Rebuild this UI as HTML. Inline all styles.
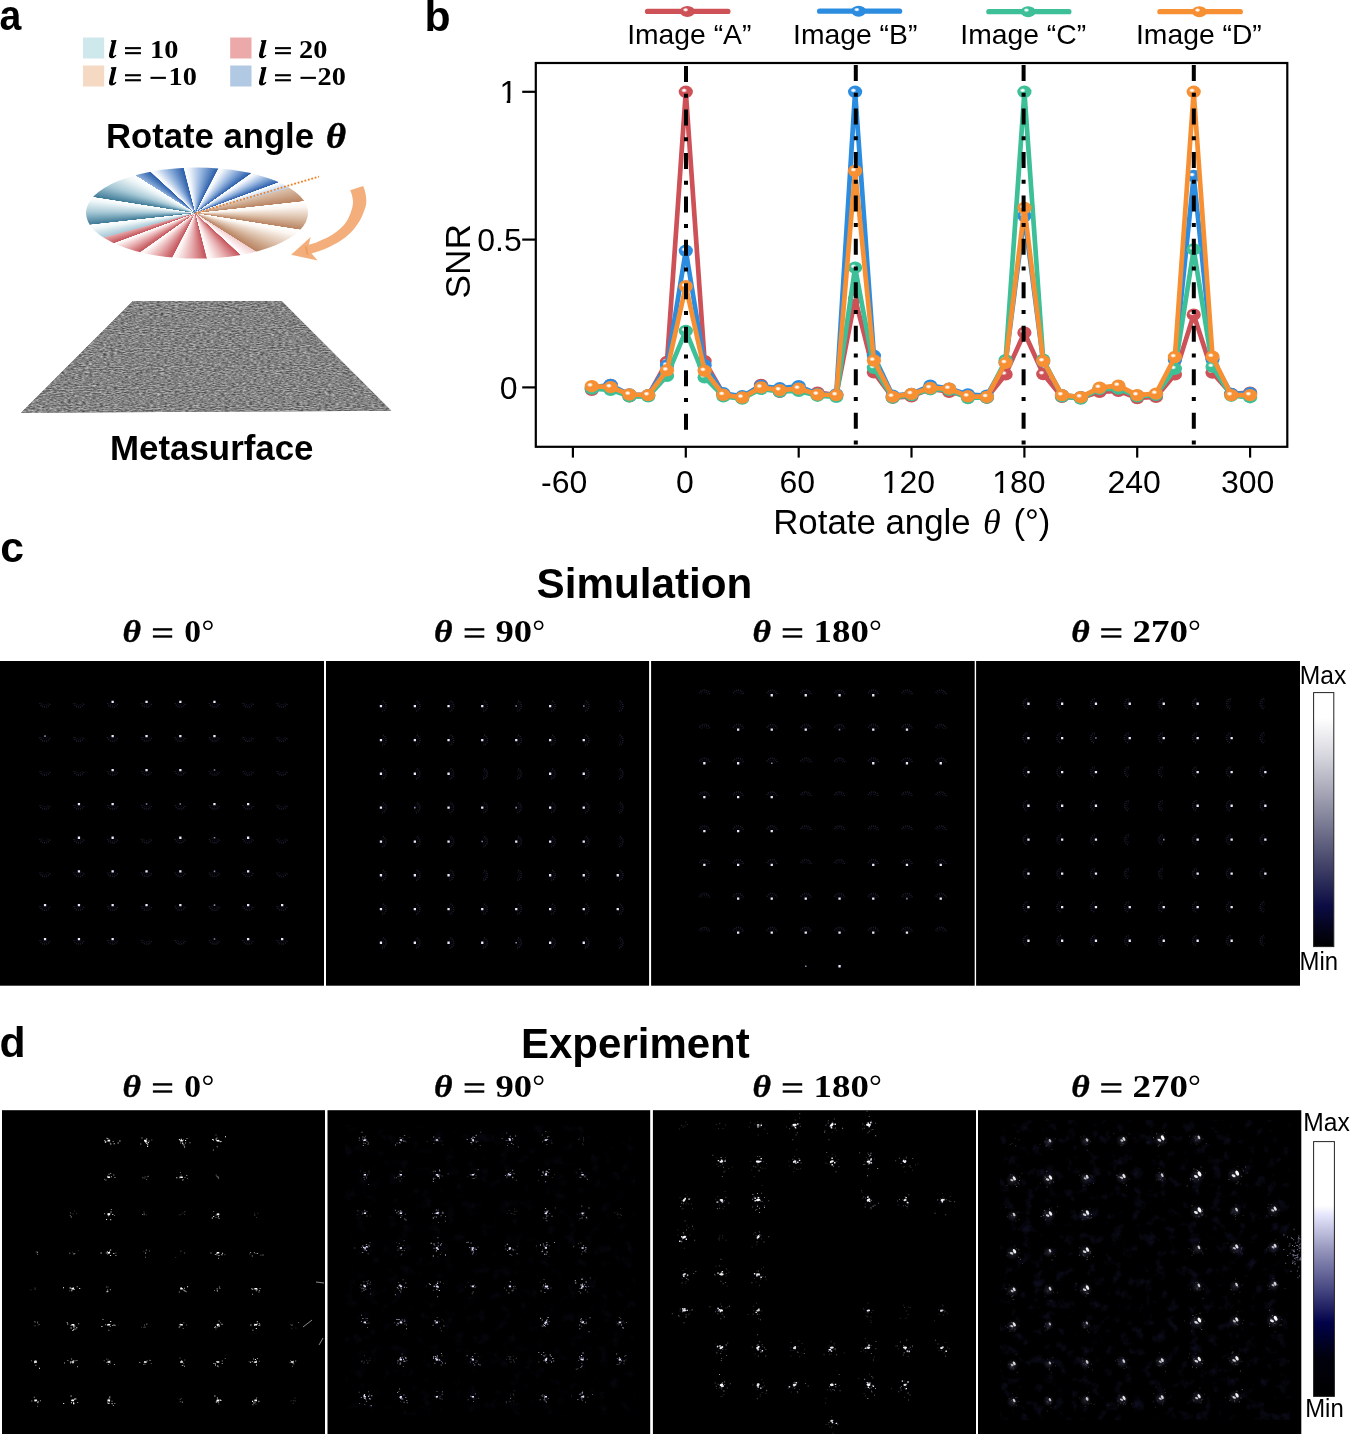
<!DOCTYPE html>
<html><head><meta charset="utf-8"><title>Figure</title>
<style>
html,body{margin:0;padding:0;background:#fff;}
body{width:1350px;height:1434px;position:relative;overflow:hidden;font-family:"Liberation Sans",sans-serif;}
svg{position:absolute;left:0;top:0;will-change:transform;}
text{font-family:"Liberation Sans",sans-serif;fill:#000;}
.b{font-weight:bold;}
.se{font-family:"Liberation Serif",serif;}
.sbi{font-family:"Liberation Serif",serif;font-weight:bold;font-style:italic;}
.sb{font-family:"Liberation Serif",serif;font-weight:bold;}
#disk{position:absolute;left:86.2px;top:102.1px;width:222.2px;height:222.2px;border-radius:50%;
 transform:scaleY(0.4104);transform-origin:50% 50%;background-color:#cdc3c9;
 background:conic-gradient(from 327deg at 49.2% 50%, #8fb0dc 0.20deg, #2c5fab 8.80deg, #ffffff 9.20deg, #eef3fb 11.70deg, #8fb0dc 18.90deg, #2c5fab 26.80deg, #ffffff 27.20deg, #eef3fb 29.70deg, #8fb0dc 36.90deg, #2c5fab 44.80deg, #ffffff 45.20deg, #eef3fb 47.70deg, #8fb0dc 54.90deg, #2c5fab 62.80deg, #ffffff 63.20deg, #eef3fb 65.70deg, #8fb0dc 72.90deg, #2c5fab 80.80deg, #ffffff 81.20deg, #b9cfec 89.80deg, #dcc0aa 90.20deg, #b98462 107.80deg, #ffffff 108.20deg, #fbf5f0 115.20deg, #dcc0aa 129.60deg, #b98462 143.80deg, #ffffff 144.20deg, #fbf5f0 151.20deg, #dcc0aa 165.60deg, #b98462 179.80deg, #f3cfd1 180.20deg, #ffffff 188.80deg, #c4555b 189.20deg, #e6a9ab 197.10deg, #fbeeee 204.30deg, #ffffff 206.80deg, #c4555b 207.20deg, #e6a9ab 215.10deg, #fbeeee 222.30deg, #ffffff 224.80deg, #c4555b 225.20deg, #e6a9ab 233.10deg, #fbeeee 240.30deg, #ffffff 242.80deg, #c4555b 243.20deg, #e6a9ab 251.10deg, #fbeeee 258.30deg, #ffffff 260.80deg, #c4555b 261.20deg, #e6a9ab 269.80deg, #a7c9d6 270.20deg, #eef6f8 282.60deg, #ffffff 287.80deg, #3f7b98 288.20deg, #a7c9d6 304.20deg, #eef6f8 318.60deg, #ffffff 323.80deg, #3f7b98 324.20deg, #a7c9d6 340.20deg, #eef6f8 354.60deg, #ffffff 359.80deg);}
</style></head><body>
<div id="disk"></div>
<svg width="1350" height="1434" viewBox="0 0 1350 1434">
<text class="b" x="-0.4" y="30.4" font-size="42.7" textLength="21.8" lengthAdjust="spacingAndGlyphs">a</text>
<text class="b" x="424.6" y="30.6" font-size="42.7">b</text>
<rect x="83" y="37.5" width="21.2" height="21" fill="#cfe8ec"/>
<rect x="83" y="65.5" width="21.2" height="21" fill="#f5d9c3"/>
<rect x="230.2" y="37.5" width="21.3" height="21" fill="#eba9a9"/>
<rect x="230.2" y="65.5" width="21.3" height="21" fill="#b1c9e3"/>
<defs><path id="ell" d="M111.1,40.2 L116.5,40 L113.1,54.6 Q112.8,56.5 113.9,56 L115.6,54.7 L116.5,55.6 Q114.5,58.3 111.6,58.3 Q108.5,58.3 109,54.6 L111.9,41.9 L110.8,41.3 Z"/></defs>
<use href="#ell" x="0.0" y="0.0"/><rect x="125.0" y="47.1" width="15.9" height="2.1" fill="#000"/><rect x="125.0" y="52.1" width="15.9" height="2.1" fill="#000"/><text class="sb" x="150.0" y="58.0" font-size="25.2" textLength="28.3" lengthAdjust="spacingAndGlyphs">10</text>
<use href="#ell" x="0.0" y="27.1"/><rect x="125.0" y="74.2" width="15.9" height="2.1" fill="#000"/><rect x="125.0" y="79.2" width="15.9" height="2.1" fill="#000"/><rect x="150.5" y="76.8" width="15.4" height="2.1" fill="#000"/><text class="sb" x="168.6" y="85.1" font-size="25.2" textLength="28.3" lengthAdjust="spacingAndGlyphs">10</text>
<use href="#ell" x="150.0" y="0.0"/><rect x="275.0" y="47.1" width="15.9" height="2.1" fill="#000"/><rect x="275.0" y="52.1" width="15.9" height="2.1" fill="#000"/><text class="sb" x="299.0" y="58.0" font-size="25.2" textLength="28.3" lengthAdjust="spacingAndGlyphs">20</text>
<use href="#ell" x="150.0" y="27.1"/><rect x="275.0" y="74.2" width="15.9" height="2.1" fill="#000"/><rect x="275.0" y="79.2" width="15.9" height="2.1" fill="#000"/><rect x="300.5" y="76.8" width="15.4" height="2.1" fill="#000"/><text class="sb" x="317.6" y="85.1" font-size="25.2" textLength="28.3" lengthAdjust="spacingAndGlyphs">20</text>
<text class="b" x="106" y="148.1" font-size="34.5" textLength="208" lengthAdjust="spacingAndGlyphs">Rotate angle</text>
<text class="sbi" x="326" y="148.1" font-size="35" textLength="20" lengthAdjust="spacingAndGlyphs" stroke="#000" stroke-width="0.5">θ</text>
<text class="b" x="110" y="459.5" font-size="35" textLength="203.5" lengthAdjust="spacingAndGlyphs">Metasurface</text>
<line x1="195.6" y1="213.3" x2="318.9" y2="176.6" stroke="#f07f20" stroke-width="1.8" stroke-dasharray="1.8 1.75"/>
<path d="M363.2,186.1 C367.5,197 366.8,205 364.4,210 C362.5,216 360,221 356.7,225.2 C353.5,230 349.5,234 345.2,237.5 C340.5,241 335.5,244 329.8,246.7 C324,249.5 318,251.8 311.5,253.4 L317.6,260.5 L291.1,254.7 L310.7,237.1 L308.8,244.8 C313.5,243.8 318,241.9 322.2,239.8 C326.5,238 330.3,236 333.7,233.7 C337.5,231.2 340.8,228.4 343.7,225.2 C346.8,221.5 349,217.5 350.6,212.9 C352.3,208 353.3,204 352.9,200.7 C352.6,197 351.7,193.5 350.2,190.3 Z" fill="#f3ae7b"/>
<path d="M305.6,246.2 L307.6,254.6" stroke="#ec9550" stroke-width="1.6" fill="none" opacity="0.8"/>
<filter id="noise" x="0" y="0" width="100%" height="100%" color-interpolation-filters="sRGB"><feTurbulence type="fractalNoise" baseFrequency="0.28 0.95" numOctaves="2" seed="5"/><feColorMatrix type="matrix" values="0.68 0 0 0 0.175  0.68 0 0 0 0.175  0.68 0 0 0 0.175  0 0 0 0 1"/><feComposite operator="in" in2="SourceGraphic"/></filter>
<polygon points="132.8,301 281.6,301 391.3,410.8 21,412.8" fill="#858585"/>
<polygon points="132.8,301 281.6,301 391.3,410.8 21,412.8" fill="#858585" filter="url(#noise)"/>
<defs><radialGradient id="hl"><stop offset="0" stop-color="#fff" stop-opacity="1"/><stop offset="0.4" stop-color="#fff" stop-opacity="0.9"/><stop offset="1" stop-color="#fff" stop-opacity="0"/></radialGradient></defs>
<polyline points="591.8,389.8 610.6,385.0 629.4,396.3 648.2,395.7 667.0,362.0 685.8,91.8 704.6,361.1 723.4,393.9 742.2,397.5 761.0,385.0 779.8,391.8 798.7,389.2 817.5,392.7 836.3,395.1 855.1,298.7 873.9,372.3 892.7,397.7 911.5,396.3 930.3,388.9 949.1,391.8 967.9,396.3 986.8,397.7 1005.6,374.4 1024.4,332.7 1043.2,374.1 1062.0,396.9 1080.8,398.0 1099.6,391.8 1118.4,390.9 1137.2,398.0 1156.0,396.9 1174.9,374.4 1193.7,314.7 1212.5,372.6 1231.3,393.9 1250.1,392.7" fill="none" stroke="#cd5156" stroke-width="4.7" stroke-linejoin="round" stroke-linecap="round"/><ellipse cx="591.8" cy="389.8" rx="7.1" ry="6.2" fill="#cd5156"/><ellipse cx="590.0" cy="388.4" rx="3.1" ry="2.3" fill="url(#hl)"/><ellipse cx="610.6" cy="385.0" rx="7.1" ry="6.2" fill="#cd5156"/><ellipse cx="608.9" cy="383.6" rx="3.1" ry="2.3" fill="url(#hl)"/><ellipse cx="629.4" cy="396.3" rx="7.1" ry="6.2" fill="#cd5156"/><ellipse cx="627.7" cy="394.9" rx="3.1" ry="2.3" fill="url(#hl)"/><ellipse cx="648.2" cy="395.7" rx="7.1" ry="6.2" fill="#cd5156"/><ellipse cx="646.5" cy="394.3" rx="3.1" ry="2.3" fill="url(#hl)"/><ellipse cx="667.0" cy="362.0" rx="7.1" ry="6.2" fill="#cd5156"/><ellipse cx="665.3" cy="360.6" rx="3.1" ry="2.3" fill="url(#hl)"/><ellipse cx="685.8" cy="91.8" rx="7.1" ry="6.2" fill="#cd5156"/><ellipse cx="684.1" cy="90.4" rx="3.1" ry="2.3" fill="url(#hl)"/><ellipse cx="704.6" cy="361.1" rx="7.1" ry="6.2" fill="#cd5156"/><ellipse cx="702.9" cy="359.7" rx="3.1" ry="2.3" fill="url(#hl)"/><ellipse cx="723.4" cy="393.9" rx="7.1" ry="6.2" fill="#cd5156"/><ellipse cx="721.7" cy="392.5" rx="3.1" ry="2.3" fill="url(#hl)"/><ellipse cx="742.2" cy="397.5" rx="7.1" ry="6.2" fill="#cd5156"/><ellipse cx="740.5" cy="396.1" rx="3.1" ry="2.3" fill="url(#hl)"/><ellipse cx="761.0" cy="385.0" rx="7.1" ry="6.2" fill="#cd5156"/><ellipse cx="759.3" cy="383.6" rx="3.1" ry="2.3" fill="url(#hl)"/><ellipse cx="779.8" cy="391.8" rx="7.1" ry="6.2" fill="#cd5156"/><ellipse cx="778.1" cy="390.4" rx="3.1" ry="2.3" fill="url(#hl)"/><ellipse cx="798.7" cy="389.2" rx="7.1" ry="6.2" fill="#cd5156"/><ellipse cx="797.0" cy="387.8" rx="3.1" ry="2.3" fill="url(#hl)"/><ellipse cx="817.5" cy="392.7" rx="7.1" ry="6.2" fill="#cd5156"/><ellipse cx="815.8" cy="391.3" rx="3.1" ry="2.3" fill="url(#hl)"/><ellipse cx="836.3" cy="395.1" rx="7.1" ry="6.2" fill="#cd5156"/><ellipse cx="834.6" cy="393.7" rx="3.1" ry="2.3" fill="url(#hl)"/><ellipse cx="855.1" cy="298.7" rx="7.1" ry="6.2" fill="#cd5156"/><ellipse cx="853.4" cy="297.3" rx="3.1" ry="2.3" fill="url(#hl)"/><ellipse cx="873.9" cy="372.3" rx="7.1" ry="6.2" fill="#cd5156"/><ellipse cx="872.2" cy="370.9" rx="3.1" ry="2.3" fill="url(#hl)"/><ellipse cx="892.7" cy="397.7" rx="7.1" ry="6.2" fill="#cd5156"/><ellipse cx="891.0" cy="396.3" rx="3.1" ry="2.3" fill="url(#hl)"/><ellipse cx="911.5" cy="396.3" rx="7.1" ry="6.2" fill="#cd5156"/><ellipse cx="909.8" cy="394.9" rx="3.1" ry="2.3" fill="url(#hl)"/><ellipse cx="930.3" cy="388.9" rx="7.1" ry="6.2" fill="#cd5156"/><ellipse cx="928.6" cy="387.5" rx="3.1" ry="2.3" fill="url(#hl)"/><ellipse cx="949.1" cy="391.8" rx="7.1" ry="6.2" fill="#cd5156"/><ellipse cx="947.4" cy="390.4" rx="3.1" ry="2.3" fill="url(#hl)"/><ellipse cx="967.9" cy="396.3" rx="7.1" ry="6.2" fill="#cd5156"/><ellipse cx="966.2" cy="394.9" rx="3.1" ry="2.3" fill="url(#hl)"/><ellipse cx="986.8" cy="397.7" rx="7.1" ry="6.2" fill="#cd5156"/><ellipse cx="985.1" cy="396.3" rx="3.1" ry="2.3" fill="url(#hl)"/><ellipse cx="1005.6" cy="374.4" rx="7.1" ry="6.2" fill="#cd5156"/><ellipse cx="1003.9" cy="373.0" rx="3.1" ry="2.3" fill="url(#hl)"/><ellipse cx="1024.4" cy="332.7" rx="7.1" ry="6.2" fill="#cd5156"/><ellipse cx="1022.7" cy="331.3" rx="3.1" ry="2.3" fill="url(#hl)"/><ellipse cx="1043.2" cy="374.1" rx="7.1" ry="6.2" fill="#cd5156"/><ellipse cx="1041.5" cy="372.7" rx="3.1" ry="2.3" fill="url(#hl)"/><ellipse cx="1062.0" cy="396.9" rx="7.1" ry="6.2" fill="#cd5156"/><ellipse cx="1060.3" cy="395.5" rx="3.1" ry="2.3" fill="url(#hl)"/><ellipse cx="1080.8" cy="398.0" rx="7.1" ry="6.2" fill="#cd5156"/><ellipse cx="1079.1" cy="396.6" rx="3.1" ry="2.3" fill="url(#hl)"/><ellipse cx="1099.6" cy="391.8" rx="7.1" ry="6.2" fill="#cd5156"/><ellipse cx="1097.9" cy="390.4" rx="3.1" ry="2.3" fill="url(#hl)"/><ellipse cx="1118.4" cy="390.9" rx="7.1" ry="6.2" fill="#cd5156"/><ellipse cx="1116.7" cy="389.5" rx="3.1" ry="2.3" fill="url(#hl)"/><ellipse cx="1137.2" cy="398.0" rx="7.1" ry="6.2" fill="#cd5156"/><ellipse cx="1135.5" cy="396.6" rx="3.1" ry="2.3" fill="url(#hl)"/><ellipse cx="1156.0" cy="396.9" rx="7.1" ry="6.2" fill="#cd5156"/><ellipse cx="1154.3" cy="395.5" rx="3.1" ry="2.3" fill="url(#hl)"/><ellipse cx="1174.9" cy="374.4" rx="7.1" ry="6.2" fill="#cd5156"/><ellipse cx="1173.2" cy="373.0" rx="3.1" ry="2.3" fill="url(#hl)"/><ellipse cx="1193.7" cy="314.7" rx="7.1" ry="6.2" fill="#cd5156"/><ellipse cx="1192.0" cy="313.3" rx="3.1" ry="2.3" fill="url(#hl)"/><ellipse cx="1212.5" cy="372.6" rx="7.1" ry="6.2" fill="#cd5156"/><ellipse cx="1210.8" cy="371.2" rx="3.1" ry="2.3" fill="url(#hl)"/><ellipse cx="1231.3" cy="393.9" rx="7.1" ry="6.2" fill="#cd5156"/><ellipse cx="1229.6" cy="392.5" rx="3.1" ry="2.3" fill="url(#hl)"/><ellipse cx="1250.1" cy="392.7" rx="7.1" ry="6.2" fill="#cd5156"/><ellipse cx="1248.4" cy="391.3" rx="3.1" ry="2.3" fill="url(#hl)"/>
<polyline points="591.8,387.4 610.6,385.0 629.4,394.5 648.2,395.1 667.0,365.5 685.8,250.8 704.6,365.2 723.4,393.3 742.2,396.3 761.0,385.9 779.8,388.3 798.7,386.2 817.5,393.9 836.3,394.5 855.1,91.8 873.9,355.8 892.7,395.7 911.5,393.9 930.3,385.6 949.1,388.6 967.9,394.5 986.8,395.7 1005.6,362.3 1024.4,216.0 1043.2,361.4 1062.0,395.1 1080.8,397.2 1099.6,388.6 1118.4,387.4 1137.2,395.7 1156.0,394.5 1174.9,359.9 1193.7,176.0 1212.5,359.3 1231.3,393.9 1250.1,393.3" fill="none" stroke="#2c8de0" stroke-width="4.7" stroke-linejoin="round" stroke-linecap="round"/><ellipse cx="591.8" cy="387.4" rx="7.1" ry="6.2" fill="#2c8de0"/><ellipse cx="590.0" cy="386.0" rx="3.1" ry="2.3" fill="url(#hl)"/><ellipse cx="610.6" cy="385.0" rx="7.1" ry="6.2" fill="#2c8de0"/><ellipse cx="608.9" cy="383.6" rx="3.1" ry="2.3" fill="url(#hl)"/><ellipse cx="629.4" cy="394.5" rx="7.1" ry="6.2" fill="#2c8de0"/><ellipse cx="627.7" cy="393.1" rx="3.1" ry="2.3" fill="url(#hl)"/><ellipse cx="648.2" cy="395.1" rx="7.1" ry="6.2" fill="#2c8de0"/><ellipse cx="646.5" cy="393.7" rx="3.1" ry="2.3" fill="url(#hl)"/><ellipse cx="667.0" cy="365.5" rx="7.1" ry="6.2" fill="#2c8de0"/><ellipse cx="665.3" cy="364.1" rx="3.1" ry="2.3" fill="url(#hl)"/><ellipse cx="685.8" cy="250.8" rx="7.1" ry="6.2" fill="#2c8de0"/><ellipse cx="684.1" cy="249.4" rx="3.1" ry="2.3" fill="url(#hl)"/><ellipse cx="704.6" cy="365.2" rx="7.1" ry="6.2" fill="#2c8de0"/><ellipse cx="702.9" cy="363.8" rx="3.1" ry="2.3" fill="url(#hl)"/><ellipse cx="723.4" cy="393.3" rx="7.1" ry="6.2" fill="#2c8de0"/><ellipse cx="721.7" cy="391.9" rx="3.1" ry="2.3" fill="url(#hl)"/><ellipse cx="742.2" cy="396.3" rx="7.1" ry="6.2" fill="#2c8de0"/><ellipse cx="740.5" cy="394.9" rx="3.1" ry="2.3" fill="url(#hl)"/><ellipse cx="761.0" cy="385.9" rx="7.1" ry="6.2" fill="#2c8de0"/><ellipse cx="759.3" cy="384.5" rx="3.1" ry="2.3" fill="url(#hl)"/><ellipse cx="779.8" cy="388.3" rx="7.1" ry="6.2" fill="#2c8de0"/><ellipse cx="778.1" cy="386.9" rx="3.1" ry="2.3" fill="url(#hl)"/><ellipse cx="798.7" cy="386.2" rx="7.1" ry="6.2" fill="#2c8de0"/><ellipse cx="797.0" cy="384.8" rx="3.1" ry="2.3" fill="url(#hl)"/><ellipse cx="817.5" cy="393.9" rx="7.1" ry="6.2" fill="#2c8de0"/><ellipse cx="815.8" cy="392.5" rx="3.1" ry="2.3" fill="url(#hl)"/><ellipse cx="836.3" cy="394.5" rx="7.1" ry="6.2" fill="#2c8de0"/><ellipse cx="834.6" cy="393.1" rx="3.1" ry="2.3" fill="url(#hl)"/><ellipse cx="855.1" cy="91.8" rx="7.1" ry="6.2" fill="#2c8de0"/><ellipse cx="853.4" cy="90.4" rx="3.1" ry="2.3" fill="url(#hl)"/><ellipse cx="873.9" cy="355.8" rx="7.1" ry="6.2" fill="#2c8de0"/><ellipse cx="872.2" cy="354.4" rx="3.1" ry="2.3" fill="url(#hl)"/><ellipse cx="892.7" cy="395.7" rx="7.1" ry="6.2" fill="#2c8de0"/><ellipse cx="891.0" cy="394.3" rx="3.1" ry="2.3" fill="url(#hl)"/><ellipse cx="911.5" cy="393.9" rx="7.1" ry="6.2" fill="#2c8de0"/><ellipse cx="909.8" cy="392.5" rx="3.1" ry="2.3" fill="url(#hl)"/><ellipse cx="930.3" cy="385.6" rx="7.1" ry="6.2" fill="#2c8de0"/><ellipse cx="928.6" cy="384.2" rx="3.1" ry="2.3" fill="url(#hl)"/><ellipse cx="949.1" cy="388.6" rx="7.1" ry="6.2" fill="#2c8de0"/><ellipse cx="947.4" cy="387.2" rx="3.1" ry="2.3" fill="url(#hl)"/><ellipse cx="967.9" cy="394.5" rx="7.1" ry="6.2" fill="#2c8de0"/><ellipse cx="966.2" cy="393.1" rx="3.1" ry="2.3" fill="url(#hl)"/><ellipse cx="986.8" cy="395.7" rx="7.1" ry="6.2" fill="#2c8de0"/><ellipse cx="985.1" cy="394.3" rx="3.1" ry="2.3" fill="url(#hl)"/><ellipse cx="1005.6" cy="362.3" rx="7.1" ry="6.2" fill="#2c8de0"/><ellipse cx="1003.9" cy="360.9" rx="3.1" ry="2.3" fill="url(#hl)"/><ellipse cx="1024.4" cy="216.0" rx="7.1" ry="6.2" fill="#2c8de0"/><ellipse cx="1022.7" cy="214.6" rx="3.1" ry="2.3" fill="url(#hl)"/><ellipse cx="1043.2" cy="361.4" rx="7.1" ry="6.2" fill="#2c8de0"/><ellipse cx="1041.5" cy="360.0" rx="3.1" ry="2.3" fill="url(#hl)"/><ellipse cx="1062.0" cy="395.1" rx="7.1" ry="6.2" fill="#2c8de0"/><ellipse cx="1060.3" cy="393.7" rx="3.1" ry="2.3" fill="url(#hl)"/><ellipse cx="1080.8" cy="397.2" rx="7.1" ry="6.2" fill="#2c8de0"/><ellipse cx="1079.1" cy="395.8" rx="3.1" ry="2.3" fill="url(#hl)"/><ellipse cx="1099.6" cy="388.6" rx="7.1" ry="6.2" fill="#2c8de0"/><ellipse cx="1097.9" cy="387.2" rx="3.1" ry="2.3" fill="url(#hl)"/><ellipse cx="1118.4" cy="387.4" rx="7.1" ry="6.2" fill="#2c8de0"/><ellipse cx="1116.7" cy="386.0" rx="3.1" ry="2.3" fill="url(#hl)"/><ellipse cx="1137.2" cy="395.7" rx="7.1" ry="6.2" fill="#2c8de0"/><ellipse cx="1135.5" cy="394.3" rx="3.1" ry="2.3" fill="url(#hl)"/><ellipse cx="1156.0" cy="394.5" rx="7.1" ry="6.2" fill="#2c8de0"/><ellipse cx="1154.3" cy="393.1" rx="3.1" ry="2.3" fill="url(#hl)"/><ellipse cx="1174.9" cy="359.9" rx="7.1" ry="6.2" fill="#2c8de0"/><ellipse cx="1173.2" cy="358.5" rx="3.1" ry="2.3" fill="url(#hl)"/><ellipse cx="1193.7" cy="176.0" rx="7.1" ry="6.2" fill="#2c8de0"/><ellipse cx="1192.0" cy="174.6" rx="3.1" ry="2.3" fill="url(#hl)"/><ellipse cx="1212.5" cy="359.3" rx="7.1" ry="6.2" fill="#2c8de0"/><ellipse cx="1210.8" cy="357.9" rx="3.1" ry="2.3" fill="url(#hl)"/><ellipse cx="1231.3" cy="393.9" rx="7.1" ry="6.2" fill="#2c8de0"/><ellipse cx="1229.6" cy="392.5" rx="3.1" ry="2.3" fill="url(#hl)"/><ellipse cx="1250.1" cy="393.3" rx="7.1" ry="6.2" fill="#2c8de0"/><ellipse cx="1248.4" cy="391.9" rx="3.1" ry="2.3" fill="url(#hl)"/>
<polyline points="591.8,388.6 610.6,389.8 629.4,396.3 648.2,396.3 667.0,375.9 685.8,330.9 704.6,377.3 723.4,396.3 742.2,398.6 761.0,388.9 779.8,391.5 798.7,390.9 817.5,395.7 836.3,396.9 855.1,267.7 873.9,367.9 892.7,397.5 911.5,395.1 930.3,389.2 949.1,389.8 967.9,398.0 986.8,397.5 1005.6,360.2 1024.4,91.8 1043.2,359.6 1062.0,396.3 1080.8,398.6 1099.6,388.9 1118.4,388.6 1137.2,396.3 1156.0,394.8 1174.9,368.8 1193.7,249.4 1212.5,366.7 1231.3,395.7 1250.1,397.2" fill="none" stroke="#3dbf98" stroke-width="4.7" stroke-linejoin="round" stroke-linecap="round"/><ellipse cx="591.8" cy="388.6" rx="7.1" ry="6.2" fill="#3dbf98"/><ellipse cx="590.0" cy="387.2" rx="3.1" ry="2.3" fill="url(#hl)"/><ellipse cx="610.6" cy="389.8" rx="7.1" ry="6.2" fill="#3dbf98"/><ellipse cx="608.9" cy="388.4" rx="3.1" ry="2.3" fill="url(#hl)"/><ellipse cx="629.4" cy="396.3" rx="7.1" ry="6.2" fill="#3dbf98"/><ellipse cx="627.7" cy="394.9" rx="3.1" ry="2.3" fill="url(#hl)"/><ellipse cx="648.2" cy="396.3" rx="7.1" ry="6.2" fill="#3dbf98"/><ellipse cx="646.5" cy="394.9" rx="3.1" ry="2.3" fill="url(#hl)"/><ellipse cx="667.0" cy="375.9" rx="7.1" ry="6.2" fill="#3dbf98"/><ellipse cx="665.3" cy="374.5" rx="3.1" ry="2.3" fill="url(#hl)"/><ellipse cx="685.8" cy="330.9" rx="7.1" ry="6.2" fill="#3dbf98"/><ellipse cx="684.1" cy="329.5" rx="3.1" ry="2.3" fill="url(#hl)"/><ellipse cx="704.6" cy="377.3" rx="7.1" ry="6.2" fill="#3dbf98"/><ellipse cx="702.9" cy="375.9" rx="3.1" ry="2.3" fill="url(#hl)"/><ellipse cx="723.4" cy="396.3" rx="7.1" ry="6.2" fill="#3dbf98"/><ellipse cx="721.7" cy="394.9" rx="3.1" ry="2.3" fill="url(#hl)"/><ellipse cx="742.2" cy="398.6" rx="7.1" ry="6.2" fill="#3dbf98"/><ellipse cx="740.5" cy="397.2" rx="3.1" ry="2.3" fill="url(#hl)"/><ellipse cx="761.0" cy="388.9" rx="7.1" ry="6.2" fill="#3dbf98"/><ellipse cx="759.3" cy="387.5" rx="3.1" ry="2.3" fill="url(#hl)"/><ellipse cx="779.8" cy="391.5" rx="7.1" ry="6.2" fill="#3dbf98"/><ellipse cx="778.1" cy="390.1" rx="3.1" ry="2.3" fill="url(#hl)"/><ellipse cx="798.7" cy="390.9" rx="7.1" ry="6.2" fill="#3dbf98"/><ellipse cx="797.0" cy="389.5" rx="3.1" ry="2.3" fill="url(#hl)"/><ellipse cx="817.5" cy="395.7" rx="7.1" ry="6.2" fill="#3dbf98"/><ellipse cx="815.8" cy="394.3" rx="3.1" ry="2.3" fill="url(#hl)"/><ellipse cx="836.3" cy="396.9" rx="7.1" ry="6.2" fill="#3dbf98"/><ellipse cx="834.6" cy="395.5" rx="3.1" ry="2.3" fill="url(#hl)"/><ellipse cx="855.1" cy="267.7" rx="7.1" ry="6.2" fill="#3dbf98"/><ellipse cx="853.4" cy="266.3" rx="3.1" ry="2.3" fill="url(#hl)"/><ellipse cx="873.9" cy="367.9" rx="7.1" ry="6.2" fill="#3dbf98"/><ellipse cx="872.2" cy="366.5" rx="3.1" ry="2.3" fill="url(#hl)"/><ellipse cx="892.7" cy="397.5" rx="7.1" ry="6.2" fill="#3dbf98"/><ellipse cx="891.0" cy="396.1" rx="3.1" ry="2.3" fill="url(#hl)"/><ellipse cx="911.5" cy="395.1" rx="7.1" ry="6.2" fill="#3dbf98"/><ellipse cx="909.8" cy="393.7" rx="3.1" ry="2.3" fill="url(#hl)"/><ellipse cx="930.3" cy="389.2" rx="7.1" ry="6.2" fill="#3dbf98"/><ellipse cx="928.6" cy="387.8" rx="3.1" ry="2.3" fill="url(#hl)"/><ellipse cx="949.1" cy="389.8" rx="7.1" ry="6.2" fill="#3dbf98"/><ellipse cx="947.4" cy="388.4" rx="3.1" ry="2.3" fill="url(#hl)"/><ellipse cx="967.9" cy="398.0" rx="7.1" ry="6.2" fill="#3dbf98"/><ellipse cx="966.2" cy="396.6" rx="3.1" ry="2.3" fill="url(#hl)"/><ellipse cx="986.8" cy="397.5" rx="7.1" ry="6.2" fill="#3dbf98"/><ellipse cx="985.1" cy="396.1" rx="3.1" ry="2.3" fill="url(#hl)"/><ellipse cx="1005.6" cy="360.2" rx="7.1" ry="6.2" fill="#3dbf98"/><ellipse cx="1003.9" cy="358.8" rx="3.1" ry="2.3" fill="url(#hl)"/><ellipse cx="1024.4" cy="91.8" rx="7.1" ry="6.2" fill="#3dbf98"/><ellipse cx="1022.7" cy="90.4" rx="3.1" ry="2.3" fill="url(#hl)"/><ellipse cx="1043.2" cy="359.6" rx="7.1" ry="6.2" fill="#3dbf98"/><ellipse cx="1041.5" cy="358.2" rx="3.1" ry="2.3" fill="url(#hl)"/><ellipse cx="1062.0" cy="396.3" rx="7.1" ry="6.2" fill="#3dbf98"/><ellipse cx="1060.3" cy="394.9" rx="3.1" ry="2.3" fill="url(#hl)"/><ellipse cx="1080.8" cy="398.6" rx="7.1" ry="6.2" fill="#3dbf98"/><ellipse cx="1079.1" cy="397.2" rx="3.1" ry="2.3" fill="url(#hl)"/><ellipse cx="1099.6" cy="388.9" rx="7.1" ry="6.2" fill="#3dbf98"/><ellipse cx="1097.9" cy="387.5" rx="3.1" ry="2.3" fill="url(#hl)"/><ellipse cx="1118.4" cy="388.6" rx="7.1" ry="6.2" fill="#3dbf98"/><ellipse cx="1116.7" cy="387.2" rx="3.1" ry="2.3" fill="url(#hl)"/><ellipse cx="1137.2" cy="396.3" rx="7.1" ry="6.2" fill="#3dbf98"/><ellipse cx="1135.5" cy="394.9" rx="3.1" ry="2.3" fill="url(#hl)"/><ellipse cx="1156.0" cy="394.8" rx="7.1" ry="6.2" fill="#3dbf98"/><ellipse cx="1154.3" cy="393.4" rx="3.1" ry="2.3" fill="url(#hl)"/><ellipse cx="1174.9" cy="368.8" rx="7.1" ry="6.2" fill="#3dbf98"/><ellipse cx="1173.2" cy="367.4" rx="3.1" ry="2.3" fill="url(#hl)"/><ellipse cx="1193.7" cy="249.4" rx="7.1" ry="6.2" fill="#3dbf98"/><ellipse cx="1192.0" cy="248.0" rx="3.1" ry="2.3" fill="url(#hl)"/><ellipse cx="1212.5" cy="366.7" rx="7.1" ry="6.2" fill="#3dbf98"/><ellipse cx="1210.8" cy="365.3" rx="3.1" ry="2.3" fill="url(#hl)"/><ellipse cx="1231.3" cy="395.7" rx="7.1" ry="6.2" fill="#3dbf98"/><ellipse cx="1229.6" cy="394.3" rx="3.1" ry="2.3" fill="url(#hl)"/><ellipse cx="1250.1" cy="397.2" rx="7.1" ry="6.2" fill="#3dbf98"/><ellipse cx="1248.4" cy="395.8" rx="3.1" ry="2.3" fill="url(#hl)"/>
<polyline points="591.8,386.2 610.6,387.1 629.4,394.5 648.2,395.1 667.0,370.3 685.8,286.3 704.6,370.8 723.4,394.8 742.2,397.5 761.0,387.4 779.8,390.1 798.7,388.6 817.5,394.5 836.3,395.1 855.1,171.0 873.9,360.5 892.7,396.6 911.5,393.9 930.3,388.0 949.1,388.6 967.9,396.3 986.8,396.9 1005.6,362.9 1024.4,208.0 1043.2,361.1 1062.0,395.1 1080.8,397.2 1099.6,387.7 1118.4,385.6 1137.2,395.1 1156.0,393.6 1174.9,357.0 1193.7,91.8 1212.5,356.7 1231.3,395.1 1250.1,395.1" fill="none" stroke="#f78f33" stroke-width="4.7" stroke-linejoin="round" stroke-linecap="round"/><ellipse cx="591.8" cy="386.2" rx="7.1" ry="6.2" fill="#f78f33"/><ellipse cx="590.0" cy="384.8" rx="3.1" ry="2.3" fill="url(#hl)"/><ellipse cx="610.6" cy="387.1" rx="7.1" ry="6.2" fill="#f78f33"/><ellipse cx="608.9" cy="385.7" rx="3.1" ry="2.3" fill="url(#hl)"/><ellipse cx="629.4" cy="394.5" rx="7.1" ry="6.2" fill="#f78f33"/><ellipse cx="627.7" cy="393.1" rx="3.1" ry="2.3" fill="url(#hl)"/><ellipse cx="648.2" cy="395.1" rx="7.1" ry="6.2" fill="#f78f33"/><ellipse cx="646.5" cy="393.7" rx="3.1" ry="2.3" fill="url(#hl)"/><ellipse cx="667.0" cy="370.3" rx="7.1" ry="6.2" fill="#f78f33"/><ellipse cx="665.3" cy="368.9" rx="3.1" ry="2.3" fill="url(#hl)"/><ellipse cx="685.8" cy="286.3" rx="7.1" ry="6.2" fill="#f78f33"/><ellipse cx="684.1" cy="284.9" rx="3.1" ry="2.3" fill="url(#hl)"/><ellipse cx="704.6" cy="370.8" rx="7.1" ry="6.2" fill="#f78f33"/><ellipse cx="702.9" cy="369.4" rx="3.1" ry="2.3" fill="url(#hl)"/><ellipse cx="723.4" cy="394.8" rx="7.1" ry="6.2" fill="#f78f33"/><ellipse cx="721.7" cy="393.4" rx="3.1" ry="2.3" fill="url(#hl)"/><ellipse cx="742.2" cy="397.5" rx="7.1" ry="6.2" fill="#f78f33"/><ellipse cx="740.5" cy="396.1" rx="3.1" ry="2.3" fill="url(#hl)"/><ellipse cx="761.0" cy="387.4" rx="7.1" ry="6.2" fill="#f78f33"/><ellipse cx="759.3" cy="386.0" rx="3.1" ry="2.3" fill="url(#hl)"/><ellipse cx="779.8" cy="390.1" rx="7.1" ry="6.2" fill="#f78f33"/><ellipse cx="778.1" cy="388.7" rx="3.1" ry="2.3" fill="url(#hl)"/><ellipse cx="798.7" cy="388.6" rx="7.1" ry="6.2" fill="#f78f33"/><ellipse cx="797.0" cy="387.2" rx="3.1" ry="2.3" fill="url(#hl)"/><ellipse cx="817.5" cy="394.5" rx="7.1" ry="6.2" fill="#f78f33"/><ellipse cx="815.8" cy="393.1" rx="3.1" ry="2.3" fill="url(#hl)"/><ellipse cx="836.3" cy="395.1" rx="7.1" ry="6.2" fill="#f78f33"/><ellipse cx="834.6" cy="393.7" rx="3.1" ry="2.3" fill="url(#hl)"/><ellipse cx="855.1" cy="171.0" rx="7.1" ry="6.2" fill="#f78f33"/><ellipse cx="853.4" cy="169.6" rx="3.1" ry="2.3" fill="url(#hl)"/><ellipse cx="873.9" cy="360.5" rx="7.1" ry="6.2" fill="#f78f33"/><ellipse cx="872.2" cy="359.1" rx="3.1" ry="2.3" fill="url(#hl)"/><ellipse cx="892.7" cy="396.6" rx="7.1" ry="6.2" fill="#f78f33"/><ellipse cx="891.0" cy="395.2" rx="3.1" ry="2.3" fill="url(#hl)"/><ellipse cx="911.5" cy="393.9" rx="7.1" ry="6.2" fill="#f78f33"/><ellipse cx="909.8" cy="392.5" rx="3.1" ry="2.3" fill="url(#hl)"/><ellipse cx="930.3" cy="388.0" rx="7.1" ry="6.2" fill="#f78f33"/><ellipse cx="928.6" cy="386.6" rx="3.1" ry="2.3" fill="url(#hl)"/><ellipse cx="949.1" cy="388.6" rx="7.1" ry="6.2" fill="#f78f33"/><ellipse cx="947.4" cy="387.2" rx="3.1" ry="2.3" fill="url(#hl)"/><ellipse cx="967.9" cy="396.3" rx="7.1" ry="6.2" fill="#f78f33"/><ellipse cx="966.2" cy="394.9" rx="3.1" ry="2.3" fill="url(#hl)"/><ellipse cx="986.8" cy="396.9" rx="7.1" ry="6.2" fill="#f78f33"/><ellipse cx="985.1" cy="395.5" rx="3.1" ry="2.3" fill="url(#hl)"/><ellipse cx="1005.6" cy="362.9" rx="7.1" ry="6.2" fill="#f78f33"/><ellipse cx="1003.9" cy="361.5" rx="3.1" ry="2.3" fill="url(#hl)"/><ellipse cx="1024.4" cy="208.0" rx="7.1" ry="6.2" fill="#f78f33"/><ellipse cx="1022.7" cy="206.6" rx="3.1" ry="2.3" fill="url(#hl)"/><ellipse cx="1043.2" cy="361.1" rx="7.1" ry="6.2" fill="#f78f33"/><ellipse cx="1041.5" cy="359.7" rx="3.1" ry="2.3" fill="url(#hl)"/><ellipse cx="1062.0" cy="395.1" rx="7.1" ry="6.2" fill="#f78f33"/><ellipse cx="1060.3" cy="393.7" rx="3.1" ry="2.3" fill="url(#hl)"/><ellipse cx="1080.8" cy="397.2" rx="7.1" ry="6.2" fill="#f78f33"/><ellipse cx="1079.1" cy="395.8" rx="3.1" ry="2.3" fill="url(#hl)"/><ellipse cx="1099.6" cy="387.7" rx="7.1" ry="6.2" fill="#f78f33"/><ellipse cx="1097.9" cy="386.3" rx="3.1" ry="2.3" fill="url(#hl)"/><ellipse cx="1118.4" cy="385.6" rx="7.1" ry="6.2" fill="#f78f33"/><ellipse cx="1116.7" cy="384.2" rx="3.1" ry="2.3" fill="url(#hl)"/><ellipse cx="1137.2" cy="395.1" rx="7.1" ry="6.2" fill="#f78f33"/><ellipse cx="1135.5" cy="393.7" rx="3.1" ry="2.3" fill="url(#hl)"/><ellipse cx="1156.0" cy="393.6" rx="7.1" ry="6.2" fill="#f78f33"/><ellipse cx="1154.3" cy="392.2" rx="3.1" ry="2.3" fill="url(#hl)"/><ellipse cx="1174.9" cy="357.0" rx="7.1" ry="6.2" fill="#f78f33"/><ellipse cx="1173.2" cy="355.6" rx="3.1" ry="2.3" fill="url(#hl)"/><ellipse cx="1193.7" cy="91.8" rx="7.1" ry="6.2" fill="#f78f33"/><ellipse cx="1192.0" cy="90.4" rx="3.1" ry="2.3" fill="url(#hl)"/><ellipse cx="1212.5" cy="356.7" rx="7.1" ry="6.2" fill="#f78f33"/><ellipse cx="1210.8" cy="355.3" rx="3.1" ry="2.3" fill="url(#hl)"/><ellipse cx="1231.3" cy="395.1" rx="7.1" ry="6.2" fill="#f78f33"/><ellipse cx="1229.6" cy="393.7" rx="3.1" ry="2.3" fill="url(#hl)"/><ellipse cx="1250.1" cy="395.1" rx="7.1" ry="6.2" fill="#f78f33"/><ellipse cx="1248.4" cy="393.7" rx="3.1" ry="2.3" fill="url(#hl)"/>
<line x1="686.0" y1="66.0" x2="686.0" y2="432.0" stroke="#000" stroke-width="4" stroke-dasharray="16 11.73 4 11.73"/>
<line x1="855.8" y1="65.0" x2="855.8" y2="445.0" stroke="#000" stroke-width="4" stroke-dasharray="16 11.73 4 11.73"/>
<line x1="1023.6" y1="65.0" x2="1023.6" y2="445.0" stroke="#000" stroke-width="4" stroke-dasharray="16 11.73 4 11.73"/>
<line x1="1193.8" y1="65.0" x2="1193.8" y2="445.0" stroke="#000" stroke-width="4" stroke-dasharray="16 11.73 4 11.73"/>
<rect x="535.8" y="63" width="751.5" height="383.8" fill="none" stroke="#000" stroke-width="2.2"/>
<line x1="522.2" y1="91.8" x2="535.8" y2="91.8" stroke="#000" stroke-width="2.2"/>
<line x1="522.2" y1="239.6" x2="535.8" y2="239.6" stroke="#000" stroke-width="2.2"/>
<line x1="522.2" y1="387.4" x2="535.8" y2="387.4" stroke="#000" stroke-width="2.2"/>
<line x1="572.9" y1="446.8" x2="572.9" y2="457.6" stroke="#000" stroke-width="2.2"/>
<line x1="685.8" y1="446.8" x2="685.8" y2="457.6" stroke="#000" stroke-width="2.2"/>
<line x1="798.7" y1="446.8" x2="798.7" y2="457.6" stroke="#000" stroke-width="2.2"/>
<line x1="911.5" y1="446.8" x2="911.5" y2="457.6" stroke="#000" stroke-width="2.2"/>
<line x1="1024.4" y1="446.8" x2="1024.4" y2="457.6" stroke="#000" stroke-width="2.2"/>
<line x1="1137.2" y1="446.8" x2="1137.2" y2="457.6" stroke="#000" stroke-width="2.2"/>
<line x1="1250.1" y1="446.8" x2="1250.1" y2="457.6" stroke="#000" stroke-width="2.2"/>
<text x="499.5" y="103.3" font-size="32">1</text>
<text x="477.3" y="250.5" font-size="32">0.5</text>
<text x="499.7" y="398.6" font-size="32">0</text>
<text x="564.2" y="493.4" font-size="32" text-anchor="middle">-60</text>
<text x="684.8" y="493.4" font-size="32" text-anchor="middle">0</text>
<text x="797.2" y="493.4" font-size="32" text-anchor="middle">60</text>
<text x="908.3" y="493.4" font-size="32" text-anchor="middle">120</text>
<text x="1018.9" y="493.4" font-size="32" text-anchor="middle">180</text>
<text x="1134.2" y="493.4" font-size="32" text-anchor="middle">240</text>
<text x="1247.6" y="493.4" font-size="32" text-anchor="middle">300</text>
<rect x="500.30" y="99.7" width="6.45" height="4.5" fill="#fff"/><rect x="510.25" y="99.7" width="6.75" height="4.5" fill="#fff"/>
<rect x="882.30" y="489.7" width="6.45" height="4.5" fill="#fff"/><rect x="892.25" y="489.7" width="6.05" height="4.5" fill="#fff"/>
<rect x="993.30" y="489.7" width="6.45" height="4.5" fill="#fff"/><rect x="1003.25" y="489.7" width="6.75" height="4.5" fill="#fff"/>
<text x="773.2" y="534.4" font-size="35" textLength="197.5" lengthAdjust="spacingAndGlyphs">Rotate angle</text>
<text class="se" x="983" y="534.4" font-size="36" font-style="italic">θ</text>
<text x="1013.4" y="534.4" font-size="35" textLength="37" lengthAdjust="spacingAndGlyphs">(°)</text>
<text transform="translate(470.3,298.5) rotate(-90)" font-size="35.3">SNR</text>
<line x1="647.5" y1="11.4" x2="727.9" y2="11.4" stroke="#cd5156" stroke-width="5.2" stroke-linecap="round"/>
<ellipse cx="687.4" cy="11.4" rx="7.4" ry="5.5" fill="#cd5156"/><ellipse cx="685.6" cy="9.8" rx="3" ry="2.1" fill="url(#hl)"/>
<text x="689.3" y="43.6" font-size="28.3" text-anchor="middle">Image “A”</text>
<line x1="819.6" y1="11.2" x2="899.6" y2="11.2" stroke="#2c8de0" stroke-width="5.2" stroke-linecap="round"/>
<ellipse cx="858.6" cy="11.2" rx="7.4" ry="5.5" fill="#2c8de0"/><ellipse cx="856.8" cy="9.6" rx="3" ry="2.1" fill="url(#hl)"/>
<text x="855.2" y="43.6" font-size="28.3" text-anchor="middle">Image “B”</text>
<line x1="988.8" y1="11.7" x2="1068.9" y2="11.7" stroke="#3dbf98" stroke-width="5.2" stroke-linecap="round"/>
<ellipse cx="1028.2" cy="11.7" rx="7.4" ry="5.5" fill="#3dbf98"/><ellipse cx="1026.4" cy="10.1" rx="3" ry="2.1" fill="url(#hl)"/>
<text x="1023.2" y="43.6" font-size="28.3" text-anchor="middle">Image “C”</text>
<line x1="1159.9" y1="11.7" x2="1240.3" y2="11.7" stroke="#f78f33" stroke-width="5.2" stroke-linecap="round"/>
<ellipse cx="1199.4" cy="11.7" rx="7.4" ry="5.5" fill="#f78f33"/><ellipse cx="1197.6" cy="10.1" rx="3" ry="2.1" fill="url(#hl)"/>
<text x="1198.9" y="43.6" font-size="28.3" text-anchor="middle">Image “D”</text>
<text class="b" x="0.3" y="562" font-size="42.7">c</text>
<text class="b" x="536.6" y="598" font-size="42.2">Simulation</text>
<text class="sbi" x="122.6" y="642.2" font-size="31" textLength="18.5" lengthAdjust="spacingAndGlyphs" stroke="#000" stroke-width="0.35">θ</text><rect x="152.9" y="628.2" width="19.3" height="2.4" fill="#000"/><rect x="152.9" y="635.3" width="19.3" height="2.4" fill="#000"/><text class="sb" x="184.3" y="642.2" font-size="32" textLength="16.8" lengthAdjust="spacingAndGlyphs">0</text><text class="se" x="201.4" y="642.2" font-size="32">°</text>
<text class="sbi" x="434.1" y="642.2" font-size="31" textLength="18.5" lengthAdjust="spacingAndGlyphs" stroke="#000" stroke-width="0.35">θ</text><rect x="464.6" y="628.2" width="19.7" height="2.4" fill="#000"/><rect x="464.6" y="635.3" width="19.7" height="2.4" fill="#000"/><text class="sb" x="495.5" y="642.2" font-size="32" textLength="36.6" lengthAdjust="spacingAndGlyphs">90</text><text class="se" x="532.2" y="642.2" font-size="32">°</text>
<text class="sbi" x="752.4" y="642.2" font-size="31" textLength="18.5" lengthAdjust="spacingAndGlyphs" stroke="#000" stroke-width="0.35">θ</text><rect x="782.7" y="628.2" width="19.5" height="2.4" fill="#000"/><rect x="782.7" y="635.3" width="19.5" height="2.4" fill="#000"/><text class="sb" x="813.6" y="642.2" font-size="32" textLength="55.2" lengthAdjust="spacingAndGlyphs">180</text><text class="se" x="869.0" y="642.2" font-size="32">°</text>
<text class="sbi" x="1071.2" y="642.2" font-size="31" textLength="18.5" lengthAdjust="spacingAndGlyphs" stroke="#000" stroke-width="0.35">θ</text><rect x="1101.2" y="628.2" width="20.2" height="2.4" fill="#000"/><rect x="1101.2" y="635.3" width="20.2" height="2.4" fill="#000"/><text class="sb" x="1132.6" y="642.2" font-size="32" textLength="55.4" lengthAdjust="spacingAndGlyphs">270</text><text class="se" x="1188.0" y="642.2" font-size="32">°</text>
<rect x="0.0" y="661" width="324.0" height="324.7" fill="#000"/>
<rect x="326.0" y="661" width="323.1" height="324.7" fill="#000"/>
<rect x="651.1" y="661" width="323.6" height="324.7" fill="#000"/>
<rect x="976.1" y="661" width="323.9" height="324.7" fill="#000"/>
<defs><g id="hal"><path d="M-5.2,1.2 A5.4,5.4 0 0 0 5.2,1.2" fill="none" stroke="#2c2c46" stroke-width="1.6" stroke-dasharray="0.9 1.1"/><path d="M-3,0.8 A3.1,3.1 0 0 0 3,0.8" fill="none" stroke="#1c1c30" stroke-width="1.3" stroke-dasharray="0.8 1"/></g></defs>
<g opacity="0.8"><use href="#hal" transform="translate(45.0,701.9) rotate(0)"/><use href="#hal" transform="translate(79.0,701.9) rotate(0)"/><use href="#hal" transform="translate(112.7,701.9) rotate(0)"/><use href="#hal" transform="translate(146.6,701.9) rotate(0)"/><use href="#hal" transform="translate(180.3,701.9) rotate(0)"/><use href="#hal" transform="translate(214.5,701.9) rotate(0)"/><use href="#hal" transform="translate(248.2,701.9) rotate(0)"/><use href="#hal" transform="translate(282.1,701.9) rotate(0)"/><use href="#hal" transform="translate(45.0,736.1) rotate(0)"/><use href="#hal" transform="translate(79.0,736.1) rotate(0)"/><use href="#hal" transform="translate(112.7,736.1) rotate(0)"/><use href="#hal" transform="translate(146.6,736.1) rotate(0)"/><use href="#hal" transform="translate(180.3,736.1) rotate(0)"/><use href="#hal" transform="translate(214.5,736.1) rotate(0)"/><use href="#hal" transform="translate(248.2,736.1) rotate(0)"/><use href="#hal" transform="translate(282.1,736.1) rotate(0)"/><use href="#hal" transform="translate(45.0,770.0) rotate(0)"/><use href="#hal" transform="translate(79.0,770.0) rotate(0)"/><use href="#hal" transform="translate(112.7,770.0) rotate(0)"/><use href="#hal" transform="translate(146.6,770.0) rotate(0)"/><use href="#hal" transform="translate(180.3,770.0) rotate(0)"/><use href="#hal" transform="translate(214.5,770.0) rotate(0)"/><use href="#hal" transform="translate(248.2,770.0) rotate(0)"/><use href="#hal" transform="translate(282.1,770.0) rotate(0)"/><use href="#hal" transform="translate(45.0,804.0) rotate(0)"/><use href="#hal" transform="translate(79.0,804.0) rotate(0)"/><use href="#hal" transform="translate(112.7,804.0) rotate(0)"/><use href="#hal" transform="translate(146.6,804.0) rotate(0)"/><use href="#hal" transform="translate(180.3,804.0) rotate(0)"/><use href="#hal" transform="translate(214.5,804.0) rotate(0)"/><use href="#hal" transform="translate(248.2,804.0) rotate(0)"/><use href="#hal" transform="translate(282.1,804.0) rotate(0)"/><use href="#hal" transform="translate(45.0,837.7) rotate(0)"/><use href="#hal" transform="translate(79.0,837.7) rotate(0)"/><use href="#hal" transform="translate(112.7,837.7) rotate(0)"/><use href="#hal" transform="translate(146.6,837.7) rotate(0)"/><use href="#hal" transform="translate(180.3,837.7) rotate(0)"/><use href="#hal" transform="translate(214.5,837.7) rotate(0)"/><use href="#hal" transform="translate(248.2,837.7) rotate(0)"/><use href="#hal" transform="translate(282.1,837.7) rotate(0)"/><use href="#hal" transform="translate(45.0,871.4) rotate(0)"/><use href="#hal" transform="translate(79.0,871.4) rotate(0)"/><use href="#hal" transform="translate(112.7,871.4) rotate(0)"/><use href="#hal" transform="translate(146.6,871.4) rotate(0)"/><use href="#hal" transform="translate(180.3,871.4) rotate(0)"/><use href="#hal" transform="translate(214.5,871.4) rotate(0)"/><use href="#hal" transform="translate(248.2,871.4) rotate(0)"/><use href="#hal" transform="translate(282.1,871.4) rotate(0)"/><use href="#hal" transform="translate(45.0,905.1) rotate(0)"/><use href="#hal" transform="translate(79.0,905.1) rotate(0)"/><use href="#hal" transform="translate(112.7,905.1) rotate(0)"/><use href="#hal" transform="translate(146.6,905.1) rotate(0)"/><use href="#hal" transform="translate(180.3,905.1) rotate(0)"/><use href="#hal" transform="translate(214.5,905.1) rotate(0)"/><use href="#hal" transform="translate(248.2,905.1) rotate(0)"/><use href="#hal" transform="translate(282.1,905.1) rotate(0)"/><use href="#hal" transform="translate(45.0,939.0) rotate(0)"/><use href="#hal" transform="translate(79.0,939.0) rotate(0)"/><use href="#hal" transform="translate(112.7,939.0) rotate(0)"/><use href="#hal" transform="translate(146.6,939.0) rotate(0)"/><use href="#hal" transform="translate(180.3,939.0) rotate(0)"/><use href="#hal" transform="translate(214.5,939.0) rotate(0)"/><use href="#hal" transform="translate(248.2,939.0) rotate(0)"/><use href="#hal" transform="translate(282.1,939.0) rotate(0)"/></g>
<path d="M111.5,700.8h2.3v2.3h-2.3zM145.4,700.8h2.3v2.3h-2.3zM179.2,700.8h2.3v2.3h-2.3zM213.3,700.8h2.3v2.3h-2.3zM111.5,735.0h2.3v2.3h-2.3zM145.4,735.0h2.3v2.3h-2.3zM179.2,735.0h2.3v2.3h-2.3zM213.3,735.0h2.3v2.3h-2.3zM111.5,768.9h2.3v2.3h-2.3zM145.4,768.9h2.3v2.3h-2.3zM179.2,768.9h2.3v2.3h-2.3zM77.8,802.9h2.3v2.3h-2.3zM111.5,802.9h2.3v2.3h-2.3zM213.3,802.9h2.3v2.3h-2.3zM247.0,802.9h2.3v2.3h-2.3zM77.8,836.6h2.3v2.3h-2.3zM111.5,836.6h2.3v2.3h-2.3zM179.2,836.6h2.3v2.3h-2.3zM247.0,836.6h2.3v2.3h-2.3zM77.8,870.2h2.3v2.3h-2.3zM111.5,870.2h2.3v2.3h-2.3zM145.4,870.2h2.3v2.3h-2.3zM179.2,870.2h2.3v2.3h-2.3zM247.0,870.2h2.3v2.3h-2.3zM43.9,904.0h2.3v2.3h-2.3zM77.8,904.0h2.3v2.3h-2.3zM111.5,904.0h2.3v2.3h-2.3zM145.4,904.0h2.3v2.3h-2.3zM179.2,904.0h2.3v2.3h-2.3zM247.0,904.0h2.3v2.3h-2.3zM281.0,904.0h2.3v2.3h-2.3zM43.9,937.9h2.3v2.3h-2.3zM77.8,937.9h2.3v2.3h-2.3zM111.5,937.9h2.3v2.3h-2.3zM247.0,937.9h2.3v2.3h-2.3zM281.0,937.9h2.3v2.3h-2.3z" fill="#e8e8ff"/>
<path d="M44.2,735.3h1.6v1.6h-1.6zM213.7,769.2h1.6v1.6h-1.6zM145.8,803.2h1.6v1.6h-1.6zM179.5,803.2h1.6v1.6h-1.6zM213.7,836.9h1.6v1.6h-1.6zM213.7,870.6h1.6v1.6h-1.6zM213.7,904.3h1.6v1.6h-1.6zM213.7,938.2h1.6v1.6h-1.6z" fill="#8484ac"/>
<g opacity="0.8"><use href="#hal" transform="translate(380.9,706.0) rotate(-90)"/><use href="#hal" transform="translate(414.8,706.0) rotate(-90)"/><use href="#hal" transform="translate(448.5,706.0) rotate(-90)"/><use href="#hal" transform="translate(482.2,706.0) rotate(-90)"/><use href="#hal" transform="translate(516.2,706.0) rotate(-90)"/><use href="#hal" transform="translate(550.1,706.0) rotate(-90)"/><use href="#hal" transform="translate(583.8,706.0) rotate(-90)"/><use href="#hal" transform="translate(617.8,706.0) rotate(-90)"/><use href="#hal" transform="translate(380.9,740.0) rotate(-90)"/><use href="#hal" transform="translate(414.8,740.0) rotate(-90)"/><use href="#hal" transform="translate(448.5,740.0) rotate(-90)"/><use href="#hal" transform="translate(482.2,740.0) rotate(-90)"/><use href="#hal" transform="translate(516.2,740.0) rotate(-90)"/><use href="#hal" transform="translate(550.1,740.0) rotate(-90)"/><use href="#hal" transform="translate(583.8,740.0) rotate(-90)"/><use href="#hal" transform="translate(617.8,740.0) rotate(-90)"/><use href="#hal" transform="translate(380.9,773.7) rotate(-90)"/><use href="#hal" transform="translate(414.8,773.7) rotate(-90)"/><use href="#hal" transform="translate(448.5,773.7) rotate(-90)"/><use href="#hal" transform="translate(482.2,773.7) rotate(-90)"/><use href="#hal" transform="translate(516.2,773.7) rotate(-90)"/><use href="#hal" transform="translate(550.1,773.7) rotate(-90)"/><use href="#hal" transform="translate(583.8,773.7) rotate(-90)"/><use href="#hal" transform="translate(617.8,773.7) rotate(-90)"/><use href="#hal" transform="translate(380.9,807.6) rotate(-90)"/><use href="#hal" transform="translate(414.8,807.6) rotate(-90)"/><use href="#hal" transform="translate(448.5,807.6) rotate(-90)"/><use href="#hal" transform="translate(482.2,807.6) rotate(-90)"/><use href="#hal" transform="translate(516.2,807.6) rotate(-90)"/><use href="#hal" transform="translate(550.1,807.6) rotate(-90)"/><use href="#hal" transform="translate(583.8,807.6) rotate(-90)"/><use href="#hal" transform="translate(617.8,807.6) rotate(-90)"/><use href="#hal" transform="translate(380.9,841.5) rotate(-90)"/><use href="#hal" transform="translate(414.8,841.5) rotate(-90)"/><use href="#hal" transform="translate(448.5,841.5) rotate(-90)"/><use href="#hal" transform="translate(482.2,841.5) rotate(-90)"/><use href="#hal" transform="translate(516.2,841.5) rotate(-90)"/><use href="#hal" transform="translate(550.1,841.5) rotate(-90)"/><use href="#hal" transform="translate(583.8,841.5) rotate(-90)"/><use href="#hal" transform="translate(617.8,841.5) rotate(-90)"/><use href="#hal" transform="translate(380.9,875.2) rotate(-90)"/><use href="#hal" transform="translate(414.8,875.2) rotate(-90)"/><use href="#hal" transform="translate(448.5,875.2) rotate(-90)"/><use href="#hal" transform="translate(482.2,875.2) rotate(-90)"/><use href="#hal" transform="translate(516.2,875.2) rotate(-90)"/><use href="#hal" transform="translate(550.1,875.2) rotate(-90)"/><use href="#hal" transform="translate(583.8,875.2) rotate(-90)"/><use href="#hal" transform="translate(617.8,875.2) rotate(-90)"/><use href="#hal" transform="translate(380.9,909.0) rotate(-90)"/><use href="#hal" transform="translate(414.8,909.0) rotate(-90)"/><use href="#hal" transform="translate(448.5,909.0) rotate(-90)"/><use href="#hal" transform="translate(482.2,909.0) rotate(-90)"/><use href="#hal" transform="translate(516.2,909.0) rotate(-90)"/><use href="#hal" transform="translate(550.1,909.0) rotate(-90)"/><use href="#hal" transform="translate(583.8,909.0) rotate(-90)"/><use href="#hal" transform="translate(617.8,909.0) rotate(-90)"/><use href="#hal" transform="translate(380.9,942.7) rotate(-90)"/><use href="#hal" transform="translate(414.8,942.7) rotate(-90)"/><use href="#hal" transform="translate(448.5,942.7) rotate(-90)"/><use href="#hal" transform="translate(482.2,942.7) rotate(-90)"/><use href="#hal" transform="translate(516.2,942.7) rotate(-90)"/><use href="#hal" transform="translate(550.1,942.7) rotate(-90)"/><use href="#hal" transform="translate(583.8,942.7) rotate(-90)"/><use href="#hal" transform="translate(617.8,942.7) rotate(-90)"/></g>
<path d="M379.8,704.9h2.3v2.3h-2.3zM413.7,704.9h2.3v2.3h-2.3zM447.4,704.9h2.3v2.3h-2.3zM481.1,704.9h2.3v2.3h-2.3zM549.0,704.9h2.3v2.3h-2.3zM379.8,738.9h2.3v2.3h-2.3zM413.7,738.9h2.3v2.3h-2.3zM447.4,738.9h2.3v2.3h-2.3zM481.1,738.9h2.3v2.3h-2.3zM515.1,738.9h2.3v2.3h-2.3zM549.0,738.9h2.3v2.3h-2.3zM582.6,738.9h2.3v2.3h-2.3zM379.8,772.6h2.3v2.3h-2.3zM413.7,772.6h2.3v2.3h-2.3zM447.4,772.6h2.3v2.3h-2.3zM549.0,772.6h2.3v2.3h-2.3zM582.6,772.6h2.3v2.3h-2.3zM379.8,806.5h2.3v2.3h-2.3zM447.4,806.5h2.3v2.3h-2.3zM481.1,806.5h2.3v2.3h-2.3zM549.0,806.5h2.3v2.3h-2.3zM582.6,806.5h2.3v2.3h-2.3zM379.8,840.4h2.3v2.3h-2.3zM413.7,840.4h2.3v2.3h-2.3zM447.4,840.4h2.3v2.3h-2.3zM515.1,840.4h2.3v2.3h-2.3zM549.0,840.4h2.3v2.3h-2.3zM582.6,840.4h2.3v2.3h-2.3zM379.8,874.1h2.3v2.3h-2.3zM413.7,874.1h2.3v2.3h-2.3zM447.4,874.1h2.3v2.3h-2.3zM549.0,874.1h2.3v2.3h-2.3zM582.6,874.1h2.3v2.3h-2.3zM616.6,874.1h2.3v2.3h-2.3zM379.8,907.9h2.3v2.3h-2.3zM413.7,907.9h2.3v2.3h-2.3zM447.4,907.9h2.3v2.3h-2.3zM481.1,907.9h2.3v2.3h-2.3zM515.1,907.9h2.3v2.3h-2.3zM549.0,907.9h2.3v2.3h-2.3zM582.6,907.9h2.3v2.3h-2.3zM616.6,907.9h2.3v2.3h-2.3zM379.8,941.6h2.3v2.3h-2.3zM413.7,941.6h2.3v2.3h-2.3zM447.4,941.6h2.3v2.3h-2.3zM481.1,941.6h2.3v2.3h-2.3zM549.0,941.6h2.3v2.3h-2.3zM582.6,941.6h2.3v2.3h-2.3z" fill="#e8e8ff"/>
<path d="M515.4,705.2h1.6v1.6h-1.6zM583.0,705.2h1.6v1.6h-1.6zM414.0,806.8h1.6v1.6h-1.6zM515.4,806.8h1.6v1.6h-1.6zM481.4,840.7h1.6v1.6h-1.6zM515.4,941.9h1.6v1.6h-1.6z" fill="#8484ac"/>
<g opacity="0.8"><use href="#hal" transform="translate(704.4,695.2) rotate(180)"/><use href="#hal" transform="translate(738.1,695.2) rotate(180)"/><use href="#hal" transform="translate(771.8,695.2) rotate(180)"/><use href="#hal" transform="translate(805.8,695.2) rotate(180)"/><use href="#hal" transform="translate(839.5,695.2) rotate(180)"/><use href="#hal" transform="translate(873.2,695.2) rotate(180)"/><use href="#hal" transform="translate(906.9,695.2) rotate(180)"/><use href="#hal" transform="translate(940.8,695.2) rotate(180)"/><use href="#hal" transform="translate(704.4,729.6) rotate(180)"/><use href="#hal" transform="translate(738.1,729.6) rotate(180)"/><use href="#hal" transform="translate(771.8,729.6) rotate(180)"/><use href="#hal" transform="translate(805.8,729.6) rotate(180)"/><use href="#hal" transform="translate(839.5,729.6) rotate(180)"/><use href="#hal" transform="translate(873.2,729.6) rotate(180)"/><use href="#hal" transform="translate(906.9,729.6) rotate(180)"/><use href="#hal" transform="translate(940.8,729.6) rotate(180)"/><use href="#hal" transform="translate(704.4,763.3) rotate(180)"/><use href="#hal" transform="translate(738.1,763.3) rotate(180)"/><use href="#hal" transform="translate(771.8,763.3) rotate(180)"/><use href="#hal" transform="translate(805.8,763.3) rotate(180)"/><use href="#hal" transform="translate(839.5,763.3) rotate(180)"/><use href="#hal" transform="translate(873.2,763.3) rotate(180)"/><use href="#hal" transform="translate(906.9,763.3) rotate(180)"/><use href="#hal" transform="translate(940.8,763.3) rotate(180)"/><use href="#hal" transform="translate(704.4,797.0) rotate(180)"/><use href="#hal" transform="translate(738.1,797.0) rotate(180)"/><use href="#hal" transform="translate(771.8,797.0) rotate(180)"/><use href="#hal" transform="translate(805.8,797.0) rotate(180)"/><use href="#hal" transform="translate(839.5,797.0) rotate(180)"/><use href="#hal" transform="translate(873.2,797.0) rotate(180)"/><use href="#hal" transform="translate(906.9,797.0) rotate(180)"/><use href="#hal" transform="translate(940.8,797.0) rotate(180)"/><use href="#hal" transform="translate(704.4,831.0) rotate(180)"/><use href="#hal" transform="translate(738.1,831.0) rotate(180)"/><use href="#hal" transform="translate(771.8,831.0) rotate(180)"/><use href="#hal" transform="translate(805.8,831.0) rotate(180)"/><use href="#hal" transform="translate(839.5,831.0) rotate(180)"/><use href="#hal" transform="translate(873.2,831.0) rotate(180)"/><use href="#hal" transform="translate(906.9,831.0) rotate(180)"/><use href="#hal" transform="translate(940.8,831.0) rotate(180)"/><use href="#hal" transform="translate(704.4,864.9) rotate(180)"/><use href="#hal" transform="translate(738.1,864.9) rotate(180)"/><use href="#hal" transform="translate(771.8,864.9) rotate(180)"/><use href="#hal" transform="translate(805.8,864.9) rotate(180)"/><use href="#hal" transform="translate(839.5,864.9) rotate(180)"/><use href="#hal" transform="translate(873.2,864.9) rotate(180)"/><use href="#hal" transform="translate(906.9,864.9) rotate(180)"/><use href="#hal" transform="translate(940.8,864.9) rotate(180)"/><use href="#hal" transform="translate(704.4,898.6) rotate(180)"/><use href="#hal" transform="translate(738.1,898.6) rotate(180)"/><use href="#hal" transform="translate(771.8,898.6) rotate(180)"/><use href="#hal" transform="translate(805.8,898.6) rotate(180)"/><use href="#hal" transform="translate(839.5,898.6) rotate(180)"/><use href="#hal" transform="translate(873.2,898.6) rotate(180)"/><use href="#hal" transform="translate(906.9,898.6) rotate(180)"/><use href="#hal" transform="translate(940.8,898.6) rotate(180)"/><use href="#hal" transform="translate(704.4,932.5) rotate(180)"/><use href="#hal" transform="translate(738.1,932.5) rotate(180)"/><use href="#hal" transform="translate(771.8,932.5) rotate(180)"/><use href="#hal" transform="translate(805.8,932.5) rotate(180)"/><use href="#hal" transform="translate(839.5,932.5) rotate(180)"/><use href="#hal" transform="translate(873.2,932.5) rotate(180)"/><use href="#hal" transform="translate(906.9,932.5) rotate(180)"/><use href="#hal" transform="translate(940.8,932.5) rotate(180)"/></g>
<path d="M770.6,694.1h2.3v2.3h-2.3zM804.6,694.1h2.3v2.3h-2.3zM838.4,694.1h2.3v2.3h-2.3zM872.1,694.1h2.3v2.3h-2.3zM737.0,728.5h2.3v2.3h-2.3zM770.6,728.5h2.3v2.3h-2.3zM804.6,728.5h2.3v2.3h-2.3zM872.1,728.5h2.3v2.3h-2.3zM905.8,728.5h2.3v2.3h-2.3zM703.2,762.1h2.3v2.3h-2.3zM737.0,762.1h2.3v2.3h-2.3zM872.1,762.1h2.3v2.3h-2.3zM905.8,762.1h2.3v2.3h-2.3zM939.6,762.1h2.3v2.3h-2.3zM703.2,795.9h2.3v2.3h-2.3zM737.0,795.9h2.3v2.3h-2.3zM770.6,795.9h2.3v2.3h-2.3zM703.2,829.9h2.3v2.3h-2.3zM737.0,829.9h2.3v2.3h-2.3zM770.6,829.9h2.3v2.3h-2.3zM703.2,863.8h2.3v2.3h-2.3zM737.0,863.8h2.3v2.3h-2.3zM770.6,863.8h2.3v2.3h-2.3zM872.1,863.8h2.3v2.3h-2.3zM905.8,863.8h2.3v2.3h-2.3zM939.6,863.8h2.3v2.3h-2.3zM737.0,897.5h2.3v2.3h-2.3zM770.6,897.5h2.3v2.3h-2.3zM804.6,897.5h2.3v2.3h-2.3zM838.4,897.5h2.3v2.3h-2.3zM872.1,897.5h2.3v2.3h-2.3zM939.6,897.5h2.3v2.3h-2.3zM737.0,931.4h2.3v2.3h-2.3zM770.6,931.4h2.3v2.3h-2.3zM804.6,931.4h2.3v2.3h-2.3zM838.4,931.4h2.3v2.3h-2.3zM872.1,931.4h2.3v2.3h-2.3zM905.8,931.4h2.3v2.3h-2.3zM838.4,965.1h2.3v2.3h-2.3z" fill="#e8e8ff"/>
<path d="M838.7,728.8h1.6v1.6h-1.6zM771.0,762.5h1.6v1.6h-1.6zM906.1,897.8h1.6v1.6h-1.6zM805.0,965.4h1.6v1.6h-1.6z" fill="#8484ac"/>
<g opacity="0.8"><use href="#hal" transform="translate(1028.5,703.8) rotate(90)"/><use href="#hal" transform="translate(1062.2,703.8) rotate(90)"/><use href="#hal" transform="translate(1095.9,703.8) rotate(90)"/><use href="#hal" transform="translate(1129.8,703.8) rotate(90)"/><use href="#hal" transform="translate(1163.8,703.8) rotate(90)"/><use href="#hal" transform="translate(1197.7,703.8) rotate(90)"/><use href="#hal" transform="translate(1231.7,703.8) rotate(90)"/><use href="#hal" transform="translate(1265.4,703.8) rotate(90)"/><use href="#hal" transform="translate(1028.5,738.0) rotate(90)"/><use href="#hal" transform="translate(1062.2,738.0) rotate(90)"/><use href="#hal" transform="translate(1095.9,738.0) rotate(90)"/><use href="#hal" transform="translate(1129.8,738.0) rotate(90)"/><use href="#hal" transform="translate(1163.8,738.0) rotate(90)"/><use href="#hal" transform="translate(1197.7,738.0) rotate(90)"/><use href="#hal" transform="translate(1231.7,738.0) rotate(90)"/><use href="#hal" transform="translate(1265.4,738.0) rotate(90)"/><use href="#hal" transform="translate(1028.5,772.0) rotate(90)"/><use href="#hal" transform="translate(1062.2,772.0) rotate(90)"/><use href="#hal" transform="translate(1095.9,772.0) rotate(90)"/><use href="#hal" transform="translate(1129.8,772.0) rotate(90)"/><use href="#hal" transform="translate(1163.8,772.0) rotate(90)"/><use href="#hal" transform="translate(1197.7,772.0) rotate(90)"/><use href="#hal" transform="translate(1231.7,772.0) rotate(90)"/><use href="#hal" transform="translate(1265.4,772.0) rotate(90)"/><use href="#hal" transform="translate(1028.5,805.7) rotate(90)"/><use href="#hal" transform="translate(1062.2,805.7) rotate(90)"/><use href="#hal" transform="translate(1095.9,805.7) rotate(90)"/><use href="#hal" transform="translate(1129.8,805.7) rotate(90)"/><use href="#hal" transform="translate(1163.8,805.7) rotate(90)"/><use href="#hal" transform="translate(1197.7,805.7) rotate(90)"/><use href="#hal" transform="translate(1231.7,805.7) rotate(90)"/><use href="#hal" transform="translate(1265.4,805.7) rotate(90)"/><use href="#hal" transform="translate(1028.5,839.6) rotate(90)"/><use href="#hal" transform="translate(1062.2,839.6) rotate(90)"/><use href="#hal" transform="translate(1095.9,839.6) rotate(90)"/><use href="#hal" transform="translate(1129.8,839.6) rotate(90)"/><use href="#hal" transform="translate(1163.8,839.6) rotate(90)"/><use href="#hal" transform="translate(1197.7,839.6) rotate(90)"/><use href="#hal" transform="translate(1231.7,839.6) rotate(90)"/><use href="#hal" transform="translate(1265.4,839.6) rotate(90)"/><use href="#hal" transform="translate(1028.5,873.6) rotate(90)"/><use href="#hal" transform="translate(1062.2,873.6) rotate(90)"/><use href="#hal" transform="translate(1095.9,873.6) rotate(90)"/><use href="#hal" transform="translate(1129.8,873.6) rotate(90)"/><use href="#hal" transform="translate(1163.8,873.6) rotate(90)"/><use href="#hal" transform="translate(1197.7,873.6) rotate(90)"/><use href="#hal" transform="translate(1231.7,873.6) rotate(90)"/><use href="#hal" transform="translate(1265.4,873.6) rotate(90)"/><use href="#hal" transform="translate(1028.5,907.0) rotate(90)"/><use href="#hal" transform="translate(1062.2,907.0) rotate(90)"/><use href="#hal" transform="translate(1095.9,907.0) rotate(90)"/><use href="#hal" transform="translate(1129.8,907.0) rotate(90)"/><use href="#hal" transform="translate(1163.8,907.0) rotate(90)"/><use href="#hal" transform="translate(1197.7,907.0) rotate(90)"/><use href="#hal" transform="translate(1231.7,907.0) rotate(90)"/><use href="#hal" transform="translate(1265.4,907.0) rotate(90)"/><use href="#hal" transform="translate(1028.5,940.7) rotate(90)"/><use href="#hal" transform="translate(1062.2,940.7) rotate(90)"/><use href="#hal" transform="translate(1095.9,940.7) rotate(90)"/><use href="#hal" transform="translate(1129.8,940.7) rotate(90)"/><use href="#hal" transform="translate(1163.8,940.7) rotate(90)"/><use href="#hal" transform="translate(1197.7,940.7) rotate(90)"/><use href="#hal" transform="translate(1231.7,940.7) rotate(90)"/><use href="#hal" transform="translate(1265.4,940.7) rotate(90)"/></g>
<path d="M1027.3,702.6h2.3v2.3h-2.3zM1061.0,702.6h2.3v2.3h-2.3zM1094.8,702.6h2.3v2.3h-2.3zM1128.6,702.6h2.3v2.3h-2.3zM1162.6,702.6h2.3v2.3h-2.3zM1196.5,702.6h2.3v2.3h-2.3zM1027.3,736.9h2.3v2.3h-2.3zM1061.0,736.9h2.3v2.3h-2.3zM1128.6,736.9h2.3v2.3h-2.3zM1162.6,736.9h2.3v2.3h-2.3zM1196.5,736.9h2.3v2.3h-2.3zM1230.5,736.9h2.3v2.3h-2.3zM1027.3,770.9h2.3v2.3h-2.3zM1061.0,770.9h2.3v2.3h-2.3zM1094.8,770.9h2.3v2.3h-2.3zM1196.5,770.9h2.3v2.3h-2.3zM1230.5,770.9h2.3v2.3h-2.3zM1264.2,770.9h2.3v2.3h-2.3zM1027.3,804.6h2.3v2.3h-2.3zM1061.0,804.6h2.3v2.3h-2.3zM1094.8,804.6h2.3v2.3h-2.3zM1196.5,804.6h2.3v2.3h-2.3zM1230.5,804.6h2.3v2.3h-2.3zM1264.2,804.6h2.3v2.3h-2.3zM1027.3,838.5h2.3v2.3h-2.3zM1061.0,838.5h2.3v2.3h-2.3zM1094.8,838.5h2.3v2.3h-2.3zM1196.5,838.5h2.3v2.3h-2.3zM1230.5,838.5h2.3v2.3h-2.3zM1264.2,838.5h2.3v2.3h-2.3zM1027.3,872.5h2.3v2.3h-2.3zM1061.0,872.5h2.3v2.3h-2.3zM1094.8,872.5h2.3v2.3h-2.3zM1196.5,872.5h2.3v2.3h-2.3zM1230.5,872.5h2.3v2.3h-2.3zM1264.2,872.5h2.3v2.3h-2.3zM1027.3,905.9h2.3v2.3h-2.3zM1061.0,905.9h2.3v2.3h-2.3zM1094.8,905.9h2.3v2.3h-2.3zM1128.6,905.9h2.3v2.3h-2.3zM1162.6,905.9h2.3v2.3h-2.3zM1196.5,905.9h2.3v2.3h-2.3zM1230.5,905.9h2.3v2.3h-2.3zM1027.3,939.6h2.3v2.3h-2.3zM1061.0,939.6h2.3v2.3h-2.3zM1094.8,939.6h2.3v2.3h-2.3zM1128.6,939.6h2.3v2.3h-2.3zM1162.6,939.6h2.3v2.3h-2.3zM1196.5,939.6h2.3v2.3h-2.3zM1230.5,939.6h2.3v2.3h-2.3z" fill="#e8e8ff"/>
<path d="M1095.1,737.2h1.6v1.6h-1.6zM1163.0,838.8h1.6v1.6h-1.6z" fill="#8484ac"/>
<linearGradient id="cbc" x1="0" y1="0" x2="0" y2="1"><stop offset="0" stop-color="#fff"/><stop offset="0.1" stop-color="#fff"/><stop offset="0.25" stop-color="#d6d6de"/><stop offset="0.41" stop-color="#a0a0b2"/><stop offset="0.64" stop-color="#505072"/><stop offset="0.84" stop-color="#0c0c44"/><stop offset="0.93" stop-color="#04041c"/><stop offset="1" stop-color="#000"/></linearGradient>
<rect x="1313.6" y="692.6" width="20.2" height="254" fill="url(#cbc)" stroke="#222" stroke-width="1"/>
<text x="1299.8" y="684" font-size="25" textLength="46.5" lengthAdjust="spacingAndGlyphs">Max</text>
<text x="1299.6" y="970" font-size="25" textLength="38.5" lengthAdjust="spacingAndGlyphs">Min</text>
<text class="b" x="-0.5" y="1056.8" font-size="42.7">d</text>
<text class="b" x="521" y="1058" font-size="42">Experiment</text>
<text class="sbi" x="122.6" y="1097.2" font-size="31" textLength="18.5" lengthAdjust="spacingAndGlyphs" stroke="#000" stroke-width="0.35">θ</text><rect x="152.9" y="1083.2" width="19.3" height="2.4" fill="#000"/><rect x="152.9" y="1090.3" width="19.3" height="2.4" fill="#000"/><text class="sb" x="184.3" y="1097.2" font-size="32" textLength="16.8" lengthAdjust="spacingAndGlyphs">0</text><text class="se" x="201.4" y="1097.2" font-size="32">°</text>
<text class="sbi" x="434.1" y="1097.2" font-size="31" textLength="18.5" lengthAdjust="spacingAndGlyphs" stroke="#000" stroke-width="0.35">θ</text><rect x="464.6" y="1083.2" width="19.7" height="2.4" fill="#000"/><rect x="464.6" y="1090.3" width="19.7" height="2.4" fill="#000"/><text class="sb" x="495.5" y="1097.2" font-size="32" textLength="36.6" lengthAdjust="spacingAndGlyphs">90</text><text class="se" x="532.2" y="1097.2" font-size="32">°</text>
<text class="sbi" x="752.4" y="1097.2" font-size="31" textLength="18.5" lengthAdjust="spacingAndGlyphs" stroke="#000" stroke-width="0.35">θ</text><rect x="782.7" y="1083.2" width="19.5" height="2.4" fill="#000"/><rect x="782.7" y="1090.3" width="19.5" height="2.4" fill="#000"/><text class="sb" x="813.6" y="1097.2" font-size="32" textLength="55.2" lengthAdjust="spacingAndGlyphs">180</text><text class="se" x="869.0" y="1097.2" font-size="32">°</text>
<text class="sbi" x="1071.2" y="1097.2" font-size="31" textLength="18.5" lengthAdjust="spacingAndGlyphs" stroke="#000" stroke-width="0.35">θ</text><rect x="1101.2" y="1083.2" width="20.2" height="2.4" fill="#000"/><rect x="1101.2" y="1090.3" width="20.2" height="2.4" fill="#000"/><text class="sb" x="1132.6" y="1097.2" font-size="32" textLength="55.4" lengthAdjust="spacingAndGlyphs">270</text><text class="se" x="1188.0" y="1097.2" font-size="32">°</text>
<rect x="2.0" y="1110.2" width="323.0" height="325" fill="#000"/>
<rect x="327.5" y="1110.2" width="322.7" height="325" fill="#000"/>
<rect x="652.9" y="1110.2" width="323.1" height="325" fill="#000"/>
<rect x="978.0" y="1110.2" width="323.3" height="325" fill="#000"/>
<filter id="haze" x="0" y="0" width="100%" height="100%" color-interpolation-filters="sRGB"><feTurbulence type="fractalNoise" baseFrequency="0.09" numOctaves="3" seed="8"/><feColorMatrix type="matrix" values="0 0 0 0 0.22  0 0 0 0 0.22  0 0 0 0 0.5  3.2 0 0 0 -1.75"/><feComposite operator="in" in2="SourceGraphic"/></filter>
<rect x="1000" y="1120" width="290" height="300" fill="#000" filter="url(#haze)" opacity="0.22"/>
<rect x="345" y="1125" width="290" height="290" fill="#000" filter="url(#haze)" opacity="0.1"/>
<defs><radialGradient id="gl"><stop offset="0" stop-color="#9a9ad8" stop-opacity="0.5"/><stop offset="1" stop-color="#9a9ad8" stop-opacity="0"/></radialGradient></defs>

<path d="M145.3,1177.5h1.0v1.0h-1.0zM144.6,1176.1h1.0v1.0h-1.0zM218.1,1176.9h1.0v1.0h-1.0zM218.1,1178.2h1.0v1.0h-1.0zM72.5,1213.3h1.0v1.0h-1.0zM74.1,1210.6h1.0v1.0h-1.0zM76.1,1213.2h1.0v1.0h-1.0zM143.4,1210.7h1.0v1.0h-1.0zM146.1,1214.2h1.0v1.0h-1.0zM143.6,1213.9h1.0v1.0h-1.0zM184.0,1211.4h1.0v1.0h-1.0zM184.7,1210.9h1.0v1.0h-1.0zM180.3,1213.9h1.0v1.0h-1.0zM178.7,1214.4h1.0v1.0h-1.0zM184.0,1214.0h1.0v1.0h-1.0zM182.3,1212.4h1.0v1.0h-1.0zM254.0,1215.0h1.0v1.0h-1.0zM254.6,1214.2h1.0v1.0h-1.0zM253.8,1212.8h1.0v1.0h-1.0zM257.3,1212.7h1.0v1.0h-1.0zM256.0,1216.9h1.0v1.0h-1.0zM37.1,1252.0h1.0v1.0h-1.0zM36.4,1252.2h1.0v1.0h-1.0zM35.4,1251.5h1.0v1.0h-1.0zM77.8,1250.3h1.0v1.0h-1.0zM72.2,1251.7h1.0v1.0h-1.0zM69.9,1252.6h1.0v1.0h-1.0zM143.3,1250.9h1.0v1.0h-1.0zM184.2,1252.0h1.0v1.0h-1.0zM180.2,1251.1h1.0v1.0h-1.0zM175.2,1257.0h1.0v1.0h-1.0zM180.5,1250.3h1.0v1.0h-1.0zM184.1,1253.1h1.0v1.0h-1.0zM30.4,1289.6h1.0v1.0h-1.0zM34.8,1288.3h1.0v1.0h-1.0zM34.4,1289.1h1.0v1.0h-1.0zM34.6,1288.7h1.0v1.0h-1.0zM34.6,1287.3h1.0v1.0h-1.0zM219.4,1287.7h1.0v1.0h-1.0zM37.8,1324.7h1.0v1.0h-1.0zM141.0,1326.8h1.0v1.0h-1.0zM144.6,1326.2h1.0v1.0h-1.0zM143.1,1326.9h1.0v1.0h-1.0zM295.4,1327.5h1.0v1.0h-1.0zM289.9,1324.0h1.0v1.0h-1.0zM291.3,1328.2h1.0v1.0h-1.0zM181.0,1398.0h1.0v1.0h-1.0zM181.8,1401.8h1.0v1.0h-1.0zM181.6,1400.9h1.0v1.0h-1.0zM294.5,1397.4h1.0v1.0h-1.0zM292.9,1400.2h1.0v1.0h-1.0zM290.6,1400.3h1.0v1.0h-1.0zM293.6,1400.3h1.0v1.0h-1.0zM292.8,1402.9h1.0v1.0h-1.0zM295.0,1400.4h1.0v1.0h-1.0z" fill="rgb(255,255,255)" opacity="0.20"/>
<path d="M109.7,1142.5h1.0v1.0h-1.0zM151.3,1139.4h1.0v1.0h-1.0zM215.5,1134.4h1.0v1.0h-1.0zM104.0,1178.7h1.0v1.0h-1.0zM143.7,1177.4h1.0v1.0h-1.0zM142.2,1177.2h1.0v1.0h-1.0zM148.0,1175.7h1.0v1.0h-1.0zM146.8,1176.2h1.0v1.0h-1.0zM146.1,1179.0h1.0v1.0h-1.0zM179.4,1176.3h1.0v1.0h-1.0zM179.9,1172.0h1.0v1.0h-1.0zM182.9,1179.3h1.0v1.0h-1.0zM184.5,1176.9h1.0v1.0h-1.0zM186.9,1178.1h1.0v1.0h-1.0zM180.6,1174.5h1.0v1.0h-1.0zM217.5,1177.3h1.0v1.0h-1.0zM216.3,1175.8h1.0v1.0h-1.0zM215.7,1174.5h1.0v1.0h-1.0zM217.4,1176.1h1.0v1.0h-1.0zM218.1,1177.4h1.0v1.0h-1.0zM70.8,1216.7h1.0v1.0h-1.0zM70.0,1212.4h1.0v1.0h-1.0zM69.8,1215.1h1.0v1.0h-1.0zM70.7,1216.0h1.0v1.0h-1.0zM114.0,1215.1h1.0v1.0h-1.0zM109.2,1213.2h1.0v1.0h-1.0zM142.0,1214.1h1.0v1.0h-1.0zM143.6,1214.2h1.0v1.0h-1.0zM143.7,1212.8h1.0v1.0h-1.0zM217.6,1217.0h1.0v1.0h-1.0zM215.5,1214.7h1.0v1.0h-1.0zM213.2,1210.9h1.0v1.0h-1.0zM218.1,1213.9h1.0v1.0h-1.0zM215.5,1216.9h1.0v1.0h-1.0zM36.9,1252.3h1.0v1.0h-1.0zM36.7,1251.3h1.0v1.0h-1.0zM37.1,1254.0h1.0v1.0h-1.0zM74.3,1252.9h1.0v1.0h-1.0zM69.0,1252.7h1.0v1.0h-1.0zM73.3,1253.1h1.0v1.0h-1.0zM73.4,1253.9h1.0v1.0h-1.0zM115.4,1252.5h1.0v1.0h-1.0zM107.2,1253.7h1.0v1.0h-1.0zM145.0,1256.7h1.0v1.0h-1.0zM146.0,1249.6h1.0v1.0h-1.0zM149.0,1250.6h1.0v1.0h-1.0zM145.7,1249.8h1.0v1.0h-1.0zM145.2,1252.1h1.0v1.0h-1.0zM145.0,1252.9h1.0v1.0h-1.0zM217.9,1255.1h1.0v1.0h-1.0zM218.9,1254.9h1.0v1.0h-1.0zM224.4,1254.3h1.0v1.0h-1.0zM255.6,1253.1h1.0v1.0h-1.0zM260.4,1254.7h1.0v1.0h-1.0zM249.3,1253.5h1.0v1.0h-1.0zM72.6,1287.1h1.0v1.0h-1.0zM69.2,1290.3h1.0v1.0h-1.0zM71.7,1288.6h1.0v1.0h-1.0zM107.4,1286.6h1.0v1.0h-1.0zM106.9,1290.4h1.0v1.0h-1.0zM105.9,1286.5h1.0v1.0h-1.0zM186.0,1291.3h1.0v1.0h-1.0zM180.7,1287.1h1.0v1.0h-1.0zM214.0,1290.1h1.0v1.0h-1.0zM219.4,1287.9h1.0v1.0h-1.0zM216.5,1290.2h1.0v1.0h-1.0zM216.8,1289.6h1.0v1.0h-1.0zM34.3,1321.0h1.0v1.0h-1.0zM37.1,1322.4h1.0v1.0h-1.0zM37.1,1321.6h1.0v1.0h-1.0zM38.7,1324.1h1.0v1.0h-1.0zM34.6,1321.7h1.0v1.0h-1.0zM34.5,1325.3h1.0v1.0h-1.0zM146.5,1323.6h1.0v1.0h-1.0zM146.0,1323.7h1.0v1.0h-1.0zM144.0,1324.6h1.0v1.0h-1.0zM144.4,1326.7h1.0v1.0h-1.0zM183.3,1322.2h1.0v1.0h-1.0zM178.6,1327.0h1.0v1.0h-1.0zM178.9,1323.9h1.0v1.0h-1.0zM186.1,1324.6h1.0v1.0h-1.0zM179.9,1323.7h1.0v1.0h-1.0zM179.4,1324.4h1.0v1.0h-1.0zM178.5,1326.7h1.0v1.0h-1.0zM182.8,1328.0h1.0v1.0h-1.0zM215.4,1328.6h1.0v1.0h-1.0zM220.0,1322.2h1.0v1.0h-1.0zM218.2,1326.1h1.0v1.0h-1.0zM216.5,1326.9h1.0v1.0h-1.0zM254.3,1323.6h1.0v1.0h-1.0zM291.4,1325.0h1.0v1.0h-1.0zM297.9,1322.0h1.0v1.0h-1.0zM291.5,1324.3h1.0v1.0h-1.0zM31.0,1360.2h1.0v1.0h-1.0zM34.6,1361.7h1.0v1.0h-1.0zM35.8,1361.6h1.0v1.0h-1.0zM110.0,1362.4h1.0v1.0h-1.0zM106.2,1362.0h1.0v1.0h-1.0zM107.7,1359.6h1.0v1.0h-1.0zM107.9,1363.9h1.0v1.0h-1.0zM106.2,1358.5h1.0v1.0h-1.0zM103.7,1360.2h1.0v1.0h-1.0zM145.4,1362.0h1.0v1.0h-1.0zM144.6,1363.7h1.0v1.0h-1.0zM149.0,1359.7h1.0v1.0h-1.0zM143.2,1364.1h1.0v1.0h-1.0zM150.7,1362.9h1.0v1.0h-1.0zM143.6,1362.2h1.0v1.0h-1.0zM150.1,1360.0h1.0v1.0h-1.0zM182.6,1364.8h1.0v1.0h-1.0zM182.1,1361.6h1.0v1.0h-1.0zM184.3,1359.6h1.0v1.0h-1.0zM179.5,1357.4h1.0v1.0h-1.0zM183.1,1362.7h1.0v1.0h-1.0zM181.1,1360.7h1.0v1.0h-1.0zM218.0,1366.2h1.0v1.0h-1.0zM217.3,1364.9h1.0v1.0h-1.0zM224.8,1357.9h1.0v1.0h-1.0zM258.8,1360.8h1.0v1.0h-1.0zM248.7,1361.3h1.0v1.0h-1.0zM293.0,1363.1h1.0v1.0h-1.0zM289.7,1362.1h1.0v1.0h-1.0zM292.0,1365.7h1.0v1.0h-1.0zM292.9,1360.5h1.0v1.0h-1.0zM292.1,1362.6h1.0v1.0h-1.0zM290.1,1360.3h1.0v1.0h-1.0zM293.3,1363.4h1.0v1.0h-1.0zM38.0,1401.2h1.0v1.0h-1.0zM37.0,1405.7h1.0v1.0h-1.0zM37.2,1402.0h1.0v1.0h-1.0zM34.7,1400.8h1.0v1.0h-1.0zM109.3,1397.5h1.0v1.0h-1.0zM107.0,1401.5h1.0v1.0h-1.0zM111.2,1403.1h1.0v1.0h-1.0zM182.0,1401.7h1.0v1.0h-1.0zM179.8,1401.3h1.0v1.0h-1.0zM179.7,1398.8h1.0v1.0h-1.0zM218.4,1403.6h1.0v1.0h-1.0zM215.4,1401.4h1.0v1.0h-1.0zM258.3,1401.3h1.0v1.0h-1.0zM254.7,1401.9h1.0v1.0h-1.0zM255.4,1403.6h1.0v1.0h-1.0zM253.3,1401.6h1.0v1.0h-1.0z" fill="rgb(255,255,255)" opacity="0.40"/>
<path d="M109.2,1139.6h1.0v1.0h-1.0zM106.3,1137.8h1.0v1.0h-1.0zM112.7,1141.0h1.0v1.0h-1.0zM107.0,1138.3h1.0v1.0h-1.0zM108.1,1138.5h1.0v1.0h-1.0zM140.3,1143.6h1.0v1.0h-1.0zM148.5,1140.4h1.0v1.0h-1.0zM141.5,1137.5h1.0v1.0h-1.0zM145.4,1139.4h1.0v1.0h-1.0zM147.2,1144.6h1.0v1.0h-1.0zM180.2,1142.6h1.0v1.0h-1.0zM185.1,1142.5h1.0v1.0h-1.0zM182.9,1139.5h1.0v1.0h-1.0zM186.5,1138.1h1.0v1.0h-1.0zM178.8,1139.1h1.0v1.0h-1.0zM189.5,1142.3h1.0v1.0h-1.0zM215.8,1139.5h1.0v1.0h-1.0zM217.8,1139.8h1.0v1.0h-1.0zM216.7,1146.3h1.0v1.0h-1.0zM219.9,1141.3h1.0v1.0h-1.0zM216.5,1140.1h1.0v1.0h-1.0zM216.5,1137.5h1.0v1.0h-1.0zM212.9,1149.6h1.0v1.0h-1.0zM108.5,1173.8h1.0v1.0h-1.0zM111.0,1176.2h1.0v1.0h-1.0zM113.3,1174.6h1.0v1.0h-1.0zM110.2,1173.0h1.0v1.0h-1.0zM106.9,1175.7h1.0v1.0h-1.0zM107.9,1176.6h1.0v1.0h-1.0zM114.4,1177.0h1.0v1.0h-1.0zM105.4,1179.5h1.0v1.0h-1.0zM108.8,1176.7h1.0v1.0h-1.0zM186.3,1174.9h1.0v1.0h-1.0zM182.1,1179.4h1.0v1.0h-1.0zM179.1,1177.3h1.0v1.0h-1.0zM110.8,1209.1h1.0v1.0h-1.0zM108.1,1215.2h1.0v1.0h-1.0zM104.1,1213.2h1.0v1.0h-1.0zM109.3,1213.0h1.0v1.0h-1.0zM217.6,1213.6h1.0v1.0h-1.0zM218.6,1217.9h1.0v1.0h-1.0zM217.8,1213.2h1.0v1.0h-1.0zM218.0,1215.9h1.0v1.0h-1.0zM115.4,1255.0h1.0v1.0h-1.0zM109.0,1250.8h1.0v1.0h-1.0zM105.8,1252.6h1.0v1.0h-1.0zM106.8,1251.1h1.0v1.0h-1.0zM218.0,1257.8h1.0v1.0h-1.0zM210.5,1252.5h1.0v1.0h-1.0zM216.3,1253.0h1.0v1.0h-1.0zM214.9,1254.1h1.0v1.0h-1.0zM216.4,1254.2h1.0v1.0h-1.0zM253.9,1252.2h1.0v1.0h-1.0zM257.1,1253.1h1.0v1.0h-1.0zM251.8,1255.4h1.0v1.0h-1.0zM262.5,1254.6h1.0v1.0h-1.0zM250.1,1252.1h1.0v1.0h-1.0zM76.7,1286.3h1.0v1.0h-1.0zM69.3,1287.6h1.0v1.0h-1.0zM72.8,1287.3h1.0v1.0h-1.0zM73.8,1289.0h1.0v1.0h-1.0zM106.6,1291.4h1.0v1.0h-1.0zM109.9,1289.2h1.0v1.0h-1.0zM107.2,1289.5h1.0v1.0h-1.0zM106.4,1290.9h1.0v1.0h-1.0zM107.4,1291.0h1.0v1.0h-1.0zM184.0,1287.7h1.0v1.0h-1.0zM184.5,1290.2h1.0v1.0h-1.0zM180.6,1287.1h1.0v1.0h-1.0zM183.2,1289.5h1.0v1.0h-1.0zM183.5,1289.7h1.0v1.0h-1.0zM178.8,1291.5h1.0v1.0h-1.0zM184.7,1291.1h1.0v1.0h-1.0zM217.0,1290.6h1.0v1.0h-1.0zM218.9,1286.5h1.0v1.0h-1.0zM216.6,1288.3h1.0v1.0h-1.0zM252.3,1288.5h1.0v1.0h-1.0zM259.6,1288.1h1.0v1.0h-1.0zM258.8,1289.9h1.0v1.0h-1.0zM256.7,1289.3h1.0v1.0h-1.0zM256.6,1288.3h1.0v1.0h-1.0zM258.5,1291.6h1.0v1.0h-1.0zM255.8,1290.3h1.0v1.0h-1.0zM251.1,1288.3h1.0v1.0h-1.0zM252.0,1293.7h1.0v1.0h-1.0zM252.3,1288.9h1.0v1.0h-1.0zM73.8,1327.4h1.0v1.0h-1.0zM73.9,1324.6h1.0v1.0h-1.0zM66.7,1322.0h1.0v1.0h-1.0zM74.4,1325.8h1.0v1.0h-1.0zM73.1,1326.4h1.0v1.0h-1.0zM75.3,1328.6h1.0v1.0h-1.0zM70.6,1325.0h1.0v1.0h-1.0zM78.2,1323.3h1.0v1.0h-1.0zM105.2,1324.3h1.0v1.0h-1.0zM113.2,1324.6h1.0v1.0h-1.0zM112.2,1325.0h1.0v1.0h-1.0zM109.8,1326.0h1.0v1.0h-1.0zM108.4,1329.7h1.0v1.0h-1.0zM102.5,1319.0h1.0v1.0h-1.0zM109.4,1323.9h1.0v1.0h-1.0zM108.5,1323.7h1.0v1.0h-1.0zM179.3,1326.2h1.0v1.0h-1.0zM217.5,1323.4h1.0v1.0h-1.0zM214.9,1326.0h1.0v1.0h-1.0zM218.6,1320.5h1.0v1.0h-1.0zM258.4,1325.1h1.0v1.0h-1.0zM254.9,1323.9h1.0v1.0h-1.0zM258.8,1323.0h1.0v1.0h-1.0zM252.4,1329.7h1.0v1.0h-1.0zM34.3,1360.4h1.0v1.0h-1.0zM35.4,1359.9h1.0v1.0h-1.0zM34.1,1362.2h1.0v1.0h-1.0zM34.1,1361.4h1.0v1.0h-1.0zM35.3,1364.8h1.0v1.0h-1.0zM35.1,1361.5h1.0v1.0h-1.0zM77.0,1366.3h1.0v1.0h-1.0zM70.0,1362.4h1.0v1.0h-1.0zM71.1,1358.6h1.0v1.0h-1.0zM64.0,1362.6h1.0v1.0h-1.0zM74.5,1360.2h1.0v1.0h-1.0zM67.4,1360.1h1.0v1.0h-1.0zM72.4,1362.7h1.0v1.0h-1.0zM76.4,1359.9h1.0v1.0h-1.0zM72.8,1360.1h1.0v1.0h-1.0zM113.9,1363.9h1.0v1.0h-1.0zM109.4,1360.6h1.0v1.0h-1.0zM109.1,1361.0h1.0v1.0h-1.0zM139.3,1362.0h1.0v1.0h-1.0zM146.6,1360.4h1.0v1.0h-1.0zM184.0,1365.7h1.0v1.0h-1.0zM181.2,1360.2h1.0v1.0h-1.0zM181.8,1365.0h1.0v1.0h-1.0zM216.2,1361.1h1.0v1.0h-1.0zM221.8,1360.5h1.0v1.0h-1.0zM214.7,1363.0h1.0v1.0h-1.0zM221.7,1362.9h1.0v1.0h-1.0zM216.9,1365.8h1.0v1.0h-1.0zM213.3,1362.9h1.0v1.0h-1.0zM251.8,1360.9h1.0v1.0h-1.0zM253.0,1358.6h1.0v1.0h-1.0zM256.0,1360.6h1.0v1.0h-1.0zM256.9,1358.0h1.0v1.0h-1.0zM253.7,1362.1h1.0v1.0h-1.0zM254.9,1362.0h1.0v1.0h-1.0zM295.2,1360.5h1.0v1.0h-1.0zM291.5,1361.5h1.0v1.0h-1.0zM33.8,1396.8h1.0v1.0h-1.0zM31.3,1400.6h1.0v1.0h-1.0zM37.3,1402.2h1.0v1.0h-1.0zM37.4,1400.8h1.0v1.0h-1.0zM39.9,1400.3h1.0v1.0h-1.0zM72.1,1399.9h1.0v1.0h-1.0zM72.1,1399.7h1.0v1.0h-1.0zM75.5,1398.5h1.0v1.0h-1.0zM73.4,1402.7h1.0v1.0h-1.0zM71.0,1399.9h1.0v1.0h-1.0zM73.6,1403.2h1.0v1.0h-1.0zM74.2,1399.1h1.0v1.0h-1.0zM77.2,1402.1h1.0v1.0h-1.0zM108.7,1400.9h1.0v1.0h-1.0zM108.3,1398.5h1.0v1.0h-1.0zM112.9,1405.1h1.0v1.0h-1.0zM111.5,1400.7h1.0v1.0h-1.0zM114.3,1402.9h1.0v1.0h-1.0zM111.9,1403.3h1.0v1.0h-1.0zM216.1,1401.8h1.0v1.0h-1.0zM217.7,1401.7h1.0v1.0h-1.0zM218.1,1401.4h1.0v1.0h-1.0zM216.5,1401.0h1.0v1.0h-1.0zM258.4,1400.7h1.0v1.0h-1.0zM252.1,1400.5h1.0v1.0h-1.0zM252.4,1404.2h1.0v1.0h-1.0zM256.2,1397.4h1.0v1.0h-1.0z" fill="rgb(255,255,255)" opacity="0.65"/>
<path d="M107.5,1139.9h2.6v1.6h-2.6zM104.9,1141.7h1.0v1.0h-1.0zM105.1,1141.4h1.0v1.0h-1.0zM110.3,1143.5h1.0v1.0h-1.0zM113.7,1143.2h1.0v1.0h-1.0zM117.6,1142.6h1.0v1.0h-1.0zM105.4,1141.3h1.0v1.0h-1.0zM104.3,1140.3h1.0v1.0h-1.0zM119.4,1140.6h1.0v1.0h-1.0zM144.0,1139.9h2.6v1.6h-2.6zM145.0,1141.6h1.0v1.0h-1.0zM147.1,1146.1h1.0v1.0h-1.0zM147.8,1141.9h1.0v1.0h-1.0zM146.2,1141.2h1.0v1.0h-1.0zM147.1,1143.6h1.0v1.0h-1.0zM144.3,1139.7h1.0v1.0h-1.0zM145.9,1142.7h1.0v1.0h-1.0zM146.2,1138.6h1.0v1.0h-1.0zM180.2,1139.9h2.6v1.6h-2.6zM182.3,1143.2h1.0v1.0h-1.0zM180.6,1139.8h1.0v1.0h-1.0zM182.1,1142.6h1.0v1.0h-1.0zM179.0,1139.2h1.0v1.0h-1.0zM185.1,1140.0h1.0v1.0h-1.0zM183.4,1144.6h1.0v1.0h-1.0zM184.1,1146.6h1.0v1.0h-1.0zM180.8,1138.8h1.0v1.0h-1.0zM216.7,1139.9h2.6v1.6h-2.6zM212.2,1138.9h1.0v1.0h-1.0zM220.5,1140.9h1.0v1.0h-1.0zM225.0,1136.2h1.0v1.0h-1.0zM218.6,1140.8h1.0v1.0h-1.0zM215.6,1138.5h1.0v1.0h-1.0zM213.0,1139.5h1.0v1.0h-1.0zM107.5,1176.4h2.6v1.6h-2.6zM180.2,1176.4h2.6v1.6h-2.6zM176.3,1177.3h1.0v1.0h-1.0zM107.5,1213.6h2.6v1.6h-2.6zM107.7,1213.1h1.0v1.0h-1.0zM110.5,1211.4h1.0v1.0h-1.0zM110.2,1219.2h1.0v1.0h-1.0zM112.3,1214.0h1.0v1.0h-1.0zM106.1,1219.0h1.0v1.0h-1.0zM216.7,1213.6h2.6v1.6h-2.6zM211.8,1217.4h1.0v1.0h-1.0zM213.2,1216.1h1.0v1.0h-1.0zM107.5,1252.0h2.6v1.6h-2.6zM113.3,1253.1h1.0v1.0h-1.0zM110.1,1255.1h1.0v1.0h-1.0zM108.3,1252.8h1.0v1.0h-1.0zM110.2,1249.4h1.0v1.0h-1.0zM100.6,1252.6h1.0v1.0h-1.0zM216.7,1252.0h2.6v1.6h-2.6zM222.1,1252.7h1.0v1.0h-1.0zM221.4,1254.2h1.0v1.0h-1.0zM217.2,1252.3h1.0v1.0h-1.0zM71.5,1288.0h2.6v1.6h-2.6zM70.2,1287.6h1.0v1.0h-1.0zM63.0,1287.3h1.0v1.0h-1.0zM71.3,1290.2h1.0v1.0h-1.0zM79.2,1288.1h1.0v1.0h-1.0zM180.2,1288.0h2.6v1.6h-2.6zM187.1,1286.3h1.0v1.0h-1.0zM254.4,1288.0h2.6v1.6h-2.6zM71.5,1324.0h2.6v1.6h-2.6zM76.3,1327.2h1.0v1.0h-1.0zM73.3,1325.6h1.0v1.0h-1.0zM73.3,1328.9h1.0v1.0h-1.0zM67.2,1323.4h1.0v1.0h-1.0zM72.4,1330.1h1.0v1.0h-1.0zM70.6,1327.5h1.0v1.0h-1.0zM107.5,1324.0h2.6v1.6h-2.6zM110.2,1321.1h1.0v1.0h-1.0zM107.1,1324.5h1.0v1.0h-1.0zM114.4,1324.8h1.0v1.0h-1.0zM101.4,1326.0h1.0v1.0h-1.0zM180.2,1324.0h2.6v1.6h-2.6zM216.7,1324.0h2.6v1.6h-2.6zM221.5,1323.8h1.0v1.0h-1.0zM218.8,1325.6h1.0v1.0h-1.0zM217.1,1325.3h1.0v1.0h-1.0zM214.4,1326.9h1.0v1.0h-1.0zM254.4,1324.0h2.6v1.6h-2.6zM256.8,1321.3h1.0v1.0h-1.0zM250.4,1324.5h1.0v1.0h-1.0zM254.3,1323.9h1.0v1.0h-1.0zM254.0,1324.8h1.0v1.0h-1.0zM259.3,1324.6h1.0v1.0h-1.0zM256.7,1323.4h1.0v1.0h-1.0zM255.8,1328.0h1.0v1.0h-1.0zM34.3,1361.2h2.6v1.6h-2.6zM39.0,1367.8h1.0v1.0h-1.0zM71.5,1361.2h2.6v1.6h-2.6zM69.9,1361.6h1.0v1.0h-1.0zM107.5,1361.2h2.6v1.6h-2.6zM144.0,1361.2h2.6v1.6h-2.6zM180.2,1361.2h2.6v1.6h-2.6zM216.7,1361.2h2.6v1.6h-2.6zM215.0,1364.4h1.0v1.0h-1.0zM217.2,1361.2h1.0v1.0h-1.0zM254.4,1361.2h2.6v1.6h-2.6zM250.1,1361.8h1.0v1.0h-1.0zM256.0,1364.5h1.0v1.0h-1.0zM254.9,1359.1h1.0v1.0h-1.0zM291.1,1361.2h2.6v1.6h-2.6zM34.3,1399.6h2.6v1.6h-2.6zM71.5,1399.6h2.6v1.6h-2.6zM73.1,1402.3h1.0v1.0h-1.0zM73.0,1403.2h1.0v1.0h-1.0zM70.9,1402.2h1.0v1.0h-1.0zM70.6,1395.6h1.0v1.0h-1.0zM74.5,1398.3h1.0v1.0h-1.0zM63.2,1403.0h1.0v1.0h-1.0zM107.5,1399.6h2.6v1.6h-2.6zM108.6,1402.8h1.0v1.0h-1.0zM109.3,1396.5h1.0v1.0h-1.0zM107.6,1402.8h1.0v1.0h-1.0zM216.7,1399.6h2.6v1.6h-2.6zM220.4,1400.1h1.0v1.0h-1.0zM219.8,1399.6h1.0v1.0h-1.0zM214.4,1395.4h1.0v1.0h-1.0zM216.3,1400.6h1.0v1.0h-1.0zM216.9,1397.6h1.0v1.0h-1.0zM254.4,1399.6h2.6v1.6h-2.6zM252.0,1401.0h1.0v1.0h-1.0zM253.4,1402.6h1.0v1.0h-1.0z" fill="rgb(255,255,255)" opacity="1.00"/>

<path d="M363.1,1139.8h1.0v1.0h-1.0zM403.7,1135.0h1.0v1.0h-1.0zM397.5,1143.3h1.0v1.0h-1.0zM408.8,1136.9h1.0v1.0h-1.0zM405.7,1141.5h1.0v1.0h-1.0zM437.4,1138.4h1.0v1.0h-1.0zM442.3,1144.3h1.0v1.0h-1.0zM435.4,1140.1h1.0v1.0h-1.0zM440.7,1140.5h1.0v1.0h-1.0zM435.2,1138.3h1.0v1.0h-1.0zM434.1,1140.3h1.0v1.0h-1.0zM436.5,1141.1h1.0v1.0h-1.0zM426.8,1141.1h1.0v1.0h-1.0zM437.9,1137.2h1.0v1.0h-1.0zM475.0,1140.4h1.0v1.0h-1.0zM471.4,1143.8h1.0v1.0h-1.0zM475.1,1148.4h1.0v1.0h-1.0zM510.6,1141.5h1.0v1.0h-1.0zM507.7,1142.9h1.0v1.0h-1.0zM505.4,1139.9h1.0v1.0h-1.0zM544.3,1137.3h1.0v1.0h-1.0zM550.7,1139.8h1.0v1.0h-1.0zM582.6,1144.3h1.0v1.0h-1.0zM578.0,1138.9h1.0v1.0h-1.0zM582.0,1143.3h1.0v1.0h-1.0zM578.7,1138.6h1.0v1.0h-1.0zM582.8,1144.2h1.0v1.0h-1.0zM583.0,1137.0h1.0v1.0h-1.0zM583.0,1138.7h1.0v1.0h-1.0zM583.1,1140.4h1.0v1.0h-1.0zM368.6,1170.6h1.0v1.0h-1.0zM360.2,1170.5h1.0v1.0h-1.0zM368.3,1171.5h1.0v1.0h-1.0zM363.4,1172.1h1.0v1.0h-1.0zM363.4,1175.1h1.0v1.0h-1.0zM368.7,1173.3h1.0v1.0h-1.0zM364.7,1172.0h1.0v1.0h-1.0zM398.3,1178.6h1.0v1.0h-1.0zM394.3,1176.7h1.0v1.0h-1.0zM403.7,1176.0h1.0v1.0h-1.0zM394.0,1177.5h1.0v1.0h-1.0zM399.4,1170.6h1.0v1.0h-1.0zM400.9,1177.9h1.0v1.0h-1.0zM433.3,1172.5h1.0v1.0h-1.0zM475.3,1177.1h1.0v1.0h-1.0zM471.8,1178.1h1.0v1.0h-1.0zM471.5,1174.2h1.0v1.0h-1.0zM473.0,1177.9h1.0v1.0h-1.0zM467.3,1176.3h1.0v1.0h-1.0zM512.2,1178.3h1.0v1.0h-1.0zM505.7,1169.6h1.0v1.0h-1.0zM506.5,1176.4h1.0v1.0h-1.0zM537.9,1180.1h1.0v1.0h-1.0zM551.8,1177.0h1.0v1.0h-1.0zM546.0,1170.0h1.0v1.0h-1.0zM554.1,1174.0h1.0v1.0h-1.0zM580.7,1171.6h1.0v1.0h-1.0zM576.4,1172.3h1.0v1.0h-1.0zM585.7,1175.4h1.0v1.0h-1.0zM586.4,1177.8h1.0v1.0h-1.0zM580.9,1173.8h1.0v1.0h-1.0zM356.7,1214.2h1.0v1.0h-1.0zM364.2,1211.2h1.0v1.0h-1.0zM364.4,1209.4h1.0v1.0h-1.0zM370.0,1215.4h1.0v1.0h-1.0zM361.6,1214.1h1.0v1.0h-1.0zM364.9,1211.8h1.0v1.0h-1.0zM361.5,1211.6h1.0v1.0h-1.0zM400.5,1210.7h1.0v1.0h-1.0zM400.2,1215.6h1.0v1.0h-1.0zM441.9,1211.2h1.0v1.0h-1.0zM437.9,1208.8h1.0v1.0h-1.0zM516.2,1210.7h1.0v1.0h-1.0zM514.3,1211.0h1.0v1.0h-1.0zM512.8,1213.6h1.0v1.0h-1.0zM508.6,1210.1h1.0v1.0h-1.0zM510.9,1212.8h1.0v1.0h-1.0zM510.5,1213.0h1.0v1.0h-1.0zM514.1,1208.6h1.0v1.0h-1.0zM514.5,1214.1h1.0v1.0h-1.0zM506.7,1212.8h1.0v1.0h-1.0zM576.8,1214.1h1.0v1.0h-1.0zM579.5,1213.2h1.0v1.0h-1.0zM584.1,1212.3h1.0v1.0h-1.0zM578.6,1219.4h1.0v1.0h-1.0zM580.9,1205.7h1.0v1.0h-1.0zM583.7,1212.7h1.0v1.0h-1.0zM616.8,1212.4h1.0v1.0h-1.0zM614.2,1212.2h1.0v1.0h-1.0zM620.0,1214.1h1.0v1.0h-1.0zM620.2,1207.9h1.0v1.0h-1.0zM620.9,1215.0h1.0v1.0h-1.0zM618.6,1217.2h1.0v1.0h-1.0zM616.7,1214.0h1.0v1.0h-1.0zM618.3,1213.5h1.0v1.0h-1.0zM365.2,1244.3h1.0v1.0h-1.0zM362.6,1248.5h1.0v1.0h-1.0zM404.4,1248.0h1.0v1.0h-1.0zM395.9,1241.9h1.0v1.0h-1.0zM397.5,1248.2h1.0v1.0h-1.0zM402.8,1245.1h1.0v1.0h-1.0zM437.2,1256.3h1.0v1.0h-1.0zM441.1,1252.2h1.0v1.0h-1.0zM473.1,1251.1h1.0v1.0h-1.0zM516.8,1246.0h1.0v1.0h-1.0zM515.1,1249.6h1.0v1.0h-1.0zM513.6,1249.3h1.0v1.0h-1.0zM548.6,1255.7h1.0v1.0h-1.0zM573.5,1245.4h1.0v1.0h-1.0zM578.9,1247.3h1.0v1.0h-1.0zM584.8,1247.0h1.0v1.0h-1.0zM359.6,1286.8h1.0v1.0h-1.0zM370.0,1287.9h1.0v1.0h-1.0zM401.7,1285.5h1.0v1.0h-1.0zM403.8,1286.8h1.0v1.0h-1.0zM443.0,1282.9h1.0v1.0h-1.0zM425.8,1285.2h1.0v1.0h-1.0zM435.5,1284.3h1.0v1.0h-1.0zM473.0,1285.4h1.0v1.0h-1.0zM473.4,1284.8h1.0v1.0h-1.0zM475.4,1285.7h1.0v1.0h-1.0zM467.7,1281.8h1.0v1.0h-1.0zM472.8,1291.1h1.0v1.0h-1.0zM465.1,1286.6h1.0v1.0h-1.0zM474.6,1287.2h1.0v1.0h-1.0zM508.9,1286.2h1.0v1.0h-1.0zM510.3,1282.3h1.0v1.0h-1.0zM511.8,1291.2h1.0v1.0h-1.0zM510.5,1285.8h1.0v1.0h-1.0zM515.6,1288.3h1.0v1.0h-1.0zM510.4,1287.2h1.0v1.0h-1.0zM539.7,1281.8h1.0v1.0h-1.0zM582.5,1286.6h1.0v1.0h-1.0zM361.1,1314.9h1.0v1.0h-1.0zM366.8,1320.0h1.0v1.0h-1.0zM364.4,1321.8h1.0v1.0h-1.0zM366.8,1322.8h1.0v1.0h-1.0zM366.2,1319.8h1.0v1.0h-1.0zM402.8,1320.8h1.0v1.0h-1.0zM396.2,1324.1h1.0v1.0h-1.0zM401.2,1320.7h1.0v1.0h-1.0zM437.5,1320.3h1.0v1.0h-1.0zM441.6,1319.2h1.0v1.0h-1.0zM443.0,1320.4h1.0v1.0h-1.0zM434.3,1321.5h1.0v1.0h-1.0zM435.3,1322.8h1.0v1.0h-1.0zM585.6,1319.1h1.0v1.0h-1.0zM583.3,1321.1h1.0v1.0h-1.0zM623.8,1322.4h1.0v1.0h-1.0zM616.5,1324.4h1.0v1.0h-1.0zM621.2,1323.5h1.0v1.0h-1.0zM615.7,1321.5h1.0v1.0h-1.0zM621.8,1321.6h1.0v1.0h-1.0zM622.9,1320.5h1.0v1.0h-1.0zM362.0,1360.4h1.0v1.0h-1.0zM363.3,1362.7h1.0v1.0h-1.0zM367.5,1360.4h1.0v1.0h-1.0zM366.0,1359.8h1.0v1.0h-1.0zM369.7,1357.8h1.0v1.0h-1.0zM363.8,1362.0h1.0v1.0h-1.0zM363.7,1360.7h1.0v1.0h-1.0zM369.5,1360.0h1.0v1.0h-1.0zM364.1,1354.9h1.0v1.0h-1.0zM403.8,1356.3h1.0v1.0h-1.0zM399.5,1361.8h1.0v1.0h-1.0zM477.9,1356.3h1.0v1.0h-1.0zM472.7,1360.2h1.0v1.0h-1.0zM475.2,1360.2h1.0v1.0h-1.0zM510.3,1356.4h1.0v1.0h-1.0zM505.9,1359.0h1.0v1.0h-1.0zM512.8,1355.5h1.0v1.0h-1.0zM510.3,1358.9h1.0v1.0h-1.0zM507.8,1356.0h1.0v1.0h-1.0zM580.0,1359.1h1.0v1.0h-1.0zM586.2,1359.2h1.0v1.0h-1.0zM625.5,1359.6h1.0v1.0h-1.0zM400.0,1401.1h1.0v1.0h-1.0zM399.7,1393.4h1.0v1.0h-1.0zM401.0,1397.1h1.0v1.0h-1.0zM402.8,1399.0h1.0v1.0h-1.0zM437.6,1394.9h1.0v1.0h-1.0zM441.9,1392.3h1.0v1.0h-1.0zM440.3,1395.8h1.0v1.0h-1.0zM434.2,1395.5h1.0v1.0h-1.0zM471.9,1397.1h1.0v1.0h-1.0zM475.6,1398.3h1.0v1.0h-1.0zM471.3,1396.2h1.0v1.0h-1.0zM472.3,1396.1h1.0v1.0h-1.0zM471.0,1395.6h1.0v1.0h-1.0zM473.4,1398.7h1.0v1.0h-1.0zM509.9,1394.6h1.0v1.0h-1.0zM508.8,1401.3h1.0v1.0h-1.0zM506.1,1402.4h1.0v1.0h-1.0zM509.7,1400.7h1.0v1.0h-1.0zM510.5,1397.3h1.0v1.0h-1.0zM512.8,1400.4h1.0v1.0h-1.0zM513.8,1390.2h1.0v1.0h-1.0zM513.4,1395.3h1.0v1.0h-1.0zM545.5,1394.6h1.0v1.0h-1.0zM543.7,1396.0h1.0v1.0h-1.0zM546.5,1398.8h1.0v1.0h-1.0zM571.0,1395.6h1.0v1.0h-1.0z" fill="rgb(222,222,255)" opacity="0.20"/>
<path d="M367.5,1144.0h1.0v1.0h-1.0zM361.9,1138.7h1.0v1.0h-1.0zM364.9,1135.7h1.0v1.0h-1.0zM364.9,1143.0h1.0v1.0h-1.0zM365.7,1139.2h1.0v1.0h-1.0zM358.8,1139.7h1.0v1.0h-1.0zM404.2,1135.0h1.0v1.0h-1.0zM396.5,1142.4h1.0v1.0h-1.0zM401.1,1140.5h1.0v1.0h-1.0zM399.6,1136.9h1.0v1.0h-1.0zM402.5,1139.9h1.0v1.0h-1.0zM404.8,1140.7h1.0v1.0h-1.0zM402.3,1137.8h1.0v1.0h-1.0zM433.4,1142.9h1.0v1.0h-1.0zM437.9,1140.3h1.0v1.0h-1.0zM439.2,1137.5h1.0v1.0h-1.0zM480.2,1131.7h1.0v1.0h-1.0zM475.7,1135.2h1.0v1.0h-1.0zM479.7,1145.0h1.0v1.0h-1.0zM477.4,1140.7h1.0v1.0h-1.0zM507.0,1144.9h1.0v1.0h-1.0zM506.4,1139.9h1.0v1.0h-1.0zM501.6,1138.0h1.0v1.0h-1.0zM517.8,1146.4h1.0v1.0h-1.0zM512.3,1139.4h1.0v1.0h-1.0zM509.3,1137.9h1.0v1.0h-1.0zM506.2,1132.5h1.0v1.0h-1.0zM512.8,1143.9h1.0v1.0h-1.0zM548.3,1136.1h1.0v1.0h-1.0zM546.4,1144.0h1.0v1.0h-1.0zM545.1,1139.9h1.0v1.0h-1.0zM542.1,1141.3h1.0v1.0h-1.0zM547.4,1139.3h1.0v1.0h-1.0zM545.2,1131.1h1.0v1.0h-1.0zM543.7,1140.1h1.0v1.0h-1.0zM541.8,1134.4h1.0v1.0h-1.0zM551.4,1142.4h1.0v1.0h-1.0zM366.1,1177.5h1.0v1.0h-1.0zM366.9,1174.6h1.0v1.0h-1.0zM363.5,1177.0h1.0v1.0h-1.0zM364.2,1178.8h1.0v1.0h-1.0zM365.6,1176.2h1.0v1.0h-1.0zM368.1,1183.9h1.0v1.0h-1.0zM399.5,1175.7h1.0v1.0h-1.0zM396.0,1177.3h1.0v1.0h-1.0zM397.5,1175.7h1.0v1.0h-1.0zM398.8,1173.6h1.0v1.0h-1.0zM399.6,1180.5h1.0v1.0h-1.0zM400.7,1170.8h1.0v1.0h-1.0zM399.6,1175.6h1.0v1.0h-1.0zM438.1,1173.9h1.0v1.0h-1.0zM441.7,1175.5h1.0v1.0h-1.0zM434.4,1177.7h1.0v1.0h-1.0zM447.6,1173.2h1.0v1.0h-1.0zM438.2,1174.8h1.0v1.0h-1.0zM432.8,1177.7h1.0v1.0h-1.0zM439.3,1174.6h1.0v1.0h-1.0zM432.8,1170.8h1.0v1.0h-1.0zM477.4,1169.3h1.0v1.0h-1.0zM475.6,1175.2h1.0v1.0h-1.0zM471.5,1174.5h1.0v1.0h-1.0zM470.4,1174.6h1.0v1.0h-1.0zM473.6,1178.0h1.0v1.0h-1.0zM469.9,1174.3h1.0v1.0h-1.0zM477.9,1169.0h1.0v1.0h-1.0zM508.7,1175.5h1.0v1.0h-1.0zM515.8,1179.8h1.0v1.0h-1.0zM514.1,1173.3h1.0v1.0h-1.0zM512.7,1172.8h1.0v1.0h-1.0zM509.7,1172.1h1.0v1.0h-1.0zM506.4,1176.5h1.0v1.0h-1.0zM506.6,1173.8h1.0v1.0h-1.0zM512.6,1176.7h1.0v1.0h-1.0zM538.1,1169.6h1.0v1.0h-1.0zM543.0,1172.8h1.0v1.0h-1.0zM542.1,1171.7h1.0v1.0h-1.0zM547.4,1175.3h1.0v1.0h-1.0zM548.3,1171.9h1.0v1.0h-1.0zM547.5,1171.9h1.0v1.0h-1.0zM580.3,1177.0h1.0v1.0h-1.0zM584.5,1176.6h1.0v1.0h-1.0zM583.9,1175.4h1.0v1.0h-1.0zM584.5,1176.5h1.0v1.0h-1.0zM579.4,1176.7h1.0v1.0h-1.0zM586.9,1179.0h1.0v1.0h-1.0zM579.5,1168.8h1.0v1.0h-1.0zM581.5,1172.1h1.0v1.0h-1.0zM366.3,1215.6h1.0v1.0h-1.0zM362.0,1212.8h1.0v1.0h-1.0zM366.4,1210.9h1.0v1.0h-1.0zM364.2,1210.1h1.0v1.0h-1.0zM357.4,1210.3h1.0v1.0h-1.0zM365.4,1212.6h1.0v1.0h-1.0zM401.3,1215.3h1.0v1.0h-1.0zM404.8,1213.7h1.0v1.0h-1.0zM398.4,1213.4h1.0v1.0h-1.0zM445.0,1216.1h1.0v1.0h-1.0zM432.1,1213.0h1.0v1.0h-1.0zM437.9,1222.1h1.0v1.0h-1.0zM445.0,1220.7h1.0v1.0h-1.0zM434.3,1216.6h1.0v1.0h-1.0zM441.6,1212.4h1.0v1.0h-1.0zM547.7,1210.2h1.0v1.0h-1.0zM543.3,1217.6h1.0v1.0h-1.0zM546.6,1220.3h1.0v1.0h-1.0zM547.4,1215.3h1.0v1.0h-1.0zM546.5,1210.2h1.0v1.0h-1.0zM544.4,1211.0h1.0v1.0h-1.0zM545.7,1220.2h1.0v1.0h-1.0zM546.2,1216.1h1.0v1.0h-1.0zM546.0,1215.6h1.0v1.0h-1.0zM549.2,1213.0h1.0v1.0h-1.0zM554.8,1207.6h1.0v1.0h-1.0zM579.6,1218.0h1.0v1.0h-1.0zM581.4,1205.5h1.0v1.0h-1.0zM581.5,1214.4h1.0v1.0h-1.0zM582.0,1214.0h1.0v1.0h-1.0zM583.3,1214.7h1.0v1.0h-1.0zM365.1,1248.7h1.0v1.0h-1.0zM364.5,1249.0h1.0v1.0h-1.0zM362.6,1245.7h1.0v1.0h-1.0zM360.9,1247.0h1.0v1.0h-1.0zM369.5,1241.9h1.0v1.0h-1.0zM354.3,1247.4h1.0v1.0h-1.0zM367.7,1253.2h1.0v1.0h-1.0zM368.8,1245.9h1.0v1.0h-1.0zM397.2,1246.1h1.0v1.0h-1.0zM403.8,1249.9h1.0v1.0h-1.0zM399.7,1248.4h1.0v1.0h-1.0zM401.4,1253.5h1.0v1.0h-1.0zM400.7,1254.4h1.0v1.0h-1.0zM397.5,1249.7h1.0v1.0h-1.0zM401.6,1249.9h1.0v1.0h-1.0zM403.6,1240.2h1.0v1.0h-1.0zM398.8,1243.1h1.0v1.0h-1.0zM439.9,1254.0h1.0v1.0h-1.0zM434.2,1244.7h1.0v1.0h-1.0zM436.4,1248.6h1.0v1.0h-1.0zM435.7,1250.7h1.0v1.0h-1.0zM471.5,1250.4h1.0v1.0h-1.0zM477.6,1246.4h1.0v1.0h-1.0zM470.8,1249.4h1.0v1.0h-1.0zM474.6,1247.6h1.0v1.0h-1.0zM506.7,1243.7h1.0v1.0h-1.0zM508.4,1248.7h1.0v1.0h-1.0zM508.2,1248.7h1.0v1.0h-1.0zM504.8,1245.5h1.0v1.0h-1.0zM513.0,1249.5h1.0v1.0h-1.0zM505.3,1248.4h1.0v1.0h-1.0zM511.6,1247.8h1.0v1.0h-1.0zM511.2,1254.8h1.0v1.0h-1.0zM542.2,1249.6h1.0v1.0h-1.0zM543.2,1245.3h1.0v1.0h-1.0zM548.8,1245.2h1.0v1.0h-1.0zM535.9,1245.5h1.0v1.0h-1.0zM585.0,1247.2h1.0v1.0h-1.0zM577.8,1243.2h1.0v1.0h-1.0zM581.2,1253.6h1.0v1.0h-1.0zM585.3,1251.5h1.0v1.0h-1.0zM572.9,1246.2h1.0v1.0h-1.0zM585.0,1249.2h1.0v1.0h-1.0zM580.4,1242.4h1.0v1.0h-1.0zM582.2,1251.0h1.0v1.0h-1.0zM585.7,1248.5h1.0v1.0h-1.0zM366.4,1281.0h1.0v1.0h-1.0zM367.8,1280.2h1.0v1.0h-1.0zM363.4,1281.3h1.0v1.0h-1.0zM366.6,1284.7h1.0v1.0h-1.0zM370.1,1293.6h1.0v1.0h-1.0zM369.4,1283.8h1.0v1.0h-1.0zM361.6,1290.7h1.0v1.0h-1.0zM370.1,1281.7h1.0v1.0h-1.0zM406.2,1287.1h1.0v1.0h-1.0zM399.2,1289.9h1.0v1.0h-1.0zM397.9,1285.2h1.0v1.0h-1.0zM400.9,1289.3h1.0v1.0h-1.0zM396.9,1287.2h1.0v1.0h-1.0zM398.1,1282.0h1.0v1.0h-1.0zM398.0,1288.2h1.0v1.0h-1.0zM402.6,1279.3h1.0v1.0h-1.0zM436.8,1282.4h1.0v1.0h-1.0zM437.5,1286.4h1.0v1.0h-1.0zM432.9,1289.8h1.0v1.0h-1.0zM436.4,1285.9h1.0v1.0h-1.0zM471.6,1285.9h1.0v1.0h-1.0zM472.5,1291.8h1.0v1.0h-1.0zM474.6,1286.7h1.0v1.0h-1.0zM473.8,1284.7h1.0v1.0h-1.0zM470.2,1285.3h1.0v1.0h-1.0zM471.7,1292.9h1.0v1.0h-1.0zM514.6,1285.8h1.0v1.0h-1.0zM506.1,1289.8h1.0v1.0h-1.0zM513.4,1287.7h1.0v1.0h-1.0zM513.0,1286.1h1.0v1.0h-1.0zM511.5,1289.8h1.0v1.0h-1.0zM503.9,1287.6h1.0v1.0h-1.0zM548.0,1288.2h1.0v1.0h-1.0zM542.5,1286.2h1.0v1.0h-1.0zM550.5,1287.6h1.0v1.0h-1.0zM547.6,1285.7h1.0v1.0h-1.0zM546.7,1285.9h1.0v1.0h-1.0zM543.5,1279.0h1.0v1.0h-1.0zM587.2,1291.4h1.0v1.0h-1.0zM589.8,1277.4h1.0v1.0h-1.0zM578.6,1290.9h1.0v1.0h-1.0zM586.1,1286.4h1.0v1.0h-1.0zM588.2,1286.1h1.0v1.0h-1.0zM365.4,1323.1h1.0v1.0h-1.0zM367.0,1327.1h1.0v1.0h-1.0zM365.6,1322.9h1.0v1.0h-1.0zM367.1,1318.1h1.0v1.0h-1.0zM363.3,1322.1h1.0v1.0h-1.0zM361.1,1314.6h1.0v1.0h-1.0zM365.6,1317.9h1.0v1.0h-1.0zM368.5,1322.6h1.0v1.0h-1.0zM399.6,1322.3h1.0v1.0h-1.0zM394.3,1322.2h1.0v1.0h-1.0zM404.6,1320.4h1.0v1.0h-1.0zM404.5,1323.5h1.0v1.0h-1.0zM400.0,1320.5h1.0v1.0h-1.0zM398.0,1323.5h1.0v1.0h-1.0zM404.1,1319.6h1.0v1.0h-1.0zM406.0,1324.6h1.0v1.0h-1.0zM404.0,1321.1h1.0v1.0h-1.0zM434.0,1320.2h1.0v1.0h-1.0zM438.8,1321.3h1.0v1.0h-1.0zM435.1,1322.4h1.0v1.0h-1.0zM436.7,1317.0h1.0v1.0h-1.0zM439.8,1327.6h1.0v1.0h-1.0zM435.0,1320.0h1.0v1.0h-1.0zM440.8,1330.2h1.0v1.0h-1.0zM541.5,1325.3h1.0v1.0h-1.0zM541.9,1325.9h1.0v1.0h-1.0zM548.7,1320.9h1.0v1.0h-1.0zM547.1,1321.4h1.0v1.0h-1.0zM543.4,1325.7h1.0v1.0h-1.0zM544.9,1326.1h1.0v1.0h-1.0zM547.0,1319.3h1.0v1.0h-1.0zM586.1,1323.2h1.0v1.0h-1.0zM583.8,1323.3h1.0v1.0h-1.0zM581.2,1325.8h1.0v1.0h-1.0zM620.7,1321.6h1.0v1.0h-1.0zM620.3,1318.2h1.0v1.0h-1.0zM617.4,1323.0h1.0v1.0h-1.0zM625.9,1321.9h1.0v1.0h-1.0zM618.4,1324.3h1.0v1.0h-1.0zM618.8,1317.0h1.0v1.0h-1.0zM360.9,1360.8h1.0v1.0h-1.0zM367.3,1362.4h1.0v1.0h-1.0zM401.6,1353.6h1.0v1.0h-1.0zM402.9,1365.9h1.0v1.0h-1.0zM397.1,1362.4h1.0v1.0h-1.0zM406.4,1360.2h1.0v1.0h-1.0zM397.3,1359.8h1.0v1.0h-1.0zM403.8,1360.6h1.0v1.0h-1.0zM432.9,1358.1h1.0v1.0h-1.0zM440.9,1360.9h1.0v1.0h-1.0zM441.5,1355.2h1.0v1.0h-1.0zM476.5,1360.4h1.0v1.0h-1.0zM475.4,1362.0h1.0v1.0h-1.0zM472.2,1358.2h1.0v1.0h-1.0zM469.8,1361.5h1.0v1.0h-1.0zM473.0,1363.1h1.0v1.0h-1.0zM474.5,1352.9h1.0v1.0h-1.0zM508.9,1358.4h1.0v1.0h-1.0zM510.4,1361.5h1.0v1.0h-1.0zM515.8,1357.7h1.0v1.0h-1.0zM513.8,1361.6h1.0v1.0h-1.0zM509.5,1356.5h1.0v1.0h-1.0zM512.9,1359.4h1.0v1.0h-1.0zM543.9,1355.4h1.0v1.0h-1.0zM549.6,1359.7h1.0v1.0h-1.0zM545.3,1354.6h1.0v1.0h-1.0zM538.3,1361.4h1.0v1.0h-1.0zM575.8,1368.8h1.0v1.0h-1.0zM581.7,1365.2h1.0v1.0h-1.0zM581.3,1363.1h1.0v1.0h-1.0zM577.2,1368.2h1.0v1.0h-1.0zM580.1,1367.0h1.0v1.0h-1.0zM578.1,1359.9h1.0v1.0h-1.0zM581.3,1359.3h1.0v1.0h-1.0zM582.5,1358.4h1.0v1.0h-1.0zM579.0,1356.1h1.0v1.0h-1.0zM586.9,1358.7h1.0v1.0h-1.0zM581.2,1357.1h1.0v1.0h-1.0zM618.4,1363.7h1.0v1.0h-1.0zM625.3,1355.0h1.0v1.0h-1.0zM620.4,1358.4h1.0v1.0h-1.0zM623.4,1363.2h1.0v1.0h-1.0zM624.3,1355.7h1.0v1.0h-1.0zM619.1,1359.9h1.0v1.0h-1.0zM616.9,1358.0h1.0v1.0h-1.0zM616.6,1364.1h1.0v1.0h-1.0zM363.7,1396.1h1.0v1.0h-1.0zM368.1,1395.9h1.0v1.0h-1.0zM365.3,1399.0h1.0v1.0h-1.0zM363.1,1396.4h1.0v1.0h-1.0zM358.7,1391.7h1.0v1.0h-1.0zM368.0,1391.3h1.0v1.0h-1.0zM369.2,1394.5h1.0v1.0h-1.0zM359.1,1403.1h1.0v1.0h-1.0zM364.3,1404.1h1.0v1.0h-1.0zM401.3,1399.1h1.0v1.0h-1.0zM398.3,1391.1h1.0v1.0h-1.0zM441.7,1393.9h1.0v1.0h-1.0zM441.6,1398.5h1.0v1.0h-1.0zM439.3,1396.6h1.0v1.0h-1.0zM442.1,1391.0h1.0v1.0h-1.0zM436.1,1396.1h1.0v1.0h-1.0zM435.9,1396.3h1.0v1.0h-1.0zM439.6,1398.3h1.0v1.0h-1.0zM436.5,1391.0h1.0v1.0h-1.0zM436.0,1397.2h1.0v1.0h-1.0zM474.8,1393.2h1.0v1.0h-1.0zM475.0,1393.5h1.0v1.0h-1.0zM467.7,1399.2h1.0v1.0h-1.0zM470.1,1395.7h1.0v1.0h-1.0zM478.2,1397.8h1.0v1.0h-1.0zM473.2,1397.2h1.0v1.0h-1.0zM473.0,1400.9h1.0v1.0h-1.0zM512.7,1393.8h1.0v1.0h-1.0zM510.0,1398.0h1.0v1.0h-1.0zM505.8,1401.6h1.0v1.0h-1.0zM544.5,1399.6h1.0v1.0h-1.0zM542.2,1395.7h1.0v1.0h-1.0zM541.3,1395.2h1.0v1.0h-1.0zM544.8,1400.8h1.0v1.0h-1.0zM547.9,1398.0h1.0v1.0h-1.0zM544.0,1396.5h1.0v1.0h-1.0zM542.3,1394.2h1.0v1.0h-1.0zM543.9,1395.1h1.0v1.0h-1.0zM581.8,1400.0h1.0v1.0h-1.0zM582.1,1391.3h1.0v1.0h-1.0zM592.0,1394.0h1.0v1.0h-1.0zM587.4,1396.7h1.0v1.0h-1.0zM580.5,1397.0h1.0v1.0h-1.0zM585.0,1401.7h1.0v1.0h-1.0z" fill="rgb(222,222,255)" opacity="0.40"/>
<path d="M362.4,1136.5h1.0v1.0h-1.0zM358.9,1137.6h1.0v1.0h-1.0zM363.3,1142.7h1.0v1.0h-1.0zM362.8,1145.0h1.0v1.0h-1.0zM361.5,1131.8h1.0v1.0h-1.0zM366.4,1140.7h1.0v1.0h-1.0zM367.8,1142.5h1.0v1.0h-1.0zM362.9,1140.2h1.0v1.0h-1.0zM364.3,1137.4h1.0v1.0h-1.0zM399.6,1142.6h1.0v1.0h-1.0zM395.0,1144.5h1.0v1.0h-1.0zM403.4,1140.7h1.0v1.0h-1.0zM399.0,1142.0h1.0v1.0h-1.0zM433.2,1136.6h1.0v1.0h-1.0zM470.9,1138.1h1.0v1.0h-1.0zM475.8,1141.5h1.0v1.0h-1.0zM466.7,1138.9h1.0v1.0h-1.0zM472.6,1136.5h1.0v1.0h-1.0zM475.7,1134.8h1.0v1.0h-1.0zM472.2,1137.5h1.0v1.0h-1.0zM470.4,1142.1h1.0v1.0h-1.0zM474.1,1137.0h1.0v1.0h-1.0zM471.2,1142.2h1.0v1.0h-1.0zM509.7,1135.7h1.0v1.0h-1.0zM512.1,1137.9h1.0v1.0h-1.0zM511.2,1143.0h1.0v1.0h-1.0zM508.4,1138.1h1.0v1.0h-1.0zM515.1,1135.6h1.0v1.0h-1.0zM546.9,1138.9h1.0v1.0h-1.0zM546.9,1136.6h1.0v1.0h-1.0zM433.0,1178.7h1.0v1.0h-1.0zM432.8,1180.9h1.0v1.0h-1.0zM434.7,1170.7h1.0v1.0h-1.0zM439.3,1170.4h1.0v1.0h-1.0zM439.0,1177.5h1.0v1.0h-1.0zM438.7,1175.8h1.0v1.0h-1.0zM439.0,1169.6h1.0v1.0h-1.0zM473.9,1173.4h1.0v1.0h-1.0zM512.2,1169.7h1.0v1.0h-1.0zM512.1,1176.7h1.0v1.0h-1.0zM504.9,1175.1h1.0v1.0h-1.0zM510.5,1173.7h1.0v1.0h-1.0zM507.4,1175.0h1.0v1.0h-1.0zM541.5,1174.9h1.0v1.0h-1.0zM545.1,1181.3h1.0v1.0h-1.0zM548.6,1168.9h1.0v1.0h-1.0zM545.6,1171.0h1.0v1.0h-1.0zM546.7,1170.9h1.0v1.0h-1.0zM405.5,1219.6h1.0v1.0h-1.0zM401.4,1211.8h1.0v1.0h-1.0zM399.6,1212.2h1.0v1.0h-1.0zM394.9,1209.8h1.0v1.0h-1.0zM399.8,1210.4h1.0v1.0h-1.0zM400.4,1210.6h1.0v1.0h-1.0zM400.2,1217.0h1.0v1.0h-1.0zM404.3,1218.6h1.0v1.0h-1.0zM397.8,1210.7h1.0v1.0h-1.0zM396.3,1212.2h1.0v1.0h-1.0zM437.5,1210.6h1.0v1.0h-1.0zM438.3,1212.2h1.0v1.0h-1.0zM437.8,1212.3h1.0v1.0h-1.0zM437.7,1213.6h1.0v1.0h-1.0zM434.6,1212.8h1.0v1.0h-1.0zM435.8,1209.5h1.0v1.0h-1.0zM440.6,1215.2h1.0v1.0h-1.0zM435.9,1216.4h1.0v1.0h-1.0zM551.5,1215.7h1.0v1.0h-1.0zM545.6,1213.7h1.0v1.0h-1.0zM545.5,1217.8h1.0v1.0h-1.0zM545.1,1208.1h1.0v1.0h-1.0zM544.6,1212.9h1.0v1.0h-1.0zM586.3,1217.5h1.0v1.0h-1.0zM581.6,1217.4h1.0v1.0h-1.0zM588.5,1207.6h1.0v1.0h-1.0zM585.8,1216.8h1.0v1.0h-1.0zM366.1,1249.9h1.0v1.0h-1.0zM366.2,1243.9h1.0v1.0h-1.0zM362.3,1245.6h1.0v1.0h-1.0zM368.5,1244.8h1.0v1.0h-1.0zM364.5,1249.6h1.0v1.0h-1.0zM362.2,1251.9h1.0v1.0h-1.0zM433.5,1247.7h1.0v1.0h-1.0zM436.1,1246.9h1.0v1.0h-1.0zM436.0,1250.2h1.0v1.0h-1.0zM437.4,1237.3h1.0v1.0h-1.0zM441.1,1243.3h1.0v1.0h-1.0zM437.7,1245.5h1.0v1.0h-1.0zM437.8,1242.4h1.0v1.0h-1.0zM466.4,1242.0h1.0v1.0h-1.0zM472.0,1248.1h1.0v1.0h-1.0zM469.1,1247.1h1.0v1.0h-1.0zM472.9,1250.3h1.0v1.0h-1.0zM476.0,1249.0h1.0v1.0h-1.0zM470.6,1242.6h1.0v1.0h-1.0zM467.8,1241.7h1.0v1.0h-1.0zM472.9,1252.3h1.0v1.0h-1.0zM470.7,1247.6h1.0v1.0h-1.0zM474.7,1248.7h1.0v1.0h-1.0zM472.1,1253.4h1.0v1.0h-1.0zM512.4,1249.2h1.0v1.0h-1.0zM506.8,1243.8h1.0v1.0h-1.0zM516.6,1253.3h1.0v1.0h-1.0zM507.0,1249.9h1.0v1.0h-1.0zM509.6,1254.1h1.0v1.0h-1.0zM546.5,1244.0h1.0v1.0h-1.0zM554.0,1242.0h1.0v1.0h-1.0zM541.4,1251.2h1.0v1.0h-1.0zM542.8,1243.5h1.0v1.0h-1.0zM544.4,1245.8h1.0v1.0h-1.0zM545.7,1247.3h1.0v1.0h-1.0zM546.2,1245.2h1.0v1.0h-1.0zM542.1,1251.1h1.0v1.0h-1.0zM546.3,1241.9h1.0v1.0h-1.0zM545.8,1253.8h1.0v1.0h-1.0zM583.1,1245.2h1.0v1.0h-1.0zM585.5,1247.1h1.0v1.0h-1.0zM584.2,1250.2h1.0v1.0h-1.0zM363.5,1289.8h1.0v1.0h-1.0zM360.6,1284.4h1.0v1.0h-1.0zM365.3,1288.8h1.0v1.0h-1.0zM361.5,1287.7h1.0v1.0h-1.0zM363.3,1288.3h1.0v1.0h-1.0zM367.2,1282.8h1.0v1.0h-1.0zM394.9,1294.3h1.0v1.0h-1.0zM400.2,1291.4h1.0v1.0h-1.0zM403.9,1286.7h1.0v1.0h-1.0zM400.7,1288.1h1.0v1.0h-1.0zM405.3,1282.6h1.0v1.0h-1.0zM396.8,1287.2h1.0v1.0h-1.0zM439.8,1281.6h1.0v1.0h-1.0zM437.1,1296.2h1.0v1.0h-1.0zM428.8,1283.1h1.0v1.0h-1.0zM437.3,1281.5h1.0v1.0h-1.0zM435.7,1284.1h1.0v1.0h-1.0zM433.7,1285.5h1.0v1.0h-1.0zM508.4,1292.4h1.0v1.0h-1.0zM512.5,1289.8h1.0v1.0h-1.0zM509.8,1281.0h1.0v1.0h-1.0zM546.8,1286.9h1.0v1.0h-1.0zM547.7,1287.9h1.0v1.0h-1.0zM546.9,1288.2h1.0v1.0h-1.0zM544.5,1287.8h1.0v1.0h-1.0zM545.7,1286.8h1.0v1.0h-1.0zM543.0,1284.6h1.0v1.0h-1.0zM545.0,1283.2h1.0v1.0h-1.0zM544.4,1291.9h1.0v1.0h-1.0zM540.6,1290.6h1.0v1.0h-1.0zM582.1,1278.6h1.0v1.0h-1.0zM585.1,1289.5h1.0v1.0h-1.0zM580.4,1284.1h1.0v1.0h-1.0zM580.6,1284.8h1.0v1.0h-1.0zM584.1,1284.3h1.0v1.0h-1.0zM582.0,1283.6h1.0v1.0h-1.0zM579.6,1288.0h1.0v1.0h-1.0zM580.1,1292.4h1.0v1.0h-1.0zM585.2,1285.9h1.0v1.0h-1.0zM362.4,1317.9h1.0v1.0h-1.0zM360.9,1321.0h1.0v1.0h-1.0zM401.7,1319.5h1.0v1.0h-1.0zM396.5,1324.7h1.0v1.0h-1.0zM406.0,1328.2h1.0v1.0h-1.0zM443.4,1325.6h1.0v1.0h-1.0zM434.8,1320.5h1.0v1.0h-1.0zM432.6,1324.8h1.0v1.0h-1.0zM541.8,1319.5h1.0v1.0h-1.0zM542.9,1324.3h1.0v1.0h-1.0zM545.2,1324.0h1.0v1.0h-1.0zM547.4,1323.8h1.0v1.0h-1.0zM545.8,1321.5h1.0v1.0h-1.0zM547.0,1323.4h1.0v1.0h-1.0zM545.4,1322.0h1.0v1.0h-1.0zM585.8,1321.8h1.0v1.0h-1.0zM583.1,1321.0h1.0v1.0h-1.0zM588.5,1331.3h1.0v1.0h-1.0zM589.5,1317.2h1.0v1.0h-1.0zM580.2,1319.3h1.0v1.0h-1.0zM581.6,1320.6h1.0v1.0h-1.0zM579.1,1324.5h1.0v1.0h-1.0zM580.9,1318.3h1.0v1.0h-1.0zM584.5,1323.0h1.0v1.0h-1.0zM580.0,1321.3h1.0v1.0h-1.0zM579.3,1328.2h1.0v1.0h-1.0zM623.0,1327.4h1.0v1.0h-1.0zM622.1,1327.2h1.0v1.0h-1.0zM621.0,1324.4h1.0v1.0h-1.0zM397.6,1360.6h1.0v1.0h-1.0zM401.7,1356.8h1.0v1.0h-1.0zM400.2,1362.6h1.0v1.0h-1.0zM405.5,1357.9h1.0v1.0h-1.0zM403.4,1360.8h1.0v1.0h-1.0zM404.5,1360.8h1.0v1.0h-1.0zM434.4,1362.7h1.0v1.0h-1.0zM438.6,1359.9h1.0v1.0h-1.0zM436.9,1355.2h1.0v1.0h-1.0zM440.9,1352.9h1.0v1.0h-1.0zM435.0,1356.0h1.0v1.0h-1.0zM433.0,1357.5h1.0v1.0h-1.0zM437.7,1358.7h1.0v1.0h-1.0zM439.0,1358.9h1.0v1.0h-1.0zM440.7,1364.5h1.0v1.0h-1.0zM439.5,1359.7h1.0v1.0h-1.0zM442.0,1362.4h1.0v1.0h-1.0zM444.9,1362.8h1.0v1.0h-1.0zM478.2,1363.7h1.0v1.0h-1.0zM466.6,1355.3h1.0v1.0h-1.0zM470.6,1357.8h1.0v1.0h-1.0zM474.2,1364.6h1.0v1.0h-1.0zM479.6,1364.6h1.0v1.0h-1.0zM472.1,1356.1h1.0v1.0h-1.0zM550.7,1356.1h1.0v1.0h-1.0zM543.5,1360.2h1.0v1.0h-1.0zM546.3,1362.2h1.0v1.0h-1.0zM543.2,1351.9h1.0v1.0h-1.0zM553.2,1360.6h1.0v1.0h-1.0zM545.1,1360.8h1.0v1.0h-1.0zM543.4,1355.2h1.0v1.0h-1.0zM545.3,1359.8h1.0v1.0h-1.0zM541.2,1354.0h1.0v1.0h-1.0zM538.3,1352.1h1.0v1.0h-1.0zM579.4,1357.4h1.0v1.0h-1.0zM581.1,1366.2h1.0v1.0h-1.0zM582.9,1357.5h1.0v1.0h-1.0zM616.2,1353.6h1.0v1.0h-1.0zM621.1,1360.3h1.0v1.0h-1.0zM623.6,1360.6h1.0v1.0h-1.0zM619.1,1358.2h1.0v1.0h-1.0zM618.9,1356.9h1.0v1.0h-1.0zM619.4,1362.2h1.0v1.0h-1.0zM370.0,1398.4h1.0v1.0h-1.0zM360.8,1397.0h1.0v1.0h-1.0zM363.9,1398.1h1.0v1.0h-1.0zM366.1,1400.8h1.0v1.0h-1.0zM363.9,1395.3h1.0v1.0h-1.0zM405.3,1396.9h1.0v1.0h-1.0zM399.1,1388.6h1.0v1.0h-1.0zM406.7,1402.3h1.0v1.0h-1.0zM403.4,1394.5h1.0v1.0h-1.0zM403.6,1401.7h1.0v1.0h-1.0zM406.3,1399.9h1.0v1.0h-1.0zM399.2,1397.1h1.0v1.0h-1.0zM402.1,1398.2h1.0v1.0h-1.0zM397.1,1392.0h1.0v1.0h-1.0zM400.1,1396.8h1.0v1.0h-1.0zM546.0,1401.4h1.0v1.0h-1.0zM543.6,1399.3h1.0v1.0h-1.0zM539.7,1399.3h1.0v1.0h-1.0zM544.0,1397.4h1.0v1.0h-1.0zM582.1,1392.3h1.0v1.0h-1.0zM579.4,1393.9h1.0v1.0h-1.0zM583.2,1397.1h1.0v1.0h-1.0zM581.7,1392.1h1.0v1.0h-1.0zM577.4,1399.0h1.0v1.0h-1.0zM579.7,1393.6h1.0v1.0h-1.0zM581.2,1396.2h1.0v1.0h-1.0zM581.6,1393.3h1.0v1.0h-1.0zM581.3,1398.4h1.0v1.0h-1.0z" fill="rgb(222,222,255)" opacity="0.65"/>
<path d="M363.8,1139.2h2.2v1.6h-2.2zM363.6,1139.5h1.5v1.5h-1.5zM399.8,1139.2h2.2v1.6h-2.2zM435.8,1139.2h2.2v1.6h-2.2zM471.8,1139.2h2.2v1.6h-2.2zM472.6,1140.0h1.5v1.5h-1.5zM508.8,1139.2h2.2v1.6h-2.2zM508.9,1138.3h1.5v1.5h-1.5zM544.8,1139.2h2.2v1.6h-2.2zM363.8,1174.0h2.2v1.6h-2.2zM399.8,1174.0h2.2v1.6h-2.2zM435.8,1174.0h2.2v1.6h-2.2zM437.4,1175.4h1.5v1.5h-1.5zM471.8,1174.0h2.2v1.6h-2.2zM508.8,1174.0h2.2v1.6h-2.2zM507.9,1173.3h1.5v1.5h-1.5zM544.8,1174.0h2.2v1.6h-2.2zM545.4,1172.8h1.5v1.5h-1.5zM545.2,1173.4h1.0v1.0h-1.0zM542.6,1171.5h1.0v1.0h-1.0zM545.4,1174.2h1.0v1.0h-1.0zM581.5,1174.0h2.2v1.6h-2.2zM363.8,1212.4h2.2v1.6h-2.2zM399.8,1212.4h2.2v1.6h-2.2zM435.8,1212.4h2.2v1.6h-2.2zM437.2,1212.0h1.5v1.5h-1.5zM432.8,1217.5h1.0v1.0h-1.0zM442.5,1212.6h1.0v1.0h-1.0zM544.8,1212.4h2.2v1.6h-2.2zM546.3,1211.2h1.5v1.5h-1.5zM581.5,1212.4h2.2v1.6h-2.2zM363.8,1247.2h2.2v1.6h-2.2zM365.8,1246.1h1.5v1.5h-1.5zM367.2,1246.6h1.0v1.0h-1.0zM363.0,1246.9h1.0v1.0h-1.0zM399.8,1247.2h2.2v1.6h-2.2zM435.8,1247.2h2.2v1.6h-2.2zM437.3,1248.4h1.5v1.5h-1.5zM430.7,1242.8h1.0v1.0h-1.0zM445.0,1254.6h1.0v1.0h-1.0zM440.2,1244.6h1.0v1.0h-1.0zM433.5,1243.5h1.0v1.0h-1.0zM432.8,1255.4h1.0v1.0h-1.0zM471.8,1247.2h2.2v1.6h-2.2zM471.8,1248.9h1.5v1.5h-1.5zM508.8,1247.2h2.2v1.6h-2.2zM508.9,1248.3h1.5v1.5h-1.5zM544.8,1247.2h2.2v1.6h-2.2zM545.2,1247.1h1.5v1.5h-1.5zM544.2,1253.7h1.0v1.0h-1.0zM546.6,1251.6h1.0v1.0h-1.0zM540.0,1244.6h1.0v1.0h-1.0zM581.5,1247.2h2.2v1.6h-2.2zM363.8,1285.6h2.2v1.6h-2.2zM363.3,1284.7h1.5v1.5h-1.5zM399.8,1285.6h2.2v1.6h-2.2zM399.2,1284.5h1.5v1.5h-1.5zM435.8,1285.6h2.2v1.6h-2.2zM437.3,1286.3h1.5v1.5h-1.5zM436.4,1288.7h1.0v1.0h-1.0zM429.7,1283.9h1.0v1.0h-1.0zM433.7,1286.1h1.0v1.0h-1.0zM438.8,1290.0h1.0v1.0h-1.0zM437.1,1283.1h1.0v1.0h-1.0zM471.8,1285.6h2.2v1.6h-2.2zM508.8,1285.6h2.2v1.6h-2.2zM544.8,1285.6h2.2v1.6h-2.2zM546.5,1285.5h1.5v1.5h-1.5zM581.5,1285.6h2.2v1.6h-2.2zM580.9,1287.3h1.5v1.5h-1.5zM574.8,1280.3h1.0v1.0h-1.0zM575.3,1282.6h1.0v1.0h-1.0zM585.6,1281.6h1.0v1.0h-1.0zM581.3,1278.8h1.0v1.0h-1.0zM581.7,1284.3h1.0v1.0h-1.0zM363.8,1321.6h2.2v1.6h-2.2zM399.8,1321.6h2.2v1.6h-2.2zM400.7,1321.9h1.5v1.5h-1.5zM396.5,1318.9h1.0v1.0h-1.0zM397.5,1322.8h1.0v1.0h-1.0zM398.5,1319.0h1.0v1.0h-1.0zM435.8,1321.6h2.2v1.6h-2.2zM544.8,1321.6h2.2v1.6h-2.2zM544.3,1322.5h1.5v1.5h-1.5zM540.1,1317.7h1.0v1.0h-1.0zM543.8,1325.1h1.0v1.0h-1.0zM547.6,1317.1h1.0v1.0h-1.0zM546.1,1319.8h1.0v1.0h-1.0zM581.5,1321.6h2.2v1.6h-2.2zM582.4,1321.4h1.5v1.5h-1.5zM618.7,1321.6h2.2v1.6h-2.2zM399.8,1358.8h2.2v1.6h-2.2zM399.5,1358.5h1.5v1.5h-1.5zM405.3,1357.2h1.0v1.0h-1.0zM403.0,1358.7h1.0v1.0h-1.0zM399.6,1363.4h1.0v1.0h-1.0zM399.9,1357.3h1.0v1.0h-1.0zM435.8,1358.8h2.2v1.6h-2.2zM435.2,1357.7h1.5v1.5h-1.5zM436.2,1359.7h1.0v1.0h-1.0zM433.2,1356.3h1.0v1.0h-1.0zM436.6,1356.5h1.0v1.0h-1.0zM471.8,1358.8h2.2v1.6h-2.2zM544.8,1358.8h2.2v1.6h-2.2zM545.8,1357.8h1.5v1.5h-1.5zM551.1,1361.5h1.0v1.0h-1.0zM552.4,1357.9h1.0v1.0h-1.0zM545.7,1359.9h1.0v1.0h-1.0zM549.7,1354.5h1.0v1.0h-1.0zM581.5,1358.8h2.2v1.6h-2.2zM580.6,1358.6h1.5v1.5h-1.5zM581.1,1354.9h1.0v1.0h-1.0zM582.5,1352.6h1.0v1.0h-1.0zM618.7,1358.8h2.2v1.6h-2.2zM363.8,1396.0h2.2v1.6h-2.2zM363.5,1394.8h1.5v1.5h-1.5zM371.3,1395.3h1.0v1.0h-1.0zM368.1,1395.8h1.0v1.0h-1.0zM364.1,1394.1h1.0v1.0h-1.0zM370.6,1405.3h1.0v1.0h-1.0zM364.6,1397.9h1.0v1.0h-1.0zM368.9,1398.3h1.0v1.0h-1.0zM399.8,1396.0h2.2v1.6h-2.2zM400.1,1397.2h1.5v1.5h-1.5zM435.8,1396.0h2.2v1.6h-2.2zM471.8,1396.0h2.2v1.6h-2.2zM544.8,1396.0h2.2v1.6h-2.2zM581.5,1396.0h2.2v1.6h-2.2zM582.7,1395.4h1.5v1.5h-1.5z" fill="rgb(222,222,255)" opacity="1.00"/>
<ellipse cx="758.1" cy="1124.9" rx="1.4" ry="0.9" transform="rotate(-1 758.1 1124.9)" fill="#fff" opacity="0.75"/><ellipse cx="794.6" cy="1124.9" rx="2.2" ry="1.2" transform="rotate(1 794.6 1124.9)" fill="#fff" opacity="1.00"/><ellipse cx="831.8" cy="1124.9" rx="2.2" ry="1.2" transform="rotate(-42 831.8 1124.9)" fill="#fff" opacity="1.00"/><ellipse cx="868.5" cy="1124.9" rx="2.5" ry="1.2" transform="rotate(2 868.5 1124.9)" fill="#fff" opacity="1.00"/><ellipse cx="721.4" cy="1161.6" rx="2.0" ry="1.1" transform="rotate(-15 721.4 1161.6)" fill="#fff" opacity="0.95"/><ellipse cx="758.1" cy="1161.6" rx="2.3" ry="1.2" transform="rotate(2 758.1 1161.6)" fill="#fff" opacity="1.00"/><ellipse cx="794.6" cy="1161.6" rx="1.9" ry="1.1" transform="rotate(-24 794.6 1161.6)" fill="#fff" opacity="0.90"/><ellipse cx="831.8" cy="1161.6" rx="2.2" ry="1.1" transform="rotate(-26 831.8 1161.6)" fill="#fff" opacity="0.95"/><ellipse cx="868.5" cy="1161.6" rx="1.9" ry="1.2" transform="rotate(-6 868.5 1161.6)" fill="#fff" opacity="1.00"/><ellipse cx="905.0" cy="1161.6" rx="1.7" ry="1.1" transform="rotate(-46 905.0 1161.6)" fill="#fff" opacity="0.95"/><ellipse cx="684.2" cy="1200.0" rx="2.0" ry="1.1" transform="rotate(-44 684.2 1200.0)" fill="#fff" opacity="0.90"/><ellipse cx="721.4" cy="1200.0" rx="1.8" ry="1.1" transform="rotate(4 721.4 1200.0)" fill="#fff" opacity="0.95"/><ellipse cx="758.1" cy="1200.0" rx="2.1" ry="1.2" transform="rotate(-6 758.1 1200.0)" fill="#fff" opacity="1.00"/><ellipse cx="868.5" cy="1200.0" rx="2.0" ry="1.2" transform="rotate(-39 868.5 1200.0)" fill="#fff" opacity="1.00"/><ellipse cx="905.0" cy="1200.0" rx="1.6" ry="1.1" transform="rotate(-18 905.0 1200.0)" fill="#fff" opacity="0.90"/><ellipse cx="942.2" cy="1200.0" rx="1.7" ry="1.1" transform="rotate(-28 942.2 1200.0)" fill="#fff" opacity="0.95"/><ellipse cx="684.2" cy="1237.2" rx="2.2" ry="1.2" transform="rotate(-24 684.2 1237.2)" fill="#fff" opacity="1.00"/><ellipse cx="758.1" cy="1237.2" rx="1.9" ry="1.1" transform="rotate(-44 758.1 1237.2)" fill="#fff" opacity="0.90"/><ellipse cx="684.2" cy="1274.4" rx="1.9" ry="1.0" transform="rotate(-28 684.2 1274.4)" fill="#fff" opacity="0.85"/><ellipse cx="721.4" cy="1274.4" rx="2.3" ry="1.1" transform="rotate(3 721.4 1274.4)" fill="#fff" opacity="0.95"/><ellipse cx="758.1" cy="1274.4" rx="2.1" ry="1.1" transform="rotate(0 758.1 1274.4)" fill="#fff" opacity="0.90"/><ellipse cx="684.2" cy="1310.4" rx="1.9" ry="1.1" transform="rotate(-8 684.2 1310.4)" fill="#fff" opacity="0.95"/><ellipse cx="721.4" cy="1310.4" rx="1.7" ry="1.1" transform="rotate(8 721.4 1310.4)" fill="#fff" opacity="0.95"/><ellipse cx="758.1" cy="1310.4" rx="1.8" ry="1.0" transform="rotate(-11 758.1 1310.4)" fill="#fff" opacity="0.85"/><ellipse cx="868.5" cy="1310.4" rx="1.4" ry="1.0" transform="rotate(6 868.5 1310.4)" fill="#fff" opacity="0.80"/><ellipse cx="942.2" cy="1310.4" rx="1.4" ry="0.9" transform="rotate(-20 942.2 1310.4)" fill="#fff" opacity="0.75"/><ellipse cx="721.4" cy="1347.6" rx="2.2" ry="1.1" transform="rotate(-31 721.4 1347.6)" fill="#fff" opacity="0.95"/><ellipse cx="758.1" cy="1347.6" rx="2.1" ry="1.1" transform="rotate(-48 758.1 1347.6)" fill="#fff" opacity="0.95"/><ellipse cx="794.6" cy="1347.6" rx="1.9" ry="1.0" transform="rotate(-38 794.6 1347.6)" fill="#fff" opacity="0.85"/><ellipse cx="831.8" cy="1347.6" rx="2.0" ry="1.1" transform="rotate(-5 831.8 1347.6)" fill="#fff" opacity="0.90"/><ellipse cx="868.5" cy="1347.6" rx="1.8" ry="1.1" transform="rotate(1 868.5 1347.6)" fill="#fff" opacity="0.90"/><ellipse cx="905.0" cy="1347.6" rx="2.1" ry="1.1" transform="rotate(1 905.0 1347.6)" fill="#fff" opacity="0.95"/><ellipse cx="942.2" cy="1347.6" rx="1.8" ry="1.0" transform="rotate(-39 942.2 1347.6)" fill="#fff" opacity="0.85"/><ellipse cx="721.4" cy="1384.8" rx="1.8" ry="1.2" transform="rotate(-19 721.4 1384.8)" fill="#fff" opacity="1.00"/><ellipse cx="758.1" cy="1384.8" rx="1.8" ry="1.1" transform="rotate(-40 758.1 1384.8)" fill="#fff" opacity="0.95"/><ellipse cx="794.6" cy="1384.8" rx="1.9" ry="1.1" transform="rotate(-4 794.6 1384.8)" fill="#fff" opacity="0.90"/><ellipse cx="831.8" cy="1384.8" rx="2.0" ry="1.1" transform="rotate(9 831.8 1384.8)" fill="#fff" opacity="0.95"/><ellipse cx="868.5" cy="1384.8" rx="2.0" ry="1.2" transform="rotate(7 868.5 1384.8)" fill="#fff" opacity="1.00"/><ellipse cx="905.0" cy="1384.8" rx="1.6" ry="1.1" transform="rotate(-8 905.0 1384.8)" fill="#fff" opacity="0.90"/><ellipse cx="831.8" cy="1420.8" rx="1.6" ry="1.0" transform="rotate(-17 831.8 1420.8)" fill="#fff" opacity="0.85"/>
<path d="M684.4,1125.6h1.0v1.0h-1.0zM686.8,1123.9h1.0v1.0h-1.0zM682.6,1126.4h1.0v1.0h-1.0zM678.9,1128.4h1.0v1.0h-1.0zM681.1,1125.0h1.0v1.0h-1.0zM685.2,1121.5h1.0v1.0h-1.0zM725.1,1124.6h1.0v1.0h-1.0zM715.9,1123.9h1.0v1.0h-1.0zM719.4,1122.7h1.0v1.0h-1.0zM722.5,1128.0h1.0v1.0h-1.0zM718.0,1128.1h1.0v1.0h-1.0zM719.1,1123.3h1.0v1.0h-1.0zM757.2,1121.4h1.0v1.0h-1.0zM757.8,1134.4h1.0v1.0h-1.0zM760.7,1122.6h1.0v1.0h-1.0zM754.3,1123.5h1.0v1.0h-1.0zM750.0,1122.0h1.0v1.0h-1.0zM766.9,1132.9h1.0v1.0h-1.0zM764.3,1128.5h1.0v1.0h-1.0zM760.3,1126.4h1.0v1.0h-1.0zM758.5,1125.2h1.0v1.0h-1.0zM759.3,1126.0h1.0v1.0h-1.0zM748.7,1126.5h1.0v1.0h-1.0zM799.5,1122.9h1.0v1.0h-1.0zM786.0,1126.4h1.0v1.0h-1.0zM792.8,1124.6h1.0v1.0h-1.0zM794.7,1107.1h1.0v1.0h-1.0zM795.6,1126.8h1.0v1.0h-1.0zM791.6,1124.9h1.0v1.0h-1.0zM795.2,1119.7h1.0v1.0h-1.0zM799.0,1117.4h1.0v1.0h-1.0zM795.0,1123.3h1.0v1.0h-1.0zM795.2,1119.3h1.0v1.0h-1.0zM831.7,1131.7h1.0v1.0h-1.0zM836.2,1130.0h1.0v1.0h-1.0zM834.3,1128.6h1.0v1.0h-1.0zM832.5,1127.9h1.0v1.0h-1.0zM871.6,1122.6h1.0v1.0h-1.0zM862.0,1128.6h1.0v1.0h-1.0zM864.0,1125.2h1.0v1.0h-1.0zM869.5,1121.4h1.0v1.0h-1.0zM869.8,1124.4h1.0v1.0h-1.0zM870.8,1129.3h1.0v1.0h-1.0zM731.8,1166.4h1.0v1.0h-1.0zM724.9,1157.2h1.0v1.0h-1.0zM716.4,1163.7h1.0v1.0h-1.0zM719.2,1161.1h1.0v1.0h-1.0zM716.3,1157.6h1.0v1.0h-1.0zM724.6,1170.5h1.0v1.0h-1.0zM718.1,1166.1h1.0v1.0h-1.0zM719.7,1165.0h1.0v1.0h-1.0zM728.1,1168.0h1.0v1.0h-1.0zM766.1,1163.0h1.0v1.0h-1.0zM763.1,1160.9h1.0v1.0h-1.0zM753.7,1175.9h1.0v1.0h-1.0zM759.9,1161.8h1.0v1.0h-1.0zM757.1,1160.4h1.0v1.0h-1.0zM759.9,1167.0h1.0v1.0h-1.0zM757.6,1165.3h1.0v1.0h-1.0zM750.2,1161.1h1.0v1.0h-1.0zM764.5,1167.7h1.0v1.0h-1.0zM761.6,1167.7h1.0v1.0h-1.0zM751.2,1169.4h1.0v1.0h-1.0zM794.0,1155.7h1.0v1.0h-1.0zM797.5,1169.1h1.0v1.0h-1.0zM794.1,1161.2h1.0v1.0h-1.0zM800.1,1168.3h1.0v1.0h-1.0zM792.9,1171.3h1.0v1.0h-1.0zM793.5,1167.6h1.0v1.0h-1.0zM788.3,1160.7h1.0v1.0h-1.0zM789.2,1165.4h1.0v1.0h-1.0zM795.9,1168.4h1.0v1.0h-1.0zM793.2,1162.3h1.0v1.0h-1.0zM794.0,1159.6h1.0v1.0h-1.0zM796.1,1149.2h1.0v1.0h-1.0zM824.9,1162.2h1.0v1.0h-1.0zM826.4,1163.0h1.0v1.0h-1.0zM835.0,1155.7h1.0v1.0h-1.0zM829.2,1163.4h1.0v1.0h-1.0zM832.9,1165.6h1.0v1.0h-1.0zM827.7,1156.2h1.0v1.0h-1.0zM836.3,1160.9h1.0v1.0h-1.0zM837.7,1159.1h1.0v1.0h-1.0zM831.7,1153.7h1.0v1.0h-1.0zM830.6,1161.0h1.0v1.0h-1.0zM871.6,1162.8h1.0v1.0h-1.0zM869.8,1162.2h1.0v1.0h-1.0zM867.6,1152.5h1.0v1.0h-1.0zM873.9,1158.4h1.0v1.0h-1.0zM867.1,1152.6h1.0v1.0h-1.0zM865.8,1157.0h1.0v1.0h-1.0zM864.3,1160.9h1.0v1.0h-1.0zM868.9,1160.5h1.0v1.0h-1.0zM903.9,1166.2h1.0v1.0h-1.0zM904.6,1171.6h1.0v1.0h-1.0zM906.1,1157.7h1.0v1.0h-1.0zM903.3,1160.6h1.0v1.0h-1.0zM910.4,1167.0h1.0v1.0h-1.0zM902.9,1166.6h1.0v1.0h-1.0zM912.0,1169.7h1.0v1.0h-1.0zM917.6,1163.4h1.0v1.0h-1.0zM915.0,1164.5h1.0v1.0h-1.0zM904.2,1160.6h1.0v1.0h-1.0zM685.4,1193.9h1.0v1.0h-1.0zM685.3,1203.5h1.0v1.0h-1.0zM691.1,1203.6h1.0v1.0h-1.0zM691.9,1208.0h1.0v1.0h-1.0zM679.5,1197.2h1.0v1.0h-1.0zM688.2,1203.5h1.0v1.0h-1.0zM689.6,1198.0h1.0v1.0h-1.0zM683.5,1201.2h1.0v1.0h-1.0zM686.3,1202.2h1.0v1.0h-1.0zM681.3,1200.2h1.0v1.0h-1.0zM681.7,1208.4h1.0v1.0h-1.0zM686.7,1196.3h1.0v1.0h-1.0zM682.7,1208.0h1.0v1.0h-1.0zM715.2,1198.8h1.0v1.0h-1.0zM722.6,1208.2h1.0v1.0h-1.0zM724.5,1191.0h1.0v1.0h-1.0zM717.4,1196.1h1.0v1.0h-1.0zM721.5,1203.3h1.0v1.0h-1.0zM721.1,1200.6h1.0v1.0h-1.0zM718.9,1204.6h1.0v1.0h-1.0zM721.4,1202.0h1.0v1.0h-1.0zM717.0,1208.1h1.0v1.0h-1.0zM723.6,1206.0h1.0v1.0h-1.0zM760.0,1201.0h1.0v1.0h-1.0zM761.6,1185.1h1.0v1.0h-1.0zM757.5,1196.2h1.0v1.0h-1.0zM870.1,1200.3h1.0v1.0h-1.0zM861.0,1190.1h1.0v1.0h-1.0zM862.1,1197.7h1.0v1.0h-1.0zM870.2,1202.4h1.0v1.0h-1.0zM864.8,1203.6h1.0v1.0h-1.0zM861.4,1191.4h1.0v1.0h-1.0zM873.7,1204.7h1.0v1.0h-1.0zM867.1,1195.9h1.0v1.0h-1.0zM870.4,1199.1h1.0v1.0h-1.0zM907.9,1203.3h1.0v1.0h-1.0zM903.0,1205.1h1.0v1.0h-1.0zM904.7,1196.1h1.0v1.0h-1.0zM897.7,1204.6h1.0v1.0h-1.0zM902.1,1199.1h1.0v1.0h-1.0zM904.7,1198.9h1.0v1.0h-1.0zM904.9,1205.3h1.0v1.0h-1.0zM906.8,1207.4h1.0v1.0h-1.0zM905.2,1205.0h1.0v1.0h-1.0zM906.9,1203.5h1.0v1.0h-1.0zM905.5,1200.3h1.0v1.0h-1.0zM902.7,1205.6h1.0v1.0h-1.0zM939.2,1202.4h1.0v1.0h-1.0zM940.1,1198.1h1.0v1.0h-1.0zM950.5,1200.9h1.0v1.0h-1.0zM948.4,1200.3h1.0v1.0h-1.0zM941.8,1193.0h1.0v1.0h-1.0zM949.7,1196.0h1.0v1.0h-1.0zM943.9,1198.3h1.0v1.0h-1.0zM941.6,1202.5h1.0v1.0h-1.0zM940.6,1201.3h1.0v1.0h-1.0zM942.7,1196.5h1.0v1.0h-1.0zM683.9,1247.7h1.0v1.0h-1.0zM689.3,1234.6h1.0v1.0h-1.0zM688.1,1227.3h1.0v1.0h-1.0zM693.1,1228.5h1.0v1.0h-1.0zM686.5,1224.7h1.0v1.0h-1.0zM677.5,1234.4h1.0v1.0h-1.0zM677.5,1229.5h1.0v1.0h-1.0zM681.7,1241.3h1.0v1.0h-1.0zM718.8,1237.5h1.0v1.0h-1.0zM719.3,1235.4h1.0v1.0h-1.0zM725.7,1239.8h1.0v1.0h-1.0zM717.9,1238.3h1.0v1.0h-1.0zM722.2,1237.5h1.0v1.0h-1.0zM722.1,1235.2h1.0v1.0h-1.0zM719.1,1239.4h1.0v1.0h-1.0zM755.8,1244.2h1.0v1.0h-1.0zM757.0,1238.5h1.0v1.0h-1.0zM760.4,1235.1h1.0v1.0h-1.0zM755.8,1235.6h1.0v1.0h-1.0zM760.1,1234.9h1.0v1.0h-1.0zM755.4,1234.8h1.0v1.0h-1.0zM761.0,1238.2h1.0v1.0h-1.0zM751.6,1246.5h1.0v1.0h-1.0zM758.9,1235.1h1.0v1.0h-1.0zM753.0,1233.8h1.0v1.0h-1.0zM682.7,1270.1h1.0v1.0h-1.0zM681.7,1277.9h1.0v1.0h-1.0zM685.1,1282.8h1.0v1.0h-1.0zM685.4,1268.3h1.0v1.0h-1.0zM685.5,1281.0h1.0v1.0h-1.0zM683.2,1275.2h1.0v1.0h-1.0zM686.9,1278.5h1.0v1.0h-1.0zM684.5,1277.3h1.0v1.0h-1.0zM686.5,1275.7h1.0v1.0h-1.0zM720.5,1274.9h1.0v1.0h-1.0zM726.3,1269.2h1.0v1.0h-1.0zM728.4,1271.7h1.0v1.0h-1.0zM718.7,1265.0h1.0v1.0h-1.0zM725.4,1275.8h1.0v1.0h-1.0zM715.6,1265.8h1.0v1.0h-1.0zM722.7,1272.6h1.0v1.0h-1.0zM719.2,1265.8h1.0v1.0h-1.0zM725.9,1268.0h1.0v1.0h-1.0zM726.7,1285.4h1.0v1.0h-1.0zM759.0,1285.3h1.0v1.0h-1.0zM755.6,1281.6h1.0v1.0h-1.0zM765.6,1279.3h1.0v1.0h-1.0zM758.5,1274.1h1.0v1.0h-1.0zM759.1,1284.8h1.0v1.0h-1.0zM762.2,1276.1h1.0v1.0h-1.0zM762.9,1267.0h1.0v1.0h-1.0zM757.2,1273.7h1.0v1.0h-1.0zM753.9,1278.0h1.0v1.0h-1.0zM756.5,1270.5h1.0v1.0h-1.0zM761.1,1268.5h1.0v1.0h-1.0zM685.4,1316.4h1.0v1.0h-1.0zM689.3,1309.9h1.0v1.0h-1.0zM681.8,1311.3h1.0v1.0h-1.0zM688.1,1314.2h1.0v1.0h-1.0zM679.6,1310.8h1.0v1.0h-1.0zM689.2,1313.3h1.0v1.0h-1.0zM717.2,1307.2h1.0v1.0h-1.0zM715.6,1309.4h1.0v1.0h-1.0zM728.5,1305.7h1.0v1.0h-1.0zM726.9,1306.7h1.0v1.0h-1.0zM725.4,1307.5h1.0v1.0h-1.0zM719.9,1303.5h1.0v1.0h-1.0zM723.3,1315.4h1.0v1.0h-1.0zM758.4,1313.9h1.0v1.0h-1.0zM756.7,1313.9h1.0v1.0h-1.0zM753.2,1310.0h1.0v1.0h-1.0zM752.9,1305.8h1.0v1.0h-1.0zM756.0,1302.7h1.0v1.0h-1.0zM756.8,1309.6h1.0v1.0h-1.0zM752.3,1313.5h1.0v1.0h-1.0zM761.3,1310.4h1.0v1.0h-1.0zM747.6,1313.9h1.0v1.0h-1.0zM758.0,1318.3h1.0v1.0h-1.0zM753.1,1313.7h1.0v1.0h-1.0zM872.4,1309.9h1.0v1.0h-1.0zM871.2,1312.0h1.0v1.0h-1.0zM867.8,1312.3h1.0v1.0h-1.0zM865.5,1315.6h1.0v1.0h-1.0zM867.0,1316.3h1.0v1.0h-1.0zM870.4,1316.4h1.0v1.0h-1.0zM862.9,1308.1h1.0v1.0h-1.0zM870.6,1322.0h1.0v1.0h-1.0zM867.2,1315.9h1.0v1.0h-1.0zM870.3,1320.2h1.0v1.0h-1.0zM863.5,1309.6h1.0v1.0h-1.0zM866.7,1312.4h1.0v1.0h-1.0zM867.6,1302.5h1.0v1.0h-1.0zM907.6,1314.1h1.0v1.0h-1.0zM899.8,1317.7h1.0v1.0h-1.0zM905.8,1310.4h1.0v1.0h-1.0zM903.1,1304.7h1.0v1.0h-1.0zM908.3,1306.6h1.0v1.0h-1.0zM904.0,1307.1h1.0v1.0h-1.0zM909.8,1307.2h1.0v1.0h-1.0zM905.5,1317.8h1.0v1.0h-1.0zM942.5,1305.2h1.0v1.0h-1.0zM943.0,1314.4h1.0v1.0h-1.0zM938.4,1313.7h1.0v1.0h-1.0zM945.0,1311.0h1.0v1.0h-1.0zM941.8,1311.3h1.0v1.0h-1.0zM946.8,1312.7h1.0v1.0h-1.0zM934.1,1320.2h1.0v1.0h-1.0zM943.9,1311.6h1.0v1.0h-1.0zM941.8,1304.4h1.0v1.0h-1.0zM943.8,1309.7h1.0v1.0h-1.0zM938.2,1309.1h1.0v1.0h-1.0zM725.4,1349.1h1.0v1.0h-1.0zM715.3,1343.4h1.0v1.0h-1.0zM715.9,1351.8h1.0v1.0h-1.0zM716.2,1346.0h1.0v1.0h-1.0zM717.9,1349.7h1.0v1.0h-1.0zM721.2,1350.8h1.0v1.0h-1.0zM754.7,1353.6h1.0v1.0h-1.0zM762.2,1346.1h1.0v1.0h-1.0zM756.2,1345.1h1.0v1.0h-1.0zM801.6,1343.0h1.0v1.0h-1.0zM804.1,1348.8h1.0v1.0h-1.0zM790.6,1341.9h1.0v1.0h-1.0zM796.9,1351.0h1.0v1.0h-1.0zM792.6,1350.1h1.0v1.0h-1.0zM790.4,1355.5h1.0v1.0h-1.0zM798.2,1340.6h1.0v1.0h-1.0zM790.4,1347.1h1.0v1.0h-1.0zM797.8,1346.3h1.0v1.0h-1.0zM793.7,1346.3h1.0v1.0h-1.0zM790.1,1349.7h1.0v1.0h-1.0zM799.1,1356.2h1.0v1.0h-1.0zM830.7,1353.5h1.0v1.0h-1.0zM834.7,1349.5h1.0v1.0h-1.0zM843.8,1352.5h1.0v1.0h-1.0zM833.7,1344.4h1.0v1.0h-1.0zM828.7,1345.5h1.0v1.0h-1.0zM829.0,1353.8h1.0v1.0h-1.0zM823.7,1354.6h1.0v1.0h-1.0zM823.5,1353.7h1.0v1.0h-1.0zM833.8,1342.7h1.0v1.0h-1.0zM830.6,1341.3h1.0v1.0h-1.0zM830.6,1340.7h1.0v1.0h-1.0zM861.4,1347.4h1.0v1.0h-1.0zM860.6,1350.9h1.0v1.0h-1.0zM871.1,1345.0h1.0v1.0h-1.0zM866.7,1342.2h1.0v1.0h-1.0zM864.9,1338.1h1.0v1.0h-1.0zM873.6,1356.4h1.0v1.0h-1.0zM866.3,1346.0h1.0v1.0h-1.0zM863.2,1349.7h1.0v1.0h-1.0zM867.2,1347.7h1.0v1.0h-1.0zM870.2,1344.9h1.0v1.0h-1.0zM865.3,1351.2h1.0v1.0h-1.0zM907.8,1355.9h1.0v1.0h-1.0zM908.5,1349.9h1.0v1.0h-1.0zM906.6,1351.8h1.0v1.0h-1.0zM910.6,1348.8h1.0v1.0h-1.0zM903.5,1352.8h1.0v1.0h-1.0zM911.8,1345.3h1.0v1.0h-1.0zM908.4,1348.3h1.0v1.0h-1.0zM897.8,1348.2h1.0v1.0h-1.0zM895.2,1345.6h1.0v1.0h-1.0zM948.7,1348.1h1.0v1.0h-1.0zM945.3,1350.7h1.0v1.0h-1.0zM945.6,1351.0h1.0v1.0h-1.0zM940.9,1349.6h1.0v1.0h-1.0zM947.1,1346.7h1.0v1.0h-1.0zM938.6,1350.0h1.0v1.0h-1.0zM937.4,1347.2h1.0v1.0h-1.0zM941.1,1350.0h1.0v1.0h-1.0zM944.7,1342.0h1.0v1.0h-1.0zM942.8,1347.3h1.0v1.0h-1.0zM943.7,1352.3h1.0v1.0h-1.0zM722.4,1382.2h1.0v1.0h-1.0zM724.2,1380.7h1.0v1.0h-1.0zM721.3,1382.7h1.0v1.0h-1.0zM720.5,1395.9h1.0v1.0h-1.0zM723.3,1394.0h1.0v1.0h-1.0zM721.7,1395.7h1.0v1.0h-1.0zM716.1,1388.1h1.0v1.0h-1.0zM752.5,1383.7h1.0v1.0h-1.0zM761.7,1392.1h1.0v1.0h-1.0zM756.7,1382.9h1.0v1.0h-1.0zM759.8,1395.8h1.0v1.0h-1.0zM752.3,1384.7h1.0v1.0h-1.0zM763.8,1385.2h1.0v1.0h-1.0zM761.4,1379.1h1.0v1.0h-1.0zM765.5,1392.8h1.0v1.0h-1.0zM756.7,1389.1h1.0v1.0h-1.0zM759.8,1393.8h1.0v1.0h-1.0zM763.1,1382.3h1.0v1.0h-1.0zM787.7,1387.7h1.0v1.0h-1.0zM790.8,1391.4h1.0v1.0h-1.0zM797.6,1381.4h1.0v1.0h-1.0zM792.8,1382.6h1.0v1.0h-1.0zM796.7,1382.6h1.0v1.0h-1.0zM792.4,1387.3h1.0v1.0h-1.0zM788.1,1386.3h1.0v1.0h-1.0zM796.8,1390.9h1.0v1.0h-1.0zM797.4,1392.5h1.0v1.0h-1.0zM799.0,1389.1h1.0v1.0h-1.0zM792.7,1382.4h1.0v1.0h-1.0zM830.9,1386.3h1.0v1.0h-1.0zM832.2,1383.2h1.0v1.0h-1.0zM825.4,1397.7h1.0v1.0h-1.0zM827.0,1389.2h1.0v1.0h-1.0zM830.2,1385.0h1.0v1.0h-1.0zM825.0,1402.5h1.0v1.0h-1.0zM830.6,1390.4h1.0v1.0h-1.0zM829.8,1388.9h1.0v1.0h-1.0zM832.7,1381.4h1.0v1.0h-1.0zM838.9,1385.1h1.0v1.0h-1.0zM890.9,1387.9h1.0v1.0h-1.0zM865.3,1387.2h1.0v1.0h-1.0zM865.0,1395.4h1.0v1.0h-1.0zM869.0,1373.7h1.0v1.0h-1.0zM863.6,1393.0h1.0v1.0h-1.0zM858.2,1377.9h1.0v1.0h-1.0zM868.8,1383.9h1.0v1.0h-1.0zM904.0,1397.1h1.0v1.0h-1.0zM904.2,1380.8h1.0v1.0h-1.0zM907.7,1392.3h1.0v1.0h-1.0zM903.8,1387.6h1.0v1.0h-1.0zM905.6,1385.9h1.0v1.0h-1.0zM900.3,1387.3h1.0v1.0h-1.0zM905.2,1389.1h1.0v1.0h-1.0zM827.7,1423.8h1.0v1.0h-1.0zM835.0,1422.9h1.0v1.0h-1.0zM825.7,1423.9h1.0v1.0h-1.0zM831.4,1420.1h1.0v1.0h-1.0zM831.1,1427.3h1.0v1.0h-1.0zM833.5,1423.4h1.0v1.0h-1.0zM829.6,1420.0h1.0v1.0h-1.0zM831.5,1425.9h1.0v1.0h-1.0zM832.3,1432.8h1.0v1.0h-1.0zM831.2,1416.2h1.0v1.0h-1.0zM828.9,1426.4h1.0v1.0h-1.0z" fill="rgb(235,235,255)" opacity="0.20"/>
<path d="M796.8,1132.2h1.0v1.0h-1.0zM795.6,1134.5h1.0v1.0h-1.0zM799.8,1125.8h1.0v1.0h-1.0zM795.5,1128.1h1.0v1.0h-1.0zM788.0,1109.2h1.0v1.0h-1.0zM789.0,1128.3h1.0v1.0h-1.0zM791.6,1125.7h1.0v1.0h-1.0zM792.2,1139.3h1.0v1.0h-1.0zM799.2,1113.3h1.0v1.0h-1.0zM831.9,1125.2h1.0v1.0h-1.0zM829.1,1125.7h1.0v1.0h-1.0zM827.7,1122.4h1.0v1.0h-1.0zM824.4,1130.4h1.0v1.0h-1.0zM828.4,1139.2h1.0v1.0h-1.0zM831.6,1122.6h1.0v1.0h-1.0zM831.3,1126.6h1.0v1.0h-1.0zM831.0,1124.4h1.0v1.0h-1.0zM835.0,1127.6h1.0v1.0h-1.0zM832.2,1121.8h1.0v1.0h-1.0zM833.8,1118.5h1.0v1.0h-1.0zM825.5,1124.7h1.0v1.0h-1.0zM827.8,1120.3h1.0v1.0h-1.0zM824.0,1131.7h1.0v1.0h-1.0zM866.6,1122.2h1.0v1.0h-1.0zM862.3,1123.5h1.0v1.0h-1.0zM868.8,1130.7h1.0v1.0h-1.0zM863.7,1127.8h1.0v1.0h-1.0zM868.8,1116.1h1.0v1.0h-1.0zM866.5,1110.8h1.0v1.0h-1.0zM870.9,1120.7h1.0v1.0h-1.0zM867.5,1132.3h1.0v1.0h-1.0zM875.1,1122.7h1.0v1.0h-1.0zM870.0,1122.8h1.0v1.0h-1.0zM872.4,1129.0h1.0v1.0h-1.0zM870.1,1121.6h1.0v1.0h-1.0zM723.0,1166.7h1.0v1.0h-1.0zM712.3,1154.7h1.0v1.0h-1.0zM723.5,1171.4h1.0v1.0h-1.0zM722.2,1163.5h1.0v1.0h-1.0zM721.0,1157.1h1.0v1.0h-1.0zM724.8,1159.6h1.0v1.0h-1.0zM721.8,1176.0h1.0v1.0h-1.0zM720.3,1157.0h1.0v1.0h-1.0zM755.3,1166.4h1.0v1.0h-1.0zM753.2,1165.7h1.0v1.0h-1.0zM756.3,1160.2h1.0v1.0h-1.0zM758.7,1170.5h1.0v1.0h-1.0zM758.4,1169.7h1.0v1.0h-1.0zM757.2,1156.0h1.0v1.0h-1.0zM759.3,1156.0h1.0v1.0h-1.0zM757.3,1163.6h1.0v1.0h-1.0zM795.7,1163.1h1.0v1.0h-1.0zM798.5,1158.1h1.0v1.0h-1.0zM792.3,1158.7h1.0v1.0h-1.0zM800.5,1162.4h1.0v1.0h-1.0zM826.2,1152.1h1.0v1.0h-1.0zM833.1,1165.8h1.0v1.0h-1.0zM830.5,1162.5h1.0v1.0h-1.0zM834.5,1161.6h1.0v1.0h-1.0zM838.4,1166.3h1.0v1.0h-1.0zM830.0,1161.0h1.0v1.0h-1.0zM835.5,1171.2h1.0v1.0h-1.0zM867.5,1158.7h1.0v1.0h-1.0zM868.1,1153.9h1.0v1.0h-1.0zM863.2,1164.1h1.0v1.0h-1.0zM867.8,1163.8h1.0v1.0h-1.0zM859.2,1152.2h1.0v1.0h-1.0zM867.8,1168.2h1.0v1.0h-1.0zM864.4,1163.8h1.0v1.0h-1.0zM868.7,1163.6h1.0v1.0h-1.0zM900.7,1163.1h1.0v1.0h-1.0zM903.3,1158.7h1.0v1.0h-1.0zM898.9,1157.7h1.0v1.0h-1.0zM895.2,1160.3h1.0v1.0h-1.0zM912.2,1157.9h1.0v1.0h-1.0zM905.8,1156.7h1.0v1.0h-1.0zM909.5,1165.6h1.0v1.0h-1.0zM681.0,1202.8h1.0v1.0h-1.0zM682.8,1203.3h1.0v1.0h-1.0zM680.2,1206.0h1.0v1.0h-1.0zM728.3,1202.4h1.0v1.0h-1.0zM719.1,1207.8h1.0v1.0h-1.0zM719.7,1199.9h1.0v1.0h-1.0zM723.9,1200.2h1.0v1.0h-1.0zM718.1,1201.5h1.0v1.0h-1.0zM725.4,1196.8h1.0v1.0h-1.0zM716.8,1208.2h1.0v1.0h-1.0zM764.0,1197.1h1.0v1.0h-1.0zM757.1,1204.7h1.0v1.0h-1.0zM755.1,1209.8h1.0v1.0h-1.0zM761.5,1201.1h1.0v1.0h-1.0zM752.1,1206.5h1.0v1.0h-1.0zM763.9,1205.5h1.0v1.0h-1.0zM753.6,1196.4h1.0v1.0h-1.0zM768.2,1200.2h1.0v1.0h-1.0zM761.0,1192.8h1.0v1.0h-1.0zM756.3,1209.0h1.0v1.0h-1.0zM864.7,1206.4h1.0v1.0h-1.0zM878.1,1202.7h1.0v1.0h-1.0zM868.1,1195.8h1.0v1.0h-1.0zM870.5,1206.9h1.0v1.0h-1.0zM870.5,1208.2h1.0v1.0h-1.0zM874.6,1204.7h1.0v1.0h-1.0zM865.1,1197.4h1.0v1.0h-1.0zM863.2,1196.4h1.0v1.0h-1.0zM871.0,1200.1h1.0v1.0h-1.0zM899.0,1198.9h1.0v1.0h-1.0zM906.6,1206.0h1.0v1.0h-1.0zM908.3,1194.3h1.0v1.0h-1.0zM896.9,1200.5h1.0v1.0h-1.0zM949.4,1200.7h1.0v1.0h-1.0zM934.6,1212.8h1.0v1.0h-1.0zM937.2,1199.3h1.0v1.0h-1.0zM945.2,1214.2h1.0v1.0h-1.0zM945.7,1199.2h1.0v1.0h-1.0zM937.1,1199.5h1.0v1.0h-1.0zM954.1,1201.2h1.0v1.0h-1.0zM686.1,1229.4h1.0v1.0h-1.0zM681.1,1241.4h1.0v1.0h-1.0zM694.2,1239.8h1.0v1.0h-1.0zM683.2,1233.2h1.0v1.0h-1.0zM685.0,1235.9h1.0v1.0h-1.0zM682.8,1232.1h1.0v1.0h-1.0zM680.9,1240.8h1.0v1.0h-1.0zM684.6,1220.6h1.0v1.0h-1.0zM692.0,1225.8h1.0v1.0h-1.0zM684.0,1235.7h1.0v1.0h-1.0zM682.0,1238.4h1.0v1.0h-1.0zM763.5,1241.4h1.0v1.0h-1.0zM758.9,1231.4h1.0v1.0h-1.0zM768.2,1236.2h1.0v1.0h-1.0zM756.6,1241.5h1.0v1.0h-1.0zM754.7,1232.2h1.0v1.0h-1.0zM759.2,1234.1h1.0v1.0h-1.0zM687.8,1279.3h1.0v1.0h-1.0zM695.3,1271.1h1.0v1.0h-1.0zM686.0,1277.9h1.0v1.0h-1.0zM693.2,1272.9h1.0v1.0h-1.0zM681.5,1282.6h1.0v1.0h-1.0zM725.8,1273.2h1.0v1.0h-1.0zM722.7,1283.2h1.0v1.0h-1.0zM720.4,1280.7h1.0v1.0h-1.0zM720.4,1258.8h1.0v1.0h-1.0zM714.1,1273.7h1.0v1.0h-1.0zM714.6,1274.4h1.0v1.0h-1.0zM725.1,1282.0h1.0v1.0h-1.0zM759.1,1274.7h1.0v1.0h-1.0zM764.9,1276.4h1.0v1.0h-1.0zM757.9,1270.6h1.0v1.0h-1.0zM760.3,1278.5h1.0v1.0h-1.0zM751.4,1282.3h1.0v1.0h-1.0zM682.3,1308.9h1.0v1.0h-1.0zM678.1,1315.0h1.0v1.0h-1.0zM691.9,1309.3h1.0v1.0h-1.0zM671.8,1313.3h1.0v1.0h-1.0zM685.6,1314.3h1.0v1.0h-1.0zM678.5,1315.8h1.0v1.0h-1.0zM679.8,1308.4h1.0v1.0h-1.0zM691.5,1309.4h1.0v1.0h-1.0zM682.0,1311.3h1.0v1.0h-1.0zM685.6,1316.4h1.0v1.0h-1.0zM683.4,1322.2h1.0v1.0h-1.0zM717.3,1313.3h1.0v1.0h-1.0zM718.0,1310.0h1.0v1.0h-1.0zM721.7,1313.5h1.0v1.0h-1.0zM728.9,1305.7h1.0v1.0h-1.0zM723.9,1316.4h1.0v1.0h-1.0zM709.4,1306.3h1.0v1.0h-1.0zM721.2,1305.7h1.0v1.0h-1.0zM715.0,1311.2h1.0v1.0h-1.0zM717.7,1311.1h1.0v1.0h-1.0zM720.3,1318.3h1.0v1.0h-1.0zM759.9,1319.2h1.0v1.0h-1.0zM759.2,1310.2h1.0v1.0h-1.0zM756.9,1313.5h1.0v1.0h-1.0zM721.2,1357.9h1.0v1.0h-1.0zM726.1,1354.9h1.0v1.0h-1.0zM722.2,1349.0h1.0v1.0h-1.0zM725.6,1343.9h1.0v1.0h-1.0zM716.5,1352.5h1.0v1.0h-1.0zM727.2,1342.4h1.0v1.0h-1.0zM720.2,1352.9h1.0v1.0h-1.0zM720.3,1347.0h1.0v1.0h-1.0zM725.7,1345.1h1.0v1.0h-1.0zM720.8,1359.9h1.0v1.0h-1.0zM716.8,1347.0h1.0v1.0h-1.0zM757.5,1344.0h1.0v1.0h-1.0zM759.6,1349.1h1.0v1.0h-1.0zM756.8,1344.7h1.0v1.0h-1.0zM751.8,1346.6h1.0v1.0h-1.0zM757.9,1355.6h1.0v1.0h-1.0zM761.7,1344.2h1.0v1.0h-1.0zM763.9,1347.2h1.0v1.0h-1.0zM759.2,1341.3h1.0v1.0h-1.0zM765.3,1349.1h1.0v1.0h-1.0zM757.0,1334.2h1.0v1.0h-1.0zM761.2,1351.6h1.0v1.0h-1.0zM765.3,1355.6h1.0v1.0h-1.0zM760.0,1351.6h1.0v1.0h-1.0zM757.5,1347.5h1.0v1.0h-1.0zM797.4,1351.9h1.0v1.0h-1.0zM803.8,1353.0h1.0v1.0h-1.0zM828.1,1350.9h1.0v1.0h-1.0zM836.2,1354.3h1.0v1.0h-1.0zM835.1,1348.4h1.0v1.0h-1.0zM833.7,1348.6h1.0v1.0h-1.0zM831.8,1347.1h1.0v1.0h-1.0zM871.0,1353.1h1.0v1.0h-1.0zM875.3,1348.3h1.0v1.0h-1.0zM864.2,1347.9h1.0v1.0h-1.0zM872.9,1359.5h1.0v1.0h-1.0zM875.4,1341.0h1.0v1.0h-1.0zM903.1,1345.1h1.0v1.0h-1.0zM906.2,1339.4h1.0v1.0h-1.0zM903.7,1351.9h1.0v1.0h-1.0zM899.9,1341.6h1.0v1.0h-1.0zM912.0,1345.8h1.0v1.0h-1.0zM909.7,1346.8h1.0v1.0h-1.0zM902.8,1354.6h1.0v1.0h-1.0zM896.7,1345.4h1.0v1.0h-1.0zM945.1,1355.8h1.0v1.0h-1.0zM935.1,1339.7h1.0v1.0h-1.0zM937.4,1343.5h1.0v1.0h-1.0zM724.1,1381.5h1.0v1.0h-1.0zM722.0,1382.3h1.0v1.0h-1.0zM726.7,1387.5h1.0v1.0h-1.0zM717.7,1383.8h1.0v1.0h-1.0zM715.8,1385.7h1.0v1.0h-1.0zM729.8,1383.3h1.0v1.0h-1.0zM724.1,1384.0h1.0v1.0h-1.0zM714.7,1382.5h1.0v1.0h-1.0zM719.4,1387.2h1.0v1.0h-1.0zM721.2,1388.5h1.0v1.0h-1.0zM766.2,1390.3h1.0v1.0h-1.0zM762.3,1386.4h1.0v1.0h-1.0zM758.1,1384.5h1.0v1.0h-1.0zM765.9,1389.8h1.0v1.0h-1.0zM756.8,1398.2h1.0v1.0h-1.0zM756.7,1385.8h1.0v1.0h-1.0zM807.7,1385.4h1.0v1.0h-1.0zM793.9,1381.8h1.0v1.0h-1.0zM796.8,1391.5h1.0v1.0h-1.0zM804.9,1382.9h1.0v1.0h-1.0zM794.3,1387.8h1.0v1.0h-1.0zM833.9,1389.8h1.0v1.0h-1.0zM838.7,1374.1h1.0v1.0h-1.0zM839.6,1390.2h1.0v1.0h-1.0zM835.5,1386.3h1.0v1.0h-1.0zM829.0,1386.3h1.0v1.0h-1.0zM832.5,1389.1h1.0v1.0h-1.0zM834.9,1386.3h1.0v1.0h-1.0zM867.3,1384.3h1.0v1.0h-1.0zM874.0,1394.8h1.0v1.0h-1.0zM872.3,1377.4h1.0v1.0h-1.0zM871.0,1390.6h1.0v1.0h-1.0zM871.8,1385.3h1.0v1.0h-1.0zM871.4,1391.5h1.0v1.0h-1.0zM871.3,1376.1h1.0v1.0h-1.0zM870.8,1387.2h1.0v1.0h-1.0zM872.1,1384.7h1.0v1.0h-1.0zM869.0,1387.9h1.0v1.0h-1.0zM865.9,1382.1h1.0v1.0h-1.0zM900.9,1385.9h1.0v1.0h-1.0zM898.2,1391.2h1.0v1.0h-1.0zM907.5,1392.7h1.0v1.0h-1.0zM900.6,1389.7h1.0v1.0h-1.0zM905.3,1384.3h1.0v1.0h-1.0zM909.6,1394.5h1.0v1.0h-1.0zM908.1,1399.6h1.0v1.0h-1.0zM899.8,1387.6h1.0v1.0h-1.0zM906.2,1383.4h1.0v1.0h-1.0zM832.4,1421.7h1.0v1.0h-1.0zM837.3,1424.2h1.0v1.0h-1.0zM828.5,1421.9h1.0v1.0h-1.0z" fill="rgb(235,235,255)" opacity="0.40"/>
<path d="M842.1,1127.8h1.0v1.0h-1.0zM875.2,1135.3h1.0v1.0h-1.0zM877.2,1168.0h1.0v1.0h-1.0zM868.9,1155.5h1.0v1.0h-1.0zM870.1,1154.8h1.0v1.0h-1.0zM867.1,1175.3h1.0v1.0h-1.0zM870.5,1152.8h1.0v1.0h-1.0zM752.2,1198.7h1.0v1.0h-1.0zM764.0,1206.9h1.0v1.0h-1.0zM759.1,1212.0h1.0v1.0h-1.0zM759.0,1207.8h1.0v1.0h-1.0zM757.0,1193.1h1.0v1.0h-1.0zM760.0,1199.8h1.0v1.0h-1.0zM756.9,1205.9h1.0v1.0h-1.0zM752.4,1194.0h1.0v1.0h-1.0zM872.6,1205.8h1.0v1.0h-1.0zM719.0,1374.1h1.0v1.0h-1.0zM723.4,1390.6h1.0v1.0h-1.0zM864.2,1378.8h1.0v1.0h-1.0zM875.0,1388.0h1.0v1.0h-1.0zM867.3,1398.0h1.0v1.0h-1.0z" fill="rgb(235,235,255)" opacity="0.65"/>
<path d="M760.6,1124.5h1.4v1.4h-1.4zM757.3,1126.2h1.4v1.4h-1.4zM797.1,1123.3h1.4v1.4h-1.4zM794.7,1126.8h1.4v1.4h-1.4zM793.6,1125.0h1.4v1.4h-1.4zM834.5,1123.5h1.4v1.4h-1.4zM830.8,1127.1h1.4v1.4h-1.4zM830.6,1126.5h1.4v1.4h-1.4zM870.1,1121.9h1.4v1.4h-1.4zM867.6,1122.5h1.4v1.4h-1.4zM868.5,1125.8h1.4v1.4h-1.4zM720.9,1159.6h1.4v1.4h-1.4zM724.4,1160.4h1.4v1.4h-1.4zM717.7,1159.9h1.4v1.4h-1.4zM760.5,1157.9h1.4v1.4h-1.4zM760.0,1160.7h1.4v1.4h-1.4zM757.5,1161.2h1.4v1.4h-1.4zM795.0,1162.2h1.4v1.4h-1.4zM798.9,1159.7h1.4v1.4h-1.4zM797.1,1161.6h1.4v1.4h-1.4zM834.0,1162.0h1.4v1.4h-1.4zM831.5,1164.1h1.4v1.4h-1.4zM831.4,1157.6h1.4v1.4h-1.4zM870.5,1162.1h1.4v1.4h-1.4zM870.2,1159.3h1.4v1.4h-1.4zM868.6,1162.4h1.4v1.4h-1.4zM870.5,1158.3h1.4v1.4h-1.4zM902.9,1159.9h1.4v1.4h-1.4zM904.3,1161.4h1.4v1.4h-1.4zM902.7,1160.7h1.4v1.4h-1.4zM688.4,1198.4h1.4v1.4h-1.4zM683.3,1199.8h1.4v1.4h-1.4zM684.6,1197.7h1.4v1.4h-1.4zM720.7,1200.4h1.4v1.4h-1.4zM716.5,1201.4h1.4v1.4h-1.4zM721.9,1201.2h1.4v1.4h-1.4zM754.5,1200.1h1.4v1.4h-1.4zM754.5,1197.5h1.4v1.4h-1.4zM757.6,1197.0h1.4v1.4h-1.4zM757.9,1196.9h1.4v1.4h-1.4zM866.9,1199.2h1.4v1.4h-1.4zM869.0,1200.7h1.4v1.4h-1.4zM867.1,1196.6h1.4v1.4h-1.4zM905.4,1196.9h1.4v1.4h-1.4zM907.1,1201.9h1.4v1.4h-1.4zM906.7,1201.8h1.4v1.4h-1.4zM943.2,1199.0h1.4v1.4h-1.4zM941.7,1201.1h1.4v1.4h-1.4zM942.8,1199.2h1.4v1.4h-1.4zM685.6,1238.6h1.4v1.4h-1.4zM681.1,1236.0h1.4v1.4h-1.4zM679.1,1240.6h1.4v1.4h-1.4zM757.7,1235.4h1.4v1.4h-1.4zM757.9,1235.3h1.4v1.4h-1.4zM757.4,1236.6h1.4v1.4h-1.4zM683.1,1275.5h1.4v1.4h-1.4zM686.9,1274.4h1.4v1.4h-1.4zM721.7,1270.9h1.4v1.4h-1.4zM720.8,1272.4h1.4v1.4h-1.4zM717.3,1272.4h1.4v1.4h-1.4zM760.4,1276.5h1.4v1.4h-1.4zM753.9,1273.0h1.4v1.4h-1.4zM756.2,1275.1h1.4v1.4h-1.4zM684.1,1308.0h1.4v1.4h-1.4zM686.5,1309.7h1.4v1.4h-1.4zM682.2,1308.1h1.4v1.4h-1.4zM719.7,1310.8h1.4v1.4h-1.4zM718.8,1309.1h1.4v1.4h-1.4zM717.4,1307.8h1.4v1.4h-1.4zM758.2,1308.4h1.4v1.4h-1.4zM755.5,1311.7h1.4v1.4h-1.4zM868.3,1309.7h1.4v1.4h-1.4zM866.8,1310.1h1.4v1.4h-1.4zM940.2,1310.3h1.4v1.4h-1.4zM940.2,1309.7h1.4v1.4h-1.4zM719.3,1345.3h1.4v1.4h-1.4zM720.2,1347.0h1.4v1.4h-1.4zM717.0,1345.7h1.4v1.4h-1.4zM761.7,1350.0h1.4v1.4h-1.4zM757.4,1349.1h1.4v1.4h-1.4zM756.5,1347.1h1.4v1.4h-1.4zM794.3,1347.5h1.4v1.4h-1.4zM794.4,1347.8h1.4v1.4h-1.4zM829.7,1349.1h1.4v1.4h-1.4zM830.8,1350.4h1.4v1.4h-1.4zM828.6,1349.1h1.4v1.4h-1.4zM868.3,1344.5h1.4v1.4h-1.4zM865.1,1347.6h1.4v1.4h-1.4zM867.5,1347.7h1.4v1.4h-1.4zM908.5,1350.8h1.4v1.4h-1.4zM906.6,1350.4h1.4v1.4h-1.4zM904.7,1348.0h1.4v1.4h-1.4zM940.2,1347.3h1.4v1.4h-1.4zM945.5,1350.5h1.4v1.4h-1.4zM722.2,1385.0h1.4v1.4h-1.4zM722.3,1385.7h1.4v1.4h-1.4zM721.1,1385.9h1.4v1.4h-1.4zM760.1,1387.4h1.4v1.4h-1.4zM757.1,1383.4h1.4v1.4h-1.4zM757.5,1386.3h1.4v1.4h-1.4zM793.4,1385.2h1.4v1.4h-1.4zM795.5,1382.1h1.4v1.4h-1.4zM788.8,1386.2h1.4v1.4h-1.4zM831.3,1383.4h1.4v1.4h-1.4zM834.8,1383.7h1.4v1.4h-1.4zM830.8,1384.7h1.4v1.4h-1.4zM867.0,1382.2h1.4v1.4h-1.4zM872.7,1385.6h1.4v1.4h-1.4zM867.7,1386.6h1.4v1.4h-1.4zM869.2,1382.4h1.4v1.4h-1.4zM907.3,1381.3h1.4v1.4h-1.4zM905.6,1387.9h1.4v1.4h-1.4zM901.7,1380.4h1.4v1.4h-1.4zM831.7,1421.8h1.4v1.4h-1.4zM835.8,1422.7h1.4v1.4h-1.4z" fill="rgb(235,235,255)" opacity="1.00"/>
<circle cx="1048.5" cy="1142.2" r="5.6" fill="url(#gl)" opacity="0.45"/><ellipse cx="1050.0" cy="1140.8" rx="1.1" ry="1.8" transform="rotate(-30 1050.0 1140.8)" fill="#fff" opacity="0.72"/><circle cx="1085.5" cy="1141.4" r="5.6" fill="url(#gl)" opacity="0.45"/><ellipse cx="1087.0" cy="1140.0" rx="1.1" ry="1.8" transform="rotate(-30 1087.0 1140.0)" fill="#fff" opacity="0.72"/><circle cx="1122.2" cy="1140.6" r="6.4" fill="url(#gl)" opacity="0.45"/><ellipse cx="1123.9" cy="1139.0" rx="1.2" ry="2.1" transform="rotate(-30 1123.9 1139.0)" fill="#fff" opacity="0.83"/><ellipse cx="1121.8" cy="1140.5" rx="1.6" ry="1.0" transform="rotate(25 1121.8 1140.5)" fill="#fff" opacity="0.68"/><circle cx="1160.6" cy="1139.7" r="7.6" fill="url(#gl)" opacity="0.45"/><ellipse cx="1162.7" cy="1137.8" rx="1.5" ry="2.6" transform="rotate(-30 1162.7 1137.8)" fill="#fff" opacity="1.00"/><ellipse cx="1159.4" cy="1140.2" rx="2.0" ry="1.2" transform="rotate(25 1159.4 1140.2)" fill="#fff" opacity="0.84"/><circle cx="1197.3" cy="1138.9" r="6.0" fill="url(#gl)" opacity="0.45"/><ellipse cx="1198.9" cy="1137.4" rx="1.1" ry="2.0" transform="rotate(-30 1198.9 1137.4)" fill="#fff" opacity="0.78"/><circle cx="1012.5" cy="1180.0" r="6.8" fill="url(#gl)" opacity="0.45"/><ellipse cx="1014.3" cy="1178.3" rx="1.3" ry="2.3" transform="rotate(-30 1014.3 1178.3)" fill="#fff" opacity="0.89"/><ellipse cx="1011.8" cy="1180.1" rx="1.7" ry="1.0" transform="rotate(25 1011.8 1180.1)" fill="#fff" opacity="0.73"/><circle cx="1048.5" cy="1179.2" r="7.2" fill="url(#gl)" opacity="0.45"/><ellipse cx="1050.5" cy="1177.4" rx="1.4" ry="2.4" transform="rotate(-30 1050.5 1177.4)" fill="#fff" opacity="0.94"/><ellipse cx="1047.6" cy="1179.5" rx="1.9" ry="1.1" transform="rotate(25 1047.6 1179.5)" fill="#fff" opacity="0.79"/><circle cx="1085.5" cy="1178.4" r="6.4" fill="url(#gl)" opacity="0.45"/><ellipse cx="1087.2" cy="1176.8" rx="1.2" ry="2.1" transform="rotate(-30 1087.2 1176.8)" fill="#fff" opacity="0.83"/><ellipse cx="1085.1" cy="1178.4" rx="1.6" ry="1.0" transform="rotate(25 1085.1 1178.4)" fill="#fff" opacity="0.68"/><circle cx="1122.2" cy="1177.6" r="6.8" fill="url(#gl)" opacity="0.45"/><ellipse cx="1124.0" cy="1175.9" rx="1.3" ry="2.3" transform="rotate(-30 1124.0 1175.9)" fill="#fff" opacity="0.89"/><ellipse cx="1121.5" cy="1177.7" rx="1.7" ry="1.0" transform="rotate(25 1121.5 1177.7)" fill="#fff" opacity="0.73"/><circle cx="1160.6" cy="1176.7" r="6.0" fill="url(#gl)" opacity="0.45"/><ellipse cx="1162.2" cy="1175.2" rx="1.1" ry="2.0" transform="rotate(-30 1162.2 1175.2)" fill="#fff" opacity="0.78"/><circle cx="1197.3" cy="1175.9" r="8.0" fill="url(#gl)" opacity="0.45"/><ellipse cx="1199.5" cy="1173.9" rx="1.6" ry="2.7" transform="rotate(-30 1199.5 1173.9)" fill="#fff" opacity="1.00"/><ellipse cx="1195.9" cy="1176.5" rx="2.1" ry="1.3" transform="rotate(25 1195.9 1176.5)" fill="#fff" opacity="0.90"/><circle cx="1235.0" cy="1175.1" r="8.0" fill="url(#gl)" opacity="0.45"/><ellipse cx="1237.2" cy="1173.1" rx="1.6" ry="2.7" transform="rotate(-30 1237.2 1173.1)" fill="#fff" opacity="1.00"/><ellipse cx="1233.6" cy="1175.7" rx="2.1" ry="1.3" transform="rotate(25 1233.6 1175.7)" fill="#fff" opacity="0.90"/><circle cx="1012.5" cy="1216.0" r="6.0" fill="url(#gl)" opacity="0.45"/><ellipse cx="1014.1" cy="1214.5" rx="1.1" ry="2.0" transform="rotate(-30 1014.1 1214.5)" fill="#fff" opacity="0.78"/><circle cx="1048.5" cy="1215.2" r="7.2" fill="url(#gl)" opacity="0.45"/><ellipse cx="1050.5" cy="1213.4" rx="1.4" ry="2.4" transform="rotate(-30 1050.5 1213.4)" fill="#fff" opacity="0.94"/><ellipse cx="1047.6" cy="1215.5" rx="1.9" ry="1.1" transform="rotate(25 1047.6 1215.5)" fill="#fff" opacity="0.79"/><circle cx="1085.5" cy="1214.4" r="7.2" fill="url(#gl)" opacity="0.45"/><ellipse cx="1087.5" cy="1212.6" rx="1.4" ry="2.4" transform="rotate(-30 1087.5 1212.6)" fill="#fff" opacity="0.94"/><ellipse cx="1084.6" cy="1214.7" rx="1.9" ry="1.1" transform="rotate(25 1084.6 1214.7)" fill="#fff" opacity="0.79"/><circle cx="1197.3" cy="1211.9" r="8.0" fill="url(#gl)" opacity="0.45"/><ellipse cx="1199.5" cy="1209.9" rx="1.6" ry="2.7" transform="rotate(-30 1199.5 1209.9)" fill="#fff" opacity="1.00"/><ellipse cx="1195.9" cy="1212.5" rx="2.1" ry="1.3" transform="rotate(25 1195.9 1212.5)" fill="#fff" opacity="0.90"/><circle cx="1235.0" cy="1211.1" r="6.0" fill="url(#gl)" opacity="0.45"/><ellipse cx="1236.6" cy="1209.6" rx="1.1" ry="2.0" transform="rotate(-30 1236.6 1209.6)" fill="#fff" opacity="0.78"/><circle cx="1273.4" cy="1210.3" r="6.8" fill="url(#gl)" opacity="0.45"/><ellipse cx="1275.2" cy="1208.6" rx="1.3" ry="2.3" transform="rotate(-30 1275.2 1208.6)" fill="#fff" opacity="0.89"/><ellipse cx="1272.7" cy="1210.4" rx="1.7" ry="1.0" transform="rotate(25 1272.7 1210.4)" fill="#fff" opacity="0.73"/><circle cx="1012.5" cy="1253.0" r="7.2" fill="url(#gl)" opacity="0.45"/><ellipse cx="1014.5" cy="1251.2" rx="1.4" ry="2.4" transform="rotate(-30 1014.5 1251.2)" fill="#fff" opacity="0.94"/><ellipse cx="1011.6" cy="1253.3" rx="1.9" ry="1.1" transform="rotate(25 1011.6 1253.3)" fill="#fff" opacity="0.79"/><circle cx="1048.5" cy="1252.2" r="5.6" fill="url(#gl)" opacity="0.45"/><ellipse cx="1050.0" cy="1250.8" rx="1.1" ry="1.8" transform="rotate(-30 1050.0 1250.8)" fill="#fff" opacity="0.72"/><circle cx="1085.5" cy="1251.4" r="7.2" fill="url(#gl)" opacity="0.45"/><ellipse cx="1087.5" cy="1249.6" rx="1.4" ry="2.4" transform="rotate(-30 1087.5 1249.6)" fill="#fff" opacity="0.94"/><ellipse cx="1084.6" cy="1251.7" rx="1.9" ry="1.1" transform="rotate(25 1084.6 1251.7)" fill="#fff" opacity="0.79"/><circle cx="1197.3" cy="1248.9" r="6.0" fill="url(#gl)" opacity="0.45"/><ellipse cx="1198.9" cy="1247.4" rx="1.1" ry="2.0" transform="rotate(-30 1198.9 1247.4)" fill="#fff" opacity="0.78"/><circle cx="1235.0" cy="1248.1" r="6.8" fill="url(#gl)" opacity="0.45"/><ellipse cx="1236.8" cy="1246.4" rx="1.3" ry="2.3" transform="rotate(-30 1236.8 1246.4)" fill="#fff" opacity="0.89"/><ellipse cx="1234.3" cy="1248.2" rx="1.7" ry="1.0" transform="rotate(25 1234.3 1248.2)" fill="#fff" opacity="0.73"/><circle cx="1273.4" cy="1247.3" r="6.4" fill="url(#gl)" opacity="0.45"/><ellipse cx="1275.1" cy="1245.7" rx="1.2" ry="2.1" transform="rotate(-30 1275.1 1245.7)" fill="#fff" opacity="0.83"/><ellipse cx="1273.0" cy="1247.2" rx="1.6" ry="1.0" transform="rotate(25 1273.0 1247.2)" fill="#fff" opacity="0.68"/><circle cx="1012.5" cy="1291.0" r="6.4" fill="url(#gl)" opacity="0.45"/><ellipse cx="1014.2" cy="1289.4" rx="1.2" ry="2.1" transform="rotate(-30 1014.2 1289.4)" fill="#fff" opacity="0.83"/><ellipse cx="1012.1" cy="1291.0" rx="1.6" ry="1.0" transform="rotate(25 1012.1 1291.0)" fill="#fff" opacity="0.68"/><circle cx="1048.5" cy="1290.2" r="6.0" fill="url(#gl)" opacity="0.45"/><ellipse cx="1050.1" cy="1288.7" rx="1.1" ry="2.0" transform="rotate(-30 1050.1 1288.7)" fill="#fff" opacity="0.78"/><circle cx="1085.5" cy="1289.4" r="7.2" fill="url(#gl)" opacity="0.45"/><ellipse cx="1087.5" cy="1287.6" rx="1.4" ry="2.4" transform="rotate(-30 1087.5 1287.6)" fill="#fff" opacity="0.94"/><ellipse cx="1084.6" cy="1289.7" rx="1.9" ry="1.1" transform="rotate(25 1084.6 1289.7)" fill="#fff" opacity="0.79"/><circle cx="1197.3" cy="1286.9" r="6.0" fill="url(#gl)" opacity="0.45"/><ellipse cx="1198.9" cy="1285.4" rx="1.1" ry="2.0" transform="rotate(-30 1198.9 1285.4)" fill="#fff" opacity="0.78"/><circle cx="1235.0" cy="1286.1" r="6.0" fill="url(#gl)" opacity="0.45"/><ellipse cx="1236.6" cy="1284.6" rx="1.1" ry="2.0" transform="rotate(-30 1236.6 1284.6)" fill="#fff" opacity="0.78"/><circle cx="1273.4" cy="1285.3" r="6.4" fill="url(#gl)" opacity="0.45"/><ellipse cx="1275.1" cy="1283.7" rx="1.2" ry="2.1" transform="rotate(-30 1275.1 1283.7)" fill="#fff" opacity="0.83"/><ellipse cx="1273.0" cy="1285.2" rx="1.6" ry="1.0" transform="rotate(25 1273.0 1285.2)" fill="#fff" opacity="0.68"/><circle cx="1012.5" cy="1326.0" r="6.8" fill="url(#gl)" opacity="0.45"/><ellipse cx="1014.3" cy="1324.3" rx="1.3" ry="2.3" transform="rotate(-30 1014.3 1324.3)" fill="#fff" opacity="0.89"/><ellipse cx="1011.8" cy="1326.1" rx="1.7" ry="1.0" transform="rotate(25 1011.8 1326.1)" fill="#fff" opacity="0.73"/><circle cx="1048.5" cy="1325.2" r="5.2" fill="url(#gl)" opacity="0.45"/><ellipse cx="1049.9" cy="1323.9" rx="1.0" ry="1.6" transform="rotate(-30 1049.9 1323.9)" fill="#fff" opacity="0.67"/><circle cx="1085.5" cy="1324.4" r="5.2" fill="url(#gl)" opacity="0.45"/><ellipse cx="1086.9" cy="1323.1" rx="1.0" ry="1.6" transform="rotate(-30 1086.9 1323.1)" fill="#fff" opacity="0.67"/><circle cx="1197.3" cy="1321.9" r="7.6" fill="url(#gl)" opacity="0.45"/><ellipse cx="1199.4" cy="1320.0" rx="1.5" ry="2.6" transform="rotate(-30 1199.4 1320.0)" fill="#fff" opacity="1.00"/><ellipse cx="1196.1" cy="1322.4" rx="2.0" ry="1.2" transform="rotate(25 1196.1 1322.4)" fill="#fff" opacity="0.84"/><circle cx="1235.0" cy="1321.1" r="6.8" fill="url(#gl)" opacity="0.45"/><ellipse cx="1236.8" cy="1319.4" rx="1.3" ry="2.3" transform="rotate(-30 1236.8 1319.4)" fill="#fff" opacity="0.89"/><ellipse cx="1234.3" cy="1321.2" rx="1.7" ry="1.0" transform="rotate(25 1234.3 1321.2)" fill="#fff" opacity="0.73"/><circle cx="1273.4" cy="1320.3" r="8.0" fill="url(#gl)" opacity="0.45"/><ellipse cx="1275.6" cy="1318.3" rx="1.6" ry="2.7" transform="rotate(-30 1275.6 1318.3)" fill="#fff" opacity="1.00"/><ellipse cx="1272.0" cy="1320.9" rx="2.1" ry="1.3" transform="rotate(25 1272.0 1320.9)" fill="#fff" opacity="0.90"/><circle cx="1012.5" cy="1365.0" r="6.4" fill="url(#gl)" opacity="0.45"/><ellipse cx="1014.2" cy="1363.4" rx="1.2" ry="2.1" transform="rotate(-30 1014.2 1363.4)" fill="#fff" opacity="0.83"/><ellipse cx="1012.1" cy="1365.0" rx="1.6" ry="1.0" transform="rotate(25 1012.1 1365.0)" fill="#fff" opacity="0.68"/><circle cx="1048.5" cy="1364.2" r="5.2" fill="url(#gl)" opacity="0.45"/><ellipse cx="1049.9" cy="1362.9" rx="1.0" ry="1.6" transform="rotate(-30 1049.9 1362.9)" fill="#fff" opacity="0.67"/><circle cx="1085.5" cy="1363.4" r="6.0" fill="url(#gl)" opacity="0.45"/><ellipse cx="1087.1" cy="1361.9" rx="1.1" ry="2.0" transform="rotate(-30 1087.1 1361.9)" fill="#fff" opacity="0.78"/><circle cx="1122.2" cy="1362.6" r="6.0" fill="url(#gl)" opacity="0.45"/><ellipse cx="1123.8" cy="1361.1" rx="1.1" ry="2.0" transform="rotate(-30 1123.8 1361.1)" fill="#fff" opacity="0.78"/><circle cx="1160.6" cy="1361.7" r="6.4" fill="url(#gl)" opacity="0.45"/><ellipse cx="1162.3" cy="1360.1" rx="1.2" ry="2.1" transform="rotate(-30 1162.3 1360.1)" fill="#fff" opacity="0.83"/><ellipse cx="1160.2" cy="1361.7" rx="1.6" ry="1.0" transform="rotate(25 1160.2 1361.7)" fill="#fff" opacity="0.68"/><circle cx="1197.3" cy="1360.9" r="7.2" fill="url(#gl)" opacity="0.45"/><ellipse cx="1199.3" cy="1359.1" rx="1.4" ry="2.4" transform="rotate(-30 1199.3 1359.1)" fill="#fff" opacity="0.94"/><ellipse cx="1196.4" cy="1361.2" rx="1.9" ry="1.1" transform="rotate(25 1196.4 1361.2)" fill="#fff" opacity="0.79"/><circle cx="1235.0" cy="1360.1" r="7.2" fill="url(#gl)" opacity="0.45"/><ellipse cx="1237.0" cy="1358.3" rx="1.4" ry="2.4" transform="rotate(-30 1237.0 1358.3)" fill="#fff" opacity="0.94"/><ellipse cx="1234.1" cy="1360.4" rx="1.9" ry="1.1" transform="rotate(25 1234.1 1360.4)" fill="#fff" opacity="0.79"/><circle cx="1012.5" cy="1402.0" r="6.0" fill="url(#gl)" opacity="0.45"/><ellipse cx="1014.1" cy="1400.5" rx="1.1" ry="2.0" transform="rotate(-30 1014.1 1400.5)" fill="#fff" opacity="0.78"/><circle cx="1048.5" cy="1401.2" r="5.6" fill="url(#gl)" opacity="0.45"/><ellipse cx="1050.0" cy="1399.8" rx="1.1" ry="1.8" transform="rotate(-30 1050.0 1399.8)" fill="#fff" opacity="0.72"/><circle cx="1085.5" cy="1400.4" r="6.0" fill="url(#gl)" opacity="0.45"/><ellipse cx="1087.1" cy="1398.9" rx="1.1" ry="2.0" transform="rotate(-30 1087.1 1398.9)" fill="#fff" opacity="0.78"/><circle cx="1122.2" cy="1399.6" r="6.8" fill="url(#gl)" opacity="0.45"/><ellipse cx="1124.0" cy="1397.9" rx="1.3" ry="2.3" transform="rotate(-30 1124.0 1397.9)" fill="#fff" opacity="0.89"/><ellipse cx="1121.5" cy="1399.7" rx="1.7" ry="1.0" transform="rotate(25 1121.5 1399.7)" fill="#fff" opacity="0.73"/><circle cx="1160.6" cy="1398.7" r="6.4" fill="url(#gl)" opacity="0.45"/><ellipse cx="1162.3" cy="1397.1" rx="1.2" ry="2.1" transform="rotate(-30 1162.3 1397.1)" fill="#fff" opacity="0.83"/><ellipse cx="1160.2" cy="1398.7" rx="1.6" ry="1.0" transform="rotate(25 1160.2 1398.7)" fill="#fff" opacity="0.68"/><circle cx="1197.3" cy="1397.9" r="6.8" fill="url(#gl)" opacity="0.45"/><ellipse cx="1199.1" cy="1396.2" rx="1.3" ry="2.3" transform="rotate(-30 1199.1 1396.2)" fill="#fff" opacity="0.89"/><ellipse cx="1196.6" cy="1398.1" rx="1.7" ry="1.0" transform="rotate(25 1196.6 1398.1)" fill="#fff" opacity="0.73"/><circle cx="1235.0" cy="1397.1" r="7.2" fill="url(#gl)" opacity="0.45"/><ellipse cx="1237.0" cy="1395.3" rx="1.4" ry="2.4" transform="rotate(-30 1237.0 1395.3)" fill="#fff" opacity="0.94"/><ellipse cx="1234.1" cy="1397.4" rx="1.9" ry="1.1" transform="rotate(25 1234.1 1397.4)" fill="#fff" opacity="0.79"/>
<path d="M1011.7,1142.9h1.0v1.0h-1.0zM1015.4,1145.6h1.0v1.0h-1.0zM1018.4,1139.3h1.0v1.0h-1.0zM1009.8,1144.0h1.0v1.0h-1.0zM1014.9,1145.3h1.0v1.0h-1.0zM1014.7,1137.8h1.0v1.0h-1.0zM1051.3,1148.9h1.0v1.0h-1.0zM1044.5,1141.1h1.0v1.0h-1.0zM1039.5,1143.8h1.0v1.0h-1.0zM1045.3,1145.7h1.0v1.0h-1.0zM1054.6,1137.9h1.0v1.0h-1.0zM1046.3,1144.7h1.0v1.0h-1.0zM1045.8,1137.6h1.0v1.0h-1.0zM1048.3,1141.8h1.0v1.0h-1.0zM1083.4,1135.6h1.0v1.0h-1.0zM1086.8,1150.0h1.0v1.0h-1.0zM1080.4,1136.6h1.0v1.0h-1.0zM1086.5,1143.9h1.0v1.0h-1.0zM1088.3,1139.2h1.0v1.0h-1.0zM1086.1,1140.4h1.0v1.0h-1.0zM1090.0,1141.3h1.0v1.0h-1.0zM1087.6,1138.9h1.0v1.0h-1.0zM1128.7,1133.4h1.0v1.0h-1.0zM1121.9,1140.0h1.0v1.0h-1.0zM1113.3,1133.1h1.0v1.0h-1.0zM1120.5,1142.6h1.0v1.0h-1.0zM1125.6,1136.7h1.0v1.0h-1.0zM1122.6,1142.9h1.0v1.0h-1.0zM1120.6,1145.1h1.0v1.0h-1.0zM1121.8,1143.6h1.0v1.0h-1.0zM1125.0,1139.4h1.0v1.0h-1.0zM1120.9,1141.3h1.0v1.0h-1.0zM1157.2,1138.6h1.0v1.0h-1.0zM1163.0,1140.1h1.0v1.0h-1.0zM1162.5,1141.7h1.0v1.0h-1.0zM1163.8,1131.9h1.0v1.0h-1.0zM1165.3,1142.2h1.0v1.0h-1.0zM1147.6,1142.2h1.0v1.0h-1.0zM1159.0,1144.3h1.0v1.0h-1.0zM1189.0,1135.8h1.0v1.0h-1.0zM1196.8,1138.2h1.0v1.0h-1.0zM1195.2,1136.1h1.0v1.0h-1.0zM1202.4,1138.4h1.0v1.0h-1.0zM1194.5,1137.7h1.0v1.0h-1.0zM1196.7,1139.5h1.0v1.0h-1.0zM1195.0,1140.3h1.0v1.0h-1.0zM1205.8,1143.1h1.0v1.0h-1.0zM1196.2,1143.8h1.0v1.0h-1.0zM1006.4,1185.1h1.0v1.0h-1.0zM1019.1,1176.5h1.0v1.0h-1.0zM1013.0,1178.8h1.0v1.0h-1.0zM1010.0,1174.0h1.0v1.0h-1.0zM1011.8,1174.5h1.0v1.0h-1.0zM1015.3,1184.1h1.0v1.0h-1.0zM1018.6,1183.7h1.0v1.0h-1.0zM1021.3,1172.7h1.0v1.0h-1.0zM1044.2,1176.2h1.0v1.0h-1.0zM1043.8,1177.8h1.0v1.0h-1.0zM1047.6,1175.9h1.0v1.0h-1.0zM1049.9,1180.5h1.0v1.0h-1.0zM1039.8,1182.6h1.0v1.0h-1.0zM1044.9,1179.6h1.0v1.0h-1.0zM1046.4,1178.1h1.0v1.0h-1.0zM1078.9,1174.8h1.0v1.0h-1.0zM1083.8,1175.7h1.0v1.0h-1.0zM1085.7,1178.2h1.0v1.0h-1.0zM1083.7,1175.9h1.0v1.0h-1.0zM1083.2,1185.3h1.0v1.0h-1.0zM1093.1,1182.9h1.0v1.0h-1.0zM1088.5,1184.2h1.0v1.0h-1.0zM1081.9,1175.6h1.0v1.0h-1.0zM1091.7,1176.6h1.0v1.0h-1.0zM1090.4,1174.8h1.0v1.0h-1.0zM1122.6,1174.9h1.0v1.0h-1.0zM1117.5,1177.0h1.0v1.0h-1.0zM1124.4,1177.4h1.0v1.0h-1.0zM1122.8,1176.8h1.0v1.0h-1.0zM1119.0,1177.0h1.0v1.0h-1.0zM1128.7,1178.6h1.0v1.0h-1.0zM1121.7,1179.6h1.0v1.0h-1.0zM1123.3,1183.1h1.0v1.0h-1.0zM1161.8,1179.9h1.0v1.0h-1.0zM1164.9,1178.5h1.0v1.0h-1.0zM1160.0,1179.1h1.0v1.0h-1.0zM1161.1,1176.8h1.0v1.0h-1.0zM1158.4,1178.9h1.0v1.0h-1.0zM1155.9,1179.5h1.0v1.0h-1.0zM1158.3,1167.7h1.0v1.0h-1.0zM1158.8,1171.9h1.0v1.0h-1.0zM1163.1,1172.5h1.0v1.0h-1.0zM1205.0,1172.2h1.0v1.0h-1.0zM1194.0,1174.8h1.0v1.0h-1.0zM1196.8,1190.3h1.0v1.0h-1.0zM1195.3,1172.2h1.0v1.0h-1.0zM1195.8,1169.3h1.0v1.0h-1.0zM1200.1,1166.2h1.0v1.0h-1.0zM1201.2,1167.2h1.0v1.0h-1.0zM1241.6,1168.5h1.0v1.0h-1.0zM1236.8,1173.8h1.0v1.0h-1.0zM1236.1,1172.2h1.0v1.0h-1.0zM1237.3,1166.0h1.0v1.0h-1.0zM1231.8,1171.8h1.0v1.0h-1.0zM1229.5,1172.4h1.0v1.0h-1.0zM1240.3,1183.5h1.0v1.0h-1.0zM1246.7,1172.4h1.0v1.0h-1.0zM1013.7,1216.4h1.0v1.0h-1.0zM1006.9,1216.3h1.0v1.0h-1.0zM1011.0,1215.0h1.0v1.0h-1.0zM1012.2,1213.1h1.0v1.0h-1.0zM1005.7,1206.8h1.0v1.0h-1.0zM1017.2,1211.7h1.0v1.0h-1.0zM1015.4,1220.4h1.0v1.0h-1.0zM1013.0,1215.1h1.0v1.0h-1.0zM1018.5,1218.9h1.0v1.0h-1.0zM1050.8,1207.5h1.0v1.0h-1.0zM1044.8,1210.8h1.0v1.0h-1.0zM1044.4,1212.4h1.0v1.0h-1.0zM1055.9,1211.5h1.0v1.0h-1.0zM1051.1,1213.6h1.0v1.0h-1.0zM1057.1,1206.0h1.0v1.0h-1.0zM1044.8,1212.5h1.0v1.0h-1.0zM1045.0,1219.2h1.0v1.0h-1.0zM1089.6,1217.9h1.0v1.0h-1.0zM1082.2,1219.1h1.0v1.0h-1.0zM1089.5,1207.8h1.0v1.0h-1.0zM1081.6,1213.4h1.0v1.0h-1.0zM1087.2,1213.5h1.0v1.0h-1.0zM1088.1,1214.7h1.0v1.0h-1.0zM1202.7,1213.5h1.0v1.0h-1.0zM1198.5,1216.4h1.0v1.0h-1.0zM1195.5,1215.8h1.0v1.0h-1.0zM1201.5,1214.9h1.0v1.0h-1.0zM1200.9,1210.4h1.0v1.0h-1.0zM1205.7,1215.5h1.0v1.0h-1.0zM1242.7,1214.9h1.0v1.0h-1.0zM1235.2,1218.8h1.0v1.0h-1.0zM1231.7,1211.5h1.0v1.0h-1.0zM1235.0,1216.1h1.0v1.0h-1.0zM1237.0,1211.3h1.0v1.0h-1.0zM1230.5,1212.7h1.0v1.0h-1.0zM1234.9,1213.7h1.0v1.0h-1.0zM1235.1,1204.6h1.0v1.0h-1.0zM1232.6,1209.2h1.0v1.0h-1.0zM1268.3,1204.1h1.0v1.0h-1.0zM1267.3,1207.0h1.0v1.0h-1.0zM1273.6,1206.8h1.0v1.0h-1.0zM1271.2,1215.1h1.0v1.0h-1.0zM1265.9,1215.5h1.0v1.0h-1.0zM1275.5,1215.4h1.0v1.0h-1.0zM1270.8,1204.1h1.0v1.0h-1.0zM1271.4,1208.7h1.0v1.0h-1.0zM1273.3,1210.7h1.0v1.0h-1.0zM1278.3,1209.5h1.0v1.0h-1.0zM1272.5,1209.4h1.0v1.0h-1.0zM1019.2,1252.5h1.0v1.0h-1.0zM1016.0,1248.0h1.0v1.0h-1.0zM1022.1,1263.0h1.0v1.0h-1.0zM1006.6,1255.3h1.0v1.0h-1.0zM1014.3,1245.5h1.0v1.0h-1.0zM1013.2,1249.9h1.0v1.0h-1.0zM1053.4,1254.1h1.0v1.0h-1.0zM1052.1,1259.7h1.0v1.0h-1.0zM1050.1,1252.4h1.0v1.0h-1.0zM1051.2,1259.3h1.0v1.0h-1.0zM1054.6,1255.7h1.0v1.0h-1.0zM1048.7,1252.5h1.0v1.0h-1.0zM1044.2,1253.3h1.0v1.0h-1.0zM1048.7,1252.3h1.0v1.0h-1.0zM1079.2,1247.2h1.0v1.0h-1.0zM1088.8,1250.8h1.0v1.0h-1.0zM1084.4,1255.6h1.0v1.0h-1.0zM1090.0,1251.3h1.0v1.0h-1.0zM1093.1,1256.0h1.0v1.0h-1.0zM1087.1,1248.4h1.0v1.0h-1.0zM1199.0,1242.0h1.0v1.0h-1.0zM1202.0,1252.7h1.0v1.0h-1.0zM1190.5,1249.5h1.0v1.0h-1.0zM1193.3,1252.9h1.0v1.0h-1.0zM1205.6,1248.4h1.0v1.0h-1.0zM1193.0,1251.2h1.0v1.0h-1.0zM1200.7,1250.8h1.0v1.0h-1.0zM1191.5,1254.7h1.0v1.0h-1.0zM1188.4,1248.1h1.0v1.0h-1.0zM1233.5,1252.0h1.0v1.0h-1.0zM1239.2,1244.3h1.0v1.0h-1.0zM1227.3,1242.7h1.0v1.0h-1.0zM1230.4,1246.6h1.0v1.0h-1.0zM1241.2,1246.9h1.0v1.0h-1.0zM1240.3,1251.5h1.0v1.0h-1.0zM1232.0,1248.6h1.0v1.0h-1.0zM1235.6,1251.2h1.0v1.0h-1.0zM1237.4,1250.4h1.0v1.0h-1.0zM1241.8,1253.2h1.0v1.0h-1.0zM1275.1,1254.3h1.0v1.0h-1.0zM1273.3,1247.4h1.0v1.0h-1.0zM1277.9,1245.4h1.0v1.0h-1.0zM1271.9,1246.3h1.0v1.0h-1.0zM1277.2,1242.7h1.0v1.0h-1.0zM1275.7,1244.6h1.0v1.0h-1.0zM1275.2,1239.2h1.0v1.0h-1.0zM1276.3,1246.9h1.0v1.0h-1.0zM1268.0,1246.8h1.0v1.0h-1.0zM1266.2,1248.7h1.0v1.0h-1.0zM1006.7,1293.5h1.0v1.0h-1.0zM1012.4,1294.9h1.0v1.0h-1.0zM1011.9,1296.0h1.0v1.0h-1.0zM1013.3,1298.9h1.0v1.0h-1.0zM1008.6,1291.3h1.0v1.0h-1.0zM1004.8,1288.5h1.0v1.0h-1.0zM1012.3,1298.9h1.0v1.0h-1.0zM1005.9,1288.2h1.0v1.0h-1.0zM1011.0,1296.5h1.0v1.0h-1.0zM1008.8,1284.5h1.0v1.0h-1.0zM1048.8,1288.2h1.0v1.0h-1.0zM1045.7,1285.3h1.0v1.0h-1.0zM1047.2,1290.7h1.0v1.0h-1.0zM1053.2,1291.7h1.0v1.0h-1.0zM1057.0,1292.2h1.0v1.0h-1.0zM1044.5,1295.8h1.0v1.0h-1.0zM1050.5,1300.2h1.0v1.0h-1.0zM1050.3,1286.5h1.0v1.0h-1.0zM1049.8,1289.8h1.0v1.0h-1.0zM1075.4,1282.9h1.0v1.0h-1.0zM1085.3,1291.9h1.0v1.0h-1.0zM1086.8,1292.2h1.0v1.0h-1.0zM1075.4,1289.2h1.0v1.0h-1.0zM1088.1,1287.9h1.0v1.0h-1.0zM1080.4,1290.2h1.0v1.0h-1.0zM1084.5,1287.0h1.0v1.0h-1.0zM1087.6,1285.2h1.0v1.0h-1.0zM1085.4,1295.7h1.0v1.0h-1.0zM1197.1,1281.9h1.0v1.0h-1.0zM1196.4,1288.1h1.0v1.0h-1.0zM1189.9,1288.8h1.0v1.0h-1.0zM1196.9,1289.1h1.0v1.0h-1.0zM1195.3,1282.3h1.0v1.0h-1.0zM1199.5,1289.2h1.0v1.0h-1.0zM1202.8,1298.0h1.0v1.0h-1.0zM1197.4,1287.2h1.0v1.0h-1.0zM1203.0,1288.5h1.0v1.0h-1.0zM1230.5,1288.9h1.0v1.0h-1.0zM1235.0,1278.4h1.0v1.0h-1.0zM1233.5,1293.6h1.0v1.0h-1.0zM1239.4,1291.8h1.0v1.0h-1.0zM1237.6,1285.9h1.0v1.0h-1.0zM1237.0,1286.2h1.0v1.0h-1.0zM1241.5,1284.4h1.0v1.0h-1.0zM1231.0,1289.2h1.0v1.0h-1.0zM1237.4,1287.0h1.0v1.0h-1.0zM1284.5,1287.9h1.0v1.0h-1.0zM1269.0,1286.0h1.0v1.0h-1.0zM1275.6,1281.5h1.0v1.0h-1.0zM1276.7,1284.4h1.0v1.0h-1.0zM1276.8,1284.3h1.0v1.0h-1.0zM1267.1,1285.2h1.0v1.0h-1.0zM1268.5,1289.0h1.0v1.0h-1.0zM1277.6,1284.5h1.0v1.0h-1.0zM1274.0,1281.7h1.0v1.0h-1.0zM1272.6,1278.0h1.0v1.0h-1.0zM1009.4,1330.9h1.0v1.0h-1.0zM1006.9,1327.0h1.0v1.0h-1.0zM1014.4,1328.4h1.0v1.0h-1.0zM1013.8,1330.6h1.0v1.0h-1.0zM1012.1,1327.8h1.0v1.0h-1.0zM1014.6,1329.1h1.0v1.0h-1.0zM1010.6,1329.2h1.0v1.0h-1.0zM1005.2,1325.7h1.0v1.0h-1.0zM1018.6,1325.4h1.0v1.0h-1.0zM1046.6,1327.4h1.0v1.0h-1.0zM1044.1,1326.0h1.0v1.0h-1.0zM1049.3,1325.6h1.0v1.0h-1.0zM1044.8,1329.7h1.0v1.0h-1.0zM1048.1,1327.4h1.0v1.0h-1.0zM1047.1,1329.2h1.0v1.0h-1.0zM1045.1,1323.3h1.0v1.0h-1.0zM1088.4,1332.1h1.0v1.0h-1.0zM1084.3,1327.3h1.0v1.0h-1.0zM1083.5,1327.3h1.0v1.0h-1.0zM1088.9,1324.7h1.0v1.0h-1.0zM1083.0,1322.3h1.0v1.0h-1.0zM1083.7,1325.3h1.0v1.0h-1.0zM1087.0,1329.8h1.0v1.0h-1.0zM1191.2,1330.7h1.0v1.0h-1.0zM1184.1,1320.4h1.0v1.0h-1.0zM1195.7,1314.0h1.0v1.0h-1.0zM1199.9,1327.4h1.0v1.0h-1.0zM1204.1,1320.7h1.0v1.0h-1.0zM1194.0,1319.4h1.0v1.0h-1.0zM1194.1,1316.9h1.0v1.0h-1.0zM1243.2,1319.8h1.0v1.0h-1.0zM1233.0,1319.0h1.0v1.0h-1.0zM1237.6,1311.3h1.0v1.0h-1.0zM1236.3,1314.3h1.0v1.0h-1.0zM1237.5,1324.4h1.0v1.0h-1.0zM1235.8,1323.7h1.0v1.0h-1.0zM1236.7,1324.1h1.0v1.0h-1.0zM1235.5,1323.1h1.0v1.0h-1.0zM1233.7,1323.2h1.0v1.0h-1.0zM1233.6,1322.1h1.0v1.0h-1.0zM1241.9,1323.1h1.0v1.0h-1.0zM1281.1,1319.0h1.0v1.0h-1.0zM1276.0,1315.7h1.0v1.0h-1.0zM1270.2,1317.9h1.0v1.0h-1.0zM1274.6,1331.3h1.0v1.0h-1.0zM1279.3,1324.8h1.0v1.0h-1.0zM1272.7,1324.5h1.0v1.0h-1.0zM1008.1,1363.7h1.0v1.0h-1.0zM1011.2,1367.3h1.0v1.0h-1.0zM1015.6,1353.9h1.0v1.0h-1.0zM1010.3,1363.3h1.0v1.0h-1.0zM1016.8,1372.1h1.0v1.0h-1.0zM1009.9,1367.6h1.0v1.0h-1.0zM1010.9,1365.7h1.0v1.0h-1.0zM1010.6,1366.0h1.0v1.0h-1.0zM1013.2,1367.6h1.0v1.0h-1.0zM1012.5,1368.8h1.0v1.0h-1.0zM1052.9,1362.2h1.0v1.0h-1.0zM1052.5,1357.0h1.0v1.0h-1.0zM1054.9,1365.2h1.0v1.0h-1.0zM1047.1,1358.6h1.0v1.0h-1.0zM1050.7,1372.2h1.0v1.0h-1.0zM1048.8,1368.6h1.0v1.0h-1.0zM1049.0,1369.2h1.0v1.0h-1.0zM1091.0,1363.7h1.0v1.0h-1.0zM1086.3,1362.9h1.0v1.0h-1.0zM1092.0,1369.5h1.0v1.0h-1.0zM1088.1,1367.1h1.0v1.0h-1.0zM1082.2,1360.2h1.0v1.0h-1.0zM1085.9,1364.8h1.0v1.0h-1.0zM1083.3,1363.3h1.0v1.0h-1.0zM1085.3,1364.0h1.0v1.0h-1.0zM1082.1,1357.7h1.0v1.0h-1.0zM1127.4,1359.5h1.0v1.0h-1.0zM1123.1,1359.5h1.0v1.0h-1.0zM1123.7,1368.0h1.0v1.0h-1.0zM1118.5,1363.5h1.0v1.0h-1.0zM1116.8,1359.1h1.0v1.0h-1.0zM1126.0,1366.6h1.0v1.0h-1.0zM1115.0,1360.3h1.0v1.0h-1.0zM1122.6,1357.2h1.0v1.0h-1.0zM1117.7,1360.7h1.0v1.0h-1.0zM1158.9,1365.3h1.0v1.0h-1.0zM1160.2,1364.4h1.0v1.0h-1.0zM1156.4,1360.2h1.0v1.0h-1.0zM1159.1,1352.2h1.0v1.0h-1.0zM1165.3,1365.7h1.0v1.0h-1.0zM1162.6,1362.9h1.0v1.0h-1.0zM1165.0,1370.9h1.0v1.0h-1.0zM1160.8,1362.1h1.0v1.0h-1.0zM1163.1,1359.0h1.0v1.0h-1.0zM1157.8,1365.1h1.0v1.0h-1.0zM1198.9,1360.3h1.0v1.0h-1.0zM1195.5,1353.1h1.0v1.0h-1.0zM1197.1,1362.0h1.0v1.0h-1.0zM1188.2,1357.3h1.0v1.0h-1.0zM1202.4,1360.0h1.0v1.0h-1.0zM1193.2,1358.9h1.0v1.0h-1.0zM1189.1,1353.2h1.0v1.0h-1.0zM1241.5,1361.0h1.0v1.0h-1.0zM1236.6,1364.2h1.0v1.0h-1.0zM1238.4,1353.8h1.0v1.0h-1.0zM1227.8,1357.8h1.0v1.0h-1.0zM1229.1,1360.3h1.0v1.0h-1.0zM1235.2,1361.6h1.0v1.0h-1.0zM1236.4,1356.8h1.0v1.0h-1.0zM1235.1,1363.7h1.0v1.0h-1.0zM1016.5,1397.1h1.0v1.0h-1.0zM1013.3,1403.0h1.0v1.0h-1.0zM1011.1,1400.0h1.0v1.0h-1.0zM1013.3,1401.0h1.0v1.0h-1.0zM1015.3,1396.9h1.0v1.0h-1.0zM1011.9,1393.0h1.0v1.0h-1.0zM1008.6,1398.2h1.0v1.0h-1.0zM1018.3,1401.0h1.0v1.0h-1.0zM1015.8,1405.2h1.0v1.0h-1.0zM1046.6,1397.2h1.0v1.0h-1.0zM1050.5,1407.2h1.0v1.0h-1.0zM1048.8,1398.7h1.0v1.0h-1.0zM1050.2,1402.8h1.0v1.0h-1.0zM1047.1,1410.5h1.0v1.0h-1.0zM1046.8,1401.1h1.0v1.0h-1.0zM1054.5,1405.7h1.0v1.0h-1.0zM1047.4,1402.6h1.0v1.0h-1.0zM1090.8,1403.0h1.0v1.0h-1.0zM1084.6,1406.1h1.0v1.0h-1.0zM1093.6,1403.9h1.0v1.0h-1.0zM1088.2,1391.7h1.0v1.0h-1.0zM1088.4,1403.5h1.0v1.0h-1.0zM1084.7,1398.7h1.0v1.0h-1.0zM1087.1,1396.2h1.0v1.0h-1.0zM1088.4,1397.4h1.0v1.0h-1.0zM1079.2,1397.4h1.0v1.0h-1.0zM1123.9,1401.9h1.0v1.0h-1.0zM1120.1,1402.6h1.0v1.0h-1.0zM1107.7,1405.0h1.0v1.0h-1.0zM1123.1,1403.7h1.0v1.0h-1.0zM1124.8,1400.0h1.0v1.0h-1.0zM1117.7,1404.7h1.0v1.0h-1.0zM1131.2,1403.3h1.0v1.0h-1.0zM1118.5,1394.9h1.0v1.0h-1.0zM1125.0,1403.4h1.0v1.0h-1.0zM1117.2,1400.8h1.0v1.0h-1.0zM1125.3,1398.6h1.0v1.0h-1.0zM1164.1,1389.2h1.0v1.0h-1.0zM1152.9,1401.2h1.0v1.0h-1.0zM1162.8,1400.7h1.0v1.0h-1.0zM1162.1,1398.8h1.0v1.0h-1.0zM1164.6,1391.9h1.0v1.0h-1.0zM1154.8,1406.8h1.0v1.0h-1.0zM1157.0,1400.4h1.0v1.0h-1.0zM1155.3,1386.4h1.0v1.0h-1.0zM1153.3,1392.9h1.0v1.0h-1.0zM1162.0,1403.6h1.0v1.0h-1.0zM1204.0,1393.7h1.0v1.0h-1.0zM1193.6,1392.8h1.0v1.0h-1.0zM1200.8,1402.6h1.0v1.0h-1.0zM1193.6,1399.8h1.0v1.0h-1.0zM1192.9,1400.8h1.0v1.0h-1.0zM1195.6,1397.6h1.0v1.0h-1.0zM1202.2,1399.1h1.0v1.0h-1.0zM1199.4,1387.6h1.0v1.0h-1.0zM1192.6,1399.3h1.0v1.0h-1.0zM1201.0,1399.8h1.0v1.0h-1.0zM1199.6,1402.2h1.0v1.0h-1.0zM1238.9,1401.8h1.0v1.0h-1.0zM1239.0,1401.1h1.0v1.0h-1.0zM1234.7,1396.9h1.0v1.0h-1.0zM1230.3,1399.5h1.0v1.0h-1.0zM1229.0,1399.9h1.0v1.0h-1.0zM1225.1,1397.3h1.0v1.0h-1.0z" fill="rgb(230,230,255)" opacity="0.20"/>
<path d="M1162.5,1134.6h1.0v1.0h-1.0zM1156.2,1133.2h1.0v1.0h-1.0zM1162.9,1139.3h1.0v1.0h-1.0zM1153.0,1137.3h1.0v1.0h-1.0zM1157.8,1145.4h1.0v1.0h-1.0zM1162.0,1139.1h1.0v1.0h-1.0zM1016.1,1185.9h1.0v1.0h-1.0zM1019.0,1180.1h1.0v1.0h-1.0zM1017.6,1182.4h1.0v1.0h-1.0zM1045.1,1176.7h1.0v1.0h-1.0zM1046.3,1170.7h1.0v1.0h-1.0zM1053.1,1181.6h1.0v1.0h-1.0zM1046.6,1186.4h1.0v1.0h-1.0zM1049.2,1182.5h1.0v1.0h-1.0zM1126.0,1184.7h1.0v1.0h-1.0zM1116.4,1174.7h1.0v1.0h-1.0zM1118.5,1176.0h1.0v1.0h-1.0zM1197.0,1170.0h1.0v1.0h-1.0zM1192.4,1178.7h1.0v1.0h-1.0zM1189.9,1179.4h1.0v1.0h-1.0zM1189.8,1178.0h1.0v1.0h-1.0zM1198.0,1179.2h1.0v1.0h-1.0zM1193.4,1168.6h1.0v1.0h-1.0zM1186.7,1185.6h1.0v1.0h-1.0zM1242.8,1170.3h1.0v1.0h-1.0zM1228.4,1179.1h1.0v1.0h-1.0zM1237.6,1181.5h1.0v1.0h-1.0zM1236.4,1183.2h1.0v1.0h-1.0zM1241.2,1175.7h1.0v1.0h-1.0zM1245.2,1166.4h1.0v1.0h-1.0zM1040.6,1215.9h1.0v1.0h-1.0zM1049.0,1208.6h1.0v1.0h-1.0zM1043.1,1215.1h1.0v1.0h-1.0zM1043.9,1209.9h1.0v1.0h-1.0zM1091.0,1213.9h1.0v1.0h-1.0zM1086.6,1214.2h1.0v1.0h-1.0zM1090.8,1217.3h1.0v1.0h-1.0zM1087.5,1217.3h1.0v1.0h-1.0zM1081.8,1210.0h1.0v1.0h-1.0zM1087.9,1211.2h1.0v1.0h-1.0zM1191.5,1205.3h1.0v1.0h-1.0zM1198.7,1209.0h1.0v1.0h-1.0zM1200.6,1212.4h1.0v1.0h-1.0zM1201.8,1211.1h1.0v1.0h-1.0zM1197.2,1210.6h1.0v1.0h-1.0zM1198.4,1215.8h1.0v1.0h-1.0zM1201.6,1214.2h1.0v1.0h-1.0zM1202.2,1209.2h1.0v1.0h-1.0zM1018.2,1249.2h1.0v1.0h-1.0zM1008.5,1252.2h1.0v1.0h-1.0zM1011.3,1252.0h1.0v1.0h-1.0zM1019.9,1258.7h1.0v1.0h-1.0zM1011.0,1252.3h1.0v1.0h-1.0zM1018.2,1256.7h1.0v1.0h-1.0zM1078.9,1254.7h1.0v1.0h-1.0zM1086.8,1256.8h1.0v1.0h-1.0zM1089.6,1252.5h1.0v1.0h-1.0zM1082.8,1254.6h1.0v1.0h-1.0zM1086.5,1259.1h1.0v1.0h-1.0zM1086.3,1250.4h1.0v1.0h-1.0zM1240.9,1248.5h1.0v1.0h-1.0zM1087.7,1293.1h1.0v1.0h-1.0zM1085.7,1284.6h1.0v1.0h-1.0zM1086.4,1293.2h1.0v1.0h-1.0zM1009.5,1325.7h1.0v1.0h-1.0zM1011.4,1322.1h1.0v1.0h-1.0zM1201.2,1329.0h1.0v1.0h-1.0zM1200.8,1318.5h1.0v1.0h-1.0zM1189.8,1322.6h1.0v1.0h-1.0zM1192.4,1314.9h1.0v1.0h-1.0zM1199.5,1312.7h1.0v1.0h-1.0zM1198.0,1323.0h1.0v1.0h-1.0zM1270.7,1320.8h1.0v1.0h-1.0zM1274.4,1323.1h1.0v1.0h-1.0zM1280.7,1324.5h1.0v1.0h-1.0zM1269.1,1326.1h1.0v1.0h-1.0zM1271.9,1315.1h1.0v1.0h-1.0zM1269.1,1323.3h1.0v1.0h-1.0zM1275.2,1320.2h1.0v1.0h-1.0zM1268.9,1309.7h1.0v1.0h-1.0zM1193.6,1358.3h1.0v1.0h-1.0zM1193.8,1360.3h1.0v1.0h-1.0zM1201.6,1363.1h1.0v1.0h-1.0zM1192.0,1366.4h1.0v1.0h-1.0zM1195.9,1367.2h1.0v1.0h-1.0zM1232.5,1351.4h1.0v1.0h-1.0zM1231.6,1352.8h1.0v1.0h-1.0zM1239.9,1370.4h1.0v1.0h-1.0zM1231.6,1361.7h1.0v1.0h-1.0zM1231.3,1395.4h1.0v1.0h-1.0zM1235.2,1392.9h1.0v1.0h-1.0zM1241.8,1389.1h1.0v1.0h-1.0zM1234.0,1400.6h1.0v1.0h-1.0zM1236.4,1390.8h1.0v1.0h-1.0zM1240.6,1397.6h1.0v1.0h-1.0z" fill="rgb(230,230,255)" opacity="0.40"/>
<path d="M1300.2,1257.5h1v1h-1zM1294.8,1255.0h1v1h-1zM1295.6,1257.1h1v1h-1zM1288.6,1245.4h1v1h-1zM1295.8,1254.8h1v1h-1zM1294.0,1251.2h1v1h-1zM1296.1,1244.9h1v1h-1zM1291.7,1238.0h1v1h-1zM1299.4,1258.6h1v1h-1zM1292.0,1245.1h1v1h-1zM1290.9,1237.3h1v1h-1zM1292.4,1254.1h1v1h-1zM1298.1,1237.0h1v1h-1zM1295.3,1258.4h1v1h-1zM1292.5,1261.9h1v1h-1zM1298.4,1235.6h1v1h-1zM1293.6,1254.8h1v1h-1zM1289.7,1252.8h1v1h-1zM1300.2,1243.6h1v1h-1zM1299.8,1247.6h1v1h-1zM1290.5,1270.8h1v1h-1zM1298.2,1266.6h1v1h-1zM1289.4,1243.5h1v1h-1zM1293.2,1254.2h1v1h-1zM1297.0,1254.7h1v1h-1zM1298.5,1238.0h1v1h-1zM1299.6,1238.5h1v1h-1zM1299.8,1259.5h1v1h-1zM1292.1,1262.9h1v1h-1zM1293.4,1251.0h1v1h-1zM1293.7,1249.4h1v1h-1zM1297.2,1257.2h1v1h-1zM1299.4,1259.2h1v1h-1zM1293.0,1250.2h1v1h-1zM1287.2,1254.9h1v1h-1zM1294.6,1263.1h1v1h-1zM1283.3,1249.1h1v1h-1zM1287.0,1236.6h1v1h-1zM1297.4,1256.5h1v1h-1zM1296.9,1270.6h1v1h-1zM1295.9,1257.0h1v1h-1zM1298.8,1247.8h1v1h-1zM1298.3,1240.5h1v1h-1zM1297.4,1277.2h1v1h-1zM1297.2,1245.1h1v1h-1zM1294.3,1261.3h1v1h-1zM1285.2,1262.8h1v1h-1zM1297.4,1259.5h1v1h-1zM1292.7,1255.3h1v1h-1zM1296.9,1248.9h1v1h-1zM1297.7,1238.4h1v1h-1zM1293.5,1228.7h1v1h-1zM1295.1,1242.4h1v1h-1zM1294.6,1263.8h1v1h-1zM1293.9,1257.7h1v1h-1zM1300.2,1257.2h1v1h-1zM1292.4,1260.4h1v1h-1zM1283.4,1234.6h1v1h-1zM1299.8,1258.4h1v1h-1zM1297.5,1253.7h1v1h-1zM1297.5,1241.8h1v1h-1zM1297.2,1256.3h1v1h-1zM1298.9,1244.2h1v1h-1zM1298.8,1250.3h1v1h-1zM1293.9,1246.0h1v1h-1zM1292.6,1255.5h1v1h-1zM1299.1,1275.4h1v1h-1zM1291.6,1249.4h1v1h-1zM1293.2,1239.3h1v1h-1zM1298.4,1246.3h1v1h-1z" fill="#c0c0ee" opacity="0.6"/>
<path d="M303,1327 L312,1320 M319,1345 L323,1338 M316,1282 L324,1283" stroke="#ddd" stroke-width="0.8" opacity="0.8" fill="none"/>
<linearGradient id="cbd" x1="0" y1="0" x2="0" y2="1"><stop offset="0" stop-color="#fff"/><stop offset="0.25" stop-color="#fff"/><stop offset="0.29" stop-color="#e4e4fb"/><stop offset="0.43" stop-color="#9292ba"/><stop offset="0.59" stop-color="#42427e"/><stop offset="0.71" stop-color="#02024a"/><stop offset="0.85" stop-color="#01010c"/><stop offset="1" stop-color="#000"/></linearGradient>
<rect x="1313.6" y="1141.6" width="20.8" height="254.8" fill="url(#cbd)" stroke="#222" stroke-width="1"/>
<text x="1303.3" y="1130.8" font-size="25" textLength="46.5" lengthAdjust="spacingAndGlyphs">Max</text>
<text x="1305.2" y="1416.9" font-size="25" textLength="38.5" lengthAdjust="spacingAndGlyphs">Min</text>
</svg>
</body></html>
